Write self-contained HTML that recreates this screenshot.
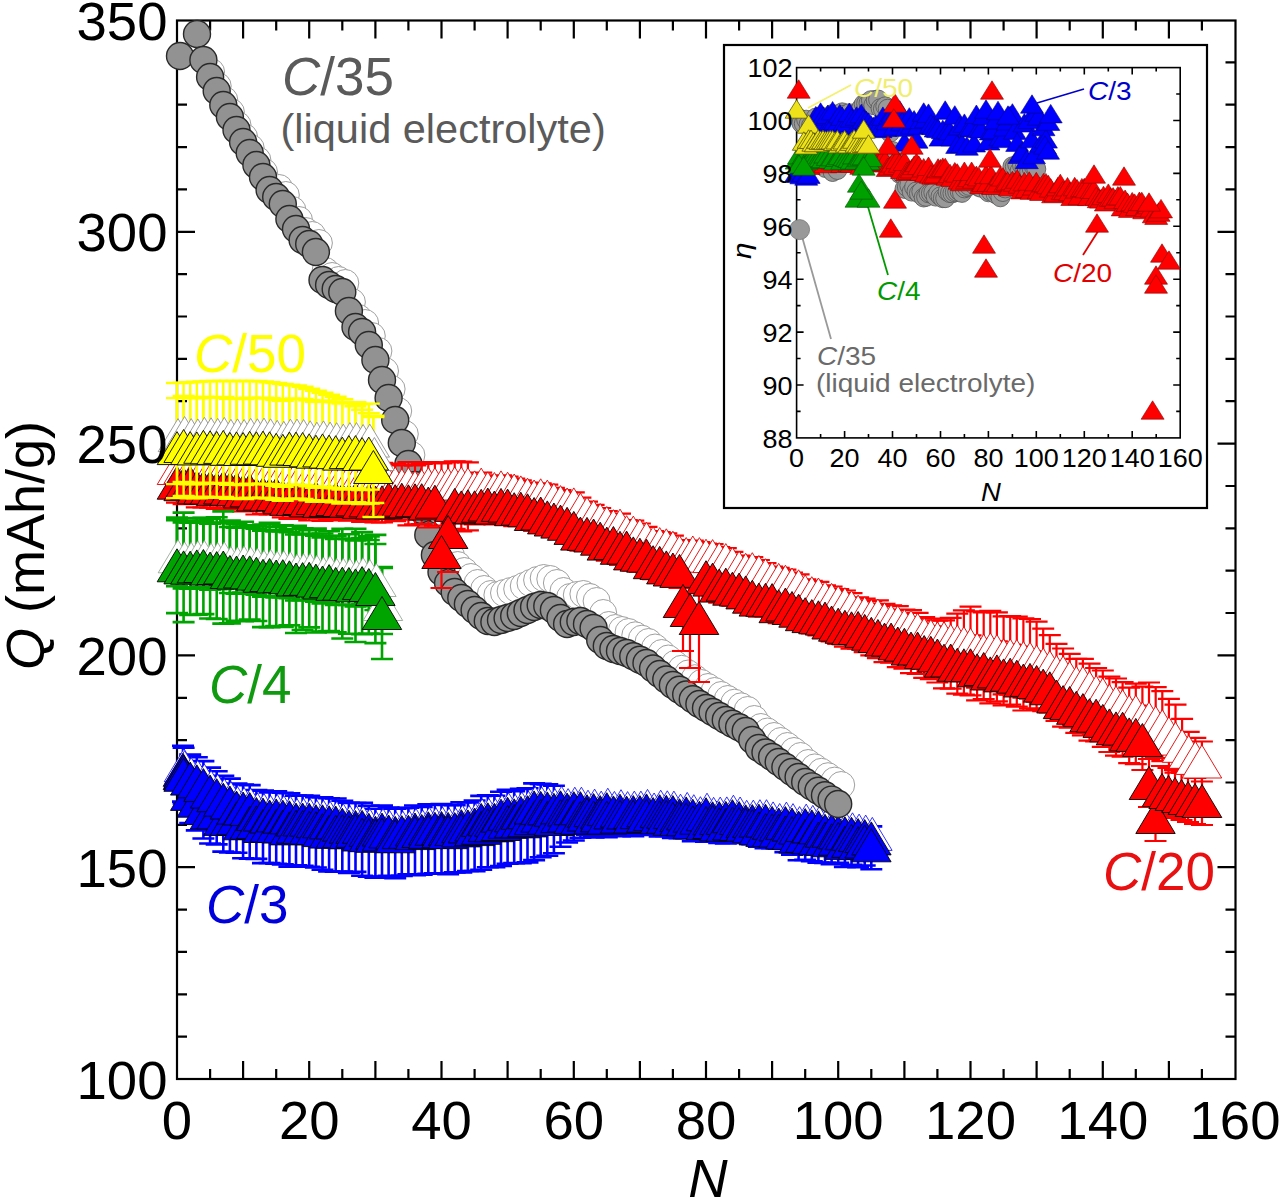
<!DOCTYPE html>
<html><head><meta charset="utf-8"><style>
html,body{margin:0;padding:0;background:#fff;}
svg{display:block;font-family:"Liberation Sans",sans-serif;}
</style></head><body>
<svg width="1280" height="1203" viewBox="0 0 1280 1203">
<rect x="0" y="0" width="1280" height="1203" fill="#fff"/>
<rect x="177" y="20.5" width="1058.5" height="1058.5" fill="none" stroke="#000" stroke-width="2.2"/>
<path d="M210.1 1079v-10M210.1 20.5v10M243.1 1079v-18M243.1 20.5v18M276.2 1079v-10M276.2 20.5v10M309.2 1079v-18M309.2 20.5v18M342.3 1079v-10M342.3 20.5v10M375.4 1079v-18M375.4 20.5v18M408.4 1079v-10M408.4 20.5v10M441.5 1079v-18M441.5 20.5v18M474.6 1079v-10M474.6 20.5v10M507.6 1079v-18M507.6 20.5v18M540.7 1079v-10M540.7 20.5v10M573.8 1079v-18M573.8 20.5v18M606.8 1079v-10M606.8 20.5v10M639.9 1079v-18M639.9 20.5v18M672.9 1079v-10M672.9 20.5v10M706.0 1079v-18M706.0 20.5v18M739.1 1079v-10M739.1 20.5v10M772.1 1079v-18M772.1 20.5v18M805.2 1079v-10M805.2 20.5v10M838.2 1079v-18M838.2 20.5v18M871.3 1079v-10M871.3 20.5v10M904.4 1079v-18M904.4 20.5v18M937.4 1079v-10M937.4 20.5v10M970.5 1079v-18M970.5 20.5v18M1003.6 1079v-10M1003.6 20.5v10M1036.6 1079v-18M1036.6 20.5v18M1069.7 1079v-10M1069.7 20.5v10M1102.8 1079v-18M1102.8 20.5v18M1135.8 1079v-10M1135.8 20.5v10M1168.9 1079v-18M1168.9 20.5v18M1201.9 1079v-10M1201.9 20.5v10M177 1036.6h10M1235.5 1036.6h-10M177 994.3h10M1235.5 994.3h-10M177 951.9h10M1235.5 951.9h-10M177 909.6h10M1235.5 909.6h-10M177 867.2h18M1235.5 867.2h-18M177 824.8h10M1235.5 824.8h-10M177 782.5h10M1235.5 782.5h-10M177 740.1h10M1235.5 740.1h-10M177 697.8h10M1235.5 697.8h-10M177 655.4h18M1235.5 655.4h-18M177 613.0h10M1235.5 613.0h-10M177 570.7h10M1235.5 570.7h-10M177 528.3h10M1235.5 528.3h-10M177 486.0h10M1235.5 486.0h-10M177 443.6h18M1235.5 443.6h-18M177 401.2h10M1235.5 401.2h-10M177 358.9h10M1235.5 358.9h-10M177 316.5h10M1235.5 316.5h-10M177 274.2h10M1235.5 274.2h-10M177 231.8h18M1235.5 231.8h-18M177 189.4h10M1235.5 189.4h-10M177 147.1h10M1235.5 147.1h-10M177 104.7h10M1235.5 104.7h-10M177 62.4h10M1235.5 62.4h-10" stroke="#000" stroke-width="2.2" fill="none"/>
<path d="M183.0 745.8V769.8M172.0 745.8h22M172.0 769.8h22" stroke="#0000ff" stroke-width="2.6" fill="none"/>
<path d="M183.0 773.1V801.6M172.0 773.1h22M172.0 801.6h22" stroke="#0000ff" stroke-width="2.6" fill="none"/>
<path d="M183.6 747.7V771.7M172.6 747.7h22M172.6 771.7h22" stroke="#0000ff" stroke-width="2.6" fill="none"/>
<path d="M183.6 774.8V803.4M172.6 774.8h22M172.6 803.4h22" stroke="#0000ff" stroke-width="2.6" fill="none"/>
<path d="M190.2 754.6V778.6M179.2 754.6h22M179.2 778.6h22" stroke="#0000ff" stroke-width="2.6" fill="none"/>
<path d="M190.2 793.9V823.1M179.2 793.9h22M179.2 823.1h22" stroke="#0000ff" stroke-width="2.6" fill="none"/>
<path d="M196.8 757.3V781.3M185.8 757.3h22M185.8 781.3h22" stroke="#0000ff" stroke-width="2.6" fill="none"/>
<path d="M196.8 800.7V830.4M185.8 800.7h22M185.8 830.4h22" stroke="#0000ff" stroke-width="2.6" fill="none"/>
<path d="M203.4 761.1V785.1M192.4 761.1h22M192.4 785.1h22" stroke="#0000ff" stroke-width="2.6" fill="none"/>
<path d="M203.4 808.1V838.5M192.4 808.1h22M192.4 838.5h22" stroke="#0000ff" stroke-width="2.6" fill="none"/>
<path d="M210.1 767.6V791.6M199.1 767.6h22M199.1 791.6h22" stroke="#0000ff" stroke-width="2.6" fill="none"/>
<path d="M210.1 812.4V843.5M199.1 812.4h22M199.1 843.5h22" stroke="#0000ff" stroke-width="2.6" fill="none"/>
<path d="M216.7 771.2V795.2M205.7 771.2h22M205.7 795.2h22" stroke="#0000ff" stroke-width="2.6" fill="none"/>
<path d="M216.7 812.5V844.4M205.7 812.5h22M205.7 844.4h22" stroke="#0000ff" stroke-width="2.6" fill="none"/>
<path d="M223.3 775.7V799.7M212.3 775.7h22M212.3 799.7h22" stroke="#0000ff" stroke-width="2.6" fill="none"/>
<path d="M223.3 818.9V851.6M212.3 818.9h22M212.3 851.6h22" stroke="#0000ff" stroke-width="2.6" fill="none"/>
<path d="M229.9 778.6V802.6M218.9 778.6h22M218.9 802.6h22" stroke="#0000ff" stroke-width="2.6" fill="none"/>
<path d="M229.9 819.0V852.5M218.9 819.0h22M218.9 852.5h22" stroke="#0000ff" stroke-width="2.6" fill="none"/>
<path d="M236.5 783.6V807.6M225.5 783.6h22M225.5 807.6h22" stroke="#0000ff" stroke-width="2.6" fill="none"/>
<path d="M236.5 818.4V852.7M225.5 818.4h22M225.5 852.7h22" stroke="#0000ff" stroke-width="2.6" fill="none"/>
<path d="M243.1 784.5V808.5M232.1 784.5h22M232.1 808.5h22" stroke="#0000ff" stroke-width="2.6" fill="none"/>
<path d="M243.1 823.3V858.3M232.1 823.3h22M232.1 858.3h22" stroke="#0000ff" stroke-width="2.6" fill="none"/>
<path d="M249.7 785.1V809.1M238.7 785.1h22M238.7 809.1h22" stroke="#0000ff" stroke-width="2.6" fill="none"/>
<path d="M249.7 822.8V858.7M238.7 822.8h22M238.7 858.7h22" stroke="#0000ff" stroke-width="2.6" fill="none"/>
<path d="M256.4 790.0V814.0M245.4 790.0h22M245.4 814.0h22" stroke="#0000ff" stroke-width="2.6" fill="none"/>
<path d="M256.4 822.3V858.9M245.4 822.3h22M245.4 858.9h22" stroke="#0000ff" stroke-width="2.6" fill="none"/>
<path d="M263.0 790.6V814.6M252.0 790.6h22M252.0 814.6h22" stroke="#0000ff" stroke-width="2.6" fill="none"/>
<path d="M263.0 826.0V863.1M252.0 826.0h22M252.0 863.1h22" stroke="#0000ff" stroke-width="2.6" fill="none"/>
<path d="M269.6 792.5V816.5M258.6 792.5h22M258.6 816.5h22" stroke="#0000ff" stroke-width="2.6" fill="none"/>
<path d="M269.6 825.6V863.0M258.6 825.6h22M258.6 863.0h22" stroke="#0000ff" stroke-width="2.6" fill="none"/>
<path d="M276.2 791.4V815.4M265.2 791.4h22M265.2 815.4h22" stroke="#0000ff" stroke-width="2.6" fill="none"/>
<path d="M276.2 826.1V863.8M265.2 826.1h22M265.2 863.8h22" stroke="#0000ff" stroke-width="2.6" fill="none"/>
<path d="M282.8 792.7V816.7M271.8 792.7h22M271.8 816.7h22" stroke="#0000ff" stroke-width="2.6" fill="none"/>
<path d="M282.8 826.5V864.4M271.8 826.5h22M271.8 864.4h22" stroke="#0000ff" stroke-width="2.6" fill="none"/>
<path d="M289.4 793.3V817.3M278.4 793.3h22M278.4 817.3h22" stroke="#0000ff" stroke-width="2.6" fill="none"/>
<path d="M289.4 828.4V866.6M278.4 828.4h22M278.4 866.6h22" stroke="#0000ff" stroke-width="2.6" fill="none"/>
<path d="M296.0 795.6V819.6M285.0 795.6h22M285.0 819.6h22" stroke="#0000ff" stroke-width="2.6" fill="none"/>
<path d="M296.0 826.7V865.2M285.0 826.7h22M285.0 865.2h22" stroke="#0000ff" stroke-width="2.6" fill="none"/>
<path d="M302.6 795.5V819.5M291.6 795.5h22M291.6 819.5h22" stroke="#0000ff" stroke-width="2.6" fill="none"/>
<path d="M302.6 827.0V865.8M291.6 827.0h22M291.6 865.8h22" stroke="#0000ff" stroke-width="2.6" fill="none"/>
<path d="M309.2 795.7V819.7M298.2 795.7h22M298.2 819.7h22" stroke="#0000ff" stroke-width="2.6" fill="none"/>
<path d="M309.2 827.7V866.8M298.2 827.7h22M298.2 866.8h22" stroke="#0000ff" stroke-width="2.6" fill="none"/>
<path d="M315.9 797.2V821.2M304.9 797.2h22M304.9 821.2h22" stroke="#0000ff" stroke-width="2.6" fill="none"/>
<path d="M315.9 828.2V867.5M304.9 828.2h22M304.9 867.5h22" stroke="#0000ff" stroke-width="2.6" fill="none"/>
<path d="M322.5 797.3V821.3M311.5 797.3h22M311.5 821.3h22" stroke="#0000ff" stroke-width="2.6" fill="none"/>
<path d="M322.5 830.1V869.8M311.5 830.1h22M311.5 869.8h22" stroke="#0000ff" stroke-width="2.6" fill="none"/>
<path d="M329.1 798.3V822.3M318.1 798.3h22M318.1 822.3h22" stroke="#0000ff" stroke-width="2.6" fill="none"/>
<path d="M329.1 831.6V871.5M318.1 831.6h22M318.1 871.5h22" stroke="#0000ff" stroke-width="2.6" fill="none"/>
<path d="M335.7 798.5V822.5M324.7 798.5h22M324.7 822.5h22" stroke="#0000ff" stroke-width="2.6" fill="none"/>
<path d="M335.7 831.7V871.8M324.7 831.7h22M324.7 871.8h22" stroke="#0000ff" stroke-width="2.6" fill="none"/>
<path d="M342.3 800.7V824.7M331.3 800.7h22M331.3 824.7h22" stroke="#0000ff" stroke-width="2.6" fill="none"/>
<path d="M342.3 831.2V871.6M331.3 831.2h22M331.3 871.6h22" stroke="#0000ff" stroke-width="2.6" fill="none"/>
<path d="M348.9 802.7V826.7M337.9 802.7h22M337.9 826.7h22" stroke="#0000ff" stroke-width="2.6" fill="none"/>
<path d="M348.9 832.3V873.0M337.9 832.3h22M337.9 873.0h22" stroke="#0000ff" stroke-width="2.6" fill="none"/>
<path d="M355.5 803.0V827.0M344.5 803.0h22M344.5 827.0h22" stroke="#0000ff" stroke-width="2.6" fill="none"/>
<path d="M355.5 830.9V871.9M344.5 830.9h22M344.5 871.9h22" stroke="#0000ff" stroke-width="2.6" fill="none"/>
<path d="M362.1 802.9V826.9M351.1 802.9h22M351.1 826.9h22" stroke="#0000ff" stroke-width="2.6" fill="none"/>
<path d="M362.1 834.5V875.7M351.1 834.5h22M351.1 875.7h22" stroke="#0000ff" stroke-width="2.6" fill="none"/>
<path d="M368.8 805.8V829.8M357.8 805.8h22M357.8 829.8h22" stroke="#0000ff" stroke-width="2.6" fill="none"/>
<path d="M368.8 835.2V876.7M357.8 835.2h22M357.8 876.7h22" stroke="#0000ff" stroke-width="2.6" fill="none"/>
<path d="M375.4 808.7V832.7M364.4 808.7h22M364.4 832.7h22" stroke="#0000ff" stroke-width="2.6" fill="none"/>
<path d="M375.4 835.8V877.6M364.4 835.8h22M364.4 877.6h22" stroke="#0000ff" stroke-width="2.6" fill="none"/>
<path d="M382.0 805.6V829.6M371.0 805.6h22M371.0 829.6h22" stroke="#0000ff" stroke-width="2.6" fill="none"/>
<path d="M382.0 834.5V876.5M371.0 834.5h22M371.0 876.5h22" stroke="#0000ff" stroke-width="2.6" fill="none"/>
<path d="M388.6 807.5V831.5M377.6 807.5h22M377.6 831.5h22" stroke="#0000ff" stroke-width="2.6" fill="none"/>
<path d="M388.6 833.8V875.8M377.6 833.8h22M377.6 875.8h22" stroke="#0000ff" stroke-width="2.6" fill="none"/>
<path d="M395.2 808.8V832.8M384.2 808.8h22M384.2 832.8h22" stroke="#0000ff" stroke-width="2.6" fill="none"/>
<path d="M395.2 836.3V878.3M384.2 836.3h22M384.2 878.3h22" stroke="#0000ff" stroke-width="2.6" fill="none"/>
<path d="M401.8 808.1V832.1M390.8 808.1h22M390.8 832.1h22" stroke="#0000ff" stroke-width="2.6" fill="none"/>
<path d="M401.8 833.9V875.9M390.8 833.9h22M390.8 875.9h22" stroke="#0000ff" stroke-width="2.6" fill="none"/>
<path d="M408.4 807.8V831.8M397.4 807.8h22M397.4 831.8h22" stroke="#0000ff" stroke-width="2.6" fill="none"/>
<path d="M408.4 832.2V874.2M397.4 832.2h22M397.4 874.2h22" stroke="#0000ff" stroke-width="2.6" fill="none"/>
<path d="M415.0 805.5V829.5M404.0 805.5h22M404.0 829.5h22" stroke="#0000ff" stroke-width="2.6" fill="none"/>
<path d="M415.0 833.1V875.1M404.0 833.1h22M404.0 875.1h22" stroke="#0000ff" stroke-width="2.6" fill="none"/>
<path d="M421.7 807.0V831.0M410.7 807.0h22M410.7 831.0h22" stroke="#0000ff" stroke-width="2.6" fill="none"/>
<path d="M421.7 832.7V874.7M410.7 832.7h22M410.7 874.7h22" stroke="#0000ff" stroke-width="2.6" fill="none"/>
<path d="M428.3 804.3V828.3M417.3 804.3h22M417.3 828.3h22" stroke="#0000ff" stroke-width="2.6" fill="none"/>
<path d="M428.3 831.8V873.8M417.3 831.8h22M417.3 873.8h22" stroke="#0000ff" stroke-width="2.6" fill="none"/>
<path d="M434.9 804.8V828.8M423.9 804.8h22M423.9 828.8h22" stroke="#0000ff" stroke-width="2.6" fill="none"/>
<path d="M434.9 831.2V873.2M423.9 831.2h22M423.9 873.2h22" stroke="#0000ff" stroke-width="2.6" fill="none"/>
<path d="M441.5 804.0V828.0M430.5 804.0h22M430.5 828.0h22" stroke="#0000ff" stroke-width="2.6" fill="none"/>
<path d="M441.5 831.2V873.2M430.5 831.2h22M430.5 873.2h22" stroke="#0000ff" stroke-width="2.6" fill="none"/>
<path d="M448.1 804.9V828.9M437.1 804.9h22M437.1 828.9h22" stroke="#0000ff" stroke-width="2.6" fill="none"/>
<path d="M448.1 832.2V874.2M437.1 832.2h22M437.1 874.2h22" stroke="#0000ff" stroke-width="2.6" fill="none"/>
<path d="M454.7 805.1V829.1M443.7 805.1h22M443.7 829.1h22" stroke="#0000ff" stroke-width="2.6" fill="none"/>
<path d="M454.7 830.4V872.4M443.7 830.4h22M443.7 872.4h22" stroke="#0000ff" stroke-width="2.6" fill="none"/>
<path d="M461.3 802.2V826.2M450.3 802.2h22M450.3 826.2h22" stroke="#0000ff" stroke-width="2.6" fill="none"/>
<path d="M461.3 830.4V872.4M450.3 830.4h22M450.3 872.4h22" stroke="#0000ff" stroke-width="2.6" fill="none"/>
<path d="M467.9 802.4V826.4M456.9 802.4h22M456.9 826.4h22" stroke="#0000ff" stroke-width="2.6" fill="none"/>
<path d="M467.9 829.0V871.0M456.9 829.0h22M456.9 871.0h22" stroke="#0000ff" stroke-width="2.6" fill="none"/>
<path d="M474.6 800.5V824.5M463.6 800.5h22M463.6 824.5h22" stroke="#0000ff" stroke-width="2.6" fill="none"/>
<path d="M474.6 829.1V871.1M463.6 829.1h22M463.6 871.1h22" stroke="#0000ff" stroke-width="2.6" fill="none"/>
<path d="M481.2 795.9V819.9M470.2 795.9h22M470.2 819.9h22" stroke="#0000ff" stroke-width="2.6" fill="none"/>
<path d="M481.2 827.8V869.8M470.2 827.8h22M470.2 869.8h22" stroke="#0000ff" stroke-width="2.6" fill="none"/>
<path d="M487.8 795.3V819.3M476.8 795.3h22M476.8 819.3h22" stroke="#0000ff" stroke-width="2.6" fill="none"/>
<path d="M487.8 825.2V867.2M476.8 825.2h22M476.8 867.2h22" stroke="#0000ff" stroke-width="2.6" fill="none"/>
<path d="M494.4 795.8V819.8M483.4 795.8h22M483.4 819.8h22" stroke="#0000ff" stroke-width="2.6" fill="none"/>
<path d="M494.4 825.2V867.2M483.4 825.2h22M483.4 867.2h22" stroke="#0000ff" stroke-width="2.6" fill="none"/>
<path d="M501.0 791.7V815.7M490.0 791.7h22M490.0 815.7h22" stroke="#0000ff" stroke-width="2.6" fill="none"/>
<path d="M501.0 824.0V866.0M490.0 824.0h22M490.0 866.0h22" stroke="#0000ff" stroke-width="2.6" fill="none"/>
<path d="M507.6 789.8V813.8M496.6 789.8h22M496.6 813.8h22" stroke="#0000ff" stroke-width="2.6" fill="none"/>
<path d="M507.6 821.8V863.8M496.6 821.8h22M496.6 863.8h22" stroke="#0000ff" stroke-width="2.6" fill="none"/>
<path d="M514.2 791.3V815.3M503.2 791.3h22M503.2 815.3h22" stroke="#0000ff" stroke-width="2.6" fill="none"/>
<path d="M514.2 821.1V863.1M503.2 821.1h22M503.2 863.1h22" stroke="#0000ff" stroke-width="2.6" fill="none"/>
<path d="M520.8 788.9V812.9M509.8 788.9h22M509.8 812.9h22" stroke="#0000ff" stroke-width="2.6" fill="none"/>
<path d="M520.8 821.3V863.3M509.8 821.3h22M509.8 863.3h22" stroke="#0000ff" stroke-width="2.6" fill="none"/>
<path d="M527.5 788.2V812.2M516.5 788.2h22M516.5 812.2h22" stroke="#0000ff" stroke-width="2.6" fill="none"/>
<path d="M527.5 820.4V862.4M516.5 820.4h22M516.5 862.4h22" stroke="#0000ff" stroke-width="2.6" fill="none"/>
<path d="M534.1 783.4V807.4M523.1 783.4h22M523.1 807.4h22" stroke="#0000ff" stroke-width="2.6" fill="none"/>
<path d="M534.1 818.1V860.1M523.1 818.1h22M523.1 860.1h22" stroke="#0000ff" stroke-width="2.6" fill="none"/>
<path d="M540.7 783.9V807.9M529.7 783.9h22M529.7 807.9h22" stroke="#0000ff" stroke-width="2.6" fill="none"/>
<path d="M540.7 815.7V857.3M529.7 815.7h22M529.7 857.3h22" stroke="#0000ff" stroke-width="2.6" fill="none"/>
<path d="M547.3 784.4V808.4M536.3 784.4h22M536.3 808.4h22" stroke="#0000ff" stroke-width="2.6" fill="none"/>
<path d="M547.3 817.8V855.8M536.3 817.8h22M536.3 855.8h22" stroke="#0000ff" stroke-width="2.6" fill="none"/>
<path d="M553.9 785.8V809.8M542.9 785.8h22M542.9 809.8h22" stroke="#0000ff" stroke-width="2.6" fill="none"/>
<path d="M553.9 819.0V853.3M542.9 819.0h22M542.9 853.3h22" stroke="#0000ff" stroke-width="2.6" fill="none"/>
<path d="M560.5 795.3V807.3M549.5 795.3h22M549.5 807.3h22" stroke="#0000ff" stroke-width="2.6" fill="none"/>
<path d="M560.5 816.0V846.7M549.5 816.0h22M549.5 846.7h22" stroke="#0000ff" stroke-width="2.6" fill="none"/>
<path d="M567.1 797.6V809.6M556.1 797.6h22M556.1 809.6h22" stroke="#0000ff" stroke-width="2.6" fill="none"/>
<path d="M567.1 815.5V842.5M556.1 815.5h22M556.1 842.5h22" stroke="#0000ff" stroke-width="2.6" fill="none"/>
<path d="M573.8 796.2V808.2M562.8 796.2h22M562.8 808.2h22" stroke="#0000ff" stroke-width="2.6" fill="none"/>
<path d="M573.8 817.1V840.5M562.8 817.1h22M562.8 840.5h22" stroke="#0000ff" stroke-width="2.6" fill="none"/>
<path d="M580.4 796.2V808.2M569.4 796.2h22M569.4 808.2h22" stroke="#0000ff" stroke-width="2.6" fill="none"/>
<path d="M580.4 817.8V837.8M569.4 817.8h22M569.4 837.8h22" stroke="#0000ff" stroke-width="2.6" fill="none"/>
<path d="M587.0 799.2V811.2M576.0 799.2h22M576.0 811.2h22" stroke="#0000ff" stroke-width="2.6" fill="none"/>
<path d="M587.0 814.6V834.6M576.0 814.6h22M576.0 834.6h22" stroke="#0000ff" stroke-width="2.6" fill="none"/>
<path d="M593.6 798.1V810.1M582.6 798.1h22M582.6 810.1h22" stroke="#0000ff" stroke-width="2.6" fill="none"/>
<path d="M593.6 817.5V837.4M582.6 817.5h22M582.6 837.4h22" stroke="#0000ff" stroke-width="2.6" fill="none"/>
<path d="M600.2 800.1V812.1M589.2 800.1h22M589.2 812.1h22" stroke="#0000ff" stroke-width="2.6" fill="none"/>
<path d="M600.2 815.3V835.1M589.2 815.3h22M589.2 835.1h22" stroke="#0000ff" stroke-width="2.6" fill="none"/>
<path d="M606.8 797.2V809.2M595.8 797.2h22M595.8 809.2h22" stroke="#0000ff" stroke-width="2.6" fill="none"/>
<path d="M606.8 817.6V837.3M595.8 817.6h22M595.8 837.3h22" stroke="#0000ff" stroke-width="2.6" fill="none"/>
<path d="M613.4 800.4V812.4M602.4 800.4h22M602.4 812.4h22" stroke="#0000ff" stroke-width="2.6" fill="none"/>
<path d="M613.4 814.7V834.4M602.4 814.7h22M602.4 834.4h22" stroke="#0000ff" stroke-width="2.6" fill="none"/>
<path d="M620.0 798.7V810.7M609.0 798.7h22M609.0 810.7h22" stroke="#0000ff" stroke-width="2.6" fill="none"/>
<path d="M620.0 816.7V836.3M609.0 816.7h22M609.0 836.3h22" stroke="#0000ff" stroke-width="2.6" fill="none"/>
<path d="M626.6 800.6V812.6M615.6 800.6h22M615.6 812.6h22" stroke="#0000ff" stroke-width="2.6" fill="none"/>
<path d="M626.6 814.3V833.9M615.6 814.3h22M615.6 833.9h22" stroke="#0000ff" stroke-width="2.6" fill="none"/>
<path d="M633.3 800.1V812.1M622.3 800.1h22M622.3 812.1h22" stroke="#0000ff" stroke-width="2.6" fill="none"/>
<path d="M633.3 816.7V836.2M622.3 816.7h22M622.3 836.2h22" stroke="#0000ff" stroke-width="2.6" fill="none"/>
<path d="M639.9 800.1V812.1M628.9 800.1h22M628.9 812.1h22" stroke="#0000ff" stroke-width="2.6" fill="none"/>
<path d="M639.9 814.7V834.1M628.9 814.7h22M628.9 834.1h22" stroke="#0000ff" stroke-width="2.6" fill="none"/>
<path d="M646.5 798.4V810.4M635.5 798.4h22M635.5 810.4h22" stroke="#0000ff" stroke-width="2.6" fill="none"/>
<path d="M646.5 815.7V835.0M635.5 815.7h22M635.5 835.0h22" stroke="#0000ff" stroke-width="2.6" fill="none"/>
<path d="M653.1 802.0V814.0M642.1 802.0h22M642.1 814.0h22" stroke="#0000ff" stroke-width="2.6" fill="none"/>
<path d="M653.1 815.3V834.6M642.1 815.3h22M642.1 834.6h22" stroke="#0000ff" stroke-width="2.6" fill="none"/>
<path d="M659.7 799.2V811.2M648.7 799.2h22M648.7 811.2h22" stroke="#0000ff" stroke-width="2.6" fill="none"/>
<path d="M659.7 817.2V836.4M648.7 817.2h22M648.7 836.4h22" stroke="#0000ff" stroke-width="2.6" fill="none"/>
<path d="M666.3 799.8V811.8M655.3 799.8h22M655.3 811.8h22" stroke="#0000ff" stroke-width="2.6" fill="none"/>
<path d="M666.3 816.9V836.0M655.3 816.9h22M655.3 836.0h22" stroke="#0000ff" stroke-width="2.6" fill="none"/>
<path d="M672.9 800.1V812.1M661.9 800.1h22M661.9 812.1h22" stroke="#0000ff" stroke-width="2.6" fill="none"/>
<path d="M672.9 818.9V838.0M661.9 818.9h22M661.9 838.0h22" stroke="#0000ff" stroke-width="2.6" fill="none"/>
<path d="M679.5 803.2V815.2M668.5 803.2h22M668.5 815.2h22" stroke="#0000ff" stroke-width="2.6" fill="none"/>
<path d="M679.5 819.1V838.1M668.5 819.1h22M668.5 838.1h22" stroke="#0000ff" stroke-width="2.6" fill="none"/>
<path d="M686.2 801.4V813.4M675.2 801.4h22M675.2 813.4h22" stroke="#0000ff" stroke-width="2.6" fill="none"/>
<path d="M686.2 819.3V838.3M675.2 819.3h22M675.2 838.3h22" stroke="#0000ff" stroke-width="2.6" fill="none"/>
<path d="M692.8 803.7V815.7M681.8 803.7h22M681.8 815.7h22" stroke="#0000ff" stroke-width="2.6" fill="none"/>
<path d="M692.8 822.3V841.2M681.8 822.3h22M681.8 841.2h22" stroke="#0000ff" stroke-width="2.6" fill="none"/>
<path d="M699.4 805.7V817.7M688.4 805.7h22M688.4 817.7h22" stroke="#0000ff" stroke-width="2.6" fill="none"/>
<path d="M699.4 820.1V838.9M688.4 820.1h22M688.4 838.9h22" stroke="#0000ff" stroke-width="2.6" fill="none"/>
<path d="M706.0 802.2V814.2M695.0 802.2h22M695.0 814.2h22" stroke="#0000ff" stroke-width="2.6" fill="none"/>
<path d="M706.0 823.0V841.8M695.0 823.0h22M695.0 841.8h22" stroke="#0000ff" stroke-width="2.6" fill="none"/>
<path d="M712.6 806.3V818.3M701.6 806.3h22M701.6 818.3h22" stroke="#0000ff" stroke-width="2.6" fill="none"/>
<path d="M712.6 822.1V840.8M701.6 822.1h22M701.6 840.8h22" stroke="#0000ff" stroke-width="2.6" fill="none"/>
<path d="M719.2 806.1V818.1M708.2 806.1h22M708.2 818.1h22" stroke="#0000ff" stroke-width="2.6" fill="none"/>
<path d="M719.2 824.3V842.9M708.2 824.3h22M708.2 842.9h22" stroke="#0000ff" stroke-width="2.6" fill="none"/>
<path d="M725.8 805.9V817.9M714.8 805.9h22M714.8 817.9h22" stroke="#0000ff" stroke-width="2.6" fill="none"/>
<path d="M725.8 824.9V843.4M714.8 824.9h22M714.8 843.4h22" stroke="#0000ff" stroke-width="2.6" fill="none"/>
<path d="M732.4 804.2V816.2M721.4 804.2h22M721.4 816.2h22" stroke="#0000ff" stroke-width="2.6" fill="none"/>
<path d="M732.4 823.5V842.0M721.4 823.5h22M721.4 842.0h22" stroke="#0000ff" stroke-width="2.6" fill="none"/>
<path d="M739.1 806.0V818.0M728.1 806.0h22M728.1 818.0h22" stroke="#0000ff" stroke-width="2.6" fill="none"/>
<path d="M739.1 824.0V842.4M728.1 824.0h22M728.1 842.4h22" stroke="#0000ff" stroke-width="2.6" fill="none"/>
<path d="M745.7 809.3V821.3M734.7 809.3h22M734.7 821.3h22" stroke="#0000ff" stroke-width="2.6" fill="none"/>
<path d="M745.7 824.7V843.0M734.7 824.7h22M734.7 843.0h22" stroke="#0000ff" stroke-width="2.6" fill="none"/>
<path d="M752.3 809.1V821.1M741.3 809.1h22M741.3 821.1h22" stroke="#0000ff" stroke-width="2.6" fill="none"/>
<path d="M752.3 826.0V844.2M741.3 826.0h22M741.3 844.2h22" stroke="#0000ff" stroke-width="2.6" fill="none"/>
<path d="M758.9 808.7V820.7M747.9 808.7h22M747.9 820.7h22" stroke="#0000ff" stroke-width="2.6" fill="none"/>
<path d="M758.9 828.4V846.6M747.9 828.4h22M747.9 846.6h22" stroke="#0000ff" stroke-width="2.6" fill="none"/>
<path d="M765.5 808.7V820.7M754.5 808.7h22M754.5 820.7h22" stroke="#0000ff" stroke-width="2.6" fill="none"/>
<path d="M765.5 829.9V848.1M754.5 829.9h22M754.5 848.1h22" stroke="#0000ff" stroke-width="2.6" fill="none"/>
<path d="M772.1 810.9V822.9M761.1 810.9h22M761.1 822.9h22" stroke="#0000ff" stroke-width="2.6" fill="none"/>
<path d="M772.1 830.2V848.3M761.1 830.2h22M761.1 848.3h22" stroke="#0000ff" stroke-width="2.6" fill="none"/>
<path d="M778.7 812.5V824.5M767.7 812.5h22M767.7 824.5h22" stroke="#0000ff" stroke-width="2.6" fill="none"/>
<path d="M778.7 830.7V848.7M767.7 830.7h22M767.7 848.7h22" stroke="#0000ff" stroke-width="2.6" fill="none"/>
<path d="M785.4 811.1V823.1M774.4 811.1h22M774.4 823.1h22" stroke="#0000ff" stroke-width="2.6" fill="none"/>
<path d="M785.4 832.5V852.1M774.4 832.5h22M774.4 852.1h22" stroke="#0000ff" stroke-width="2.6" fill="none"/>
<path d="M792.0 812.6V824.6M781.0 812.6h22M781.0 824.6h22" stroke="#0000ff" stroke-width="2.6" fill="none"/>
<path d="M792.0 833.0V854.6M781.0 833.0h22M781.0 854.6h22" stroke="#0000ff" stroke-width="2.6" fill="none"/>
<path d="M798.6 815.6V827.6M787.6 815.6h22M787.6 827.6h22" stroke="#0000ff" stroke-width="2.6" fill="none"/>
<path d="M798.6 836.6V860.2M787.6 836.6h22M787.6 860.2h22" stroke="#0000ff" stroke-width="2.6" fill="none"/>
<path d="M805.2 813.1V825.1M794.2 813.1h22M794.2 825.1h22" stroke="#0000ff" stroke-width="2.6" fill="none"/>
<path d="M805.2 835.9V859.9M794.2 835.9h22M794.2 859.9h22" stroke="#0000ff" stroke-width="2.6" fill="none"/>
<path d="M811.8 814.4V826.4M800.8 814.4h22M800.8 826.4h22" stroke="#0000ff" stroke-width="2.6" fill="none"/>
<path d="M811.8 837.3V861.3M800.8 837.3h22M800.8 861.3h22" stroke="#0000ff" stroke-width="2.6" fill="none"/>
<path d="M818.4 815.3V827.3M807.4 815.3h22M807.4 827.3h22" stroke="#0000ff" stroke-width="2.6" fill="none"/>
<path d="M818.4 838.6V862.6M807.4 838.6h22M807.4 862.6h22" stroke="#0000ff" stroke-width="2.6" fill="none"/>
<path d="M825.0 818.8V830.8M814.0 818.8h22M814.0 830.8h22" stroke="#0000ff" stroke-width="2.6" fill="none"/>
<path d="M825.0 838.9V862.9M814.0 838.9h22M814.0 862.9h22" stroke="#0000ff" stroke-width="2.6" fill="none"/>
<path d="M831.6 818.8V830.8M820.6 818.8h22M820.6 830.8h22" stroke="#0000ff" stroke-width="2.6" fill="none"/>
<path d="M831.6 840.3V864.3M820.6 840.3h22M820.6 864.3h22" stroke="#0000ff" stroke-width="2.6" fill="none"/>
<path d="M838.2 820.3V832.3M827.2 820.3h22M827.2 832.3h22" stroke="#0000ff" stroke-width="2.6" fill="none"/>
<path d="M838.2 838.8V862.8M827.2 838.8h22M827.2 862.8h22" stroke="#0000ff" stroke-width="2.6" fill="none"/>
<path d="M844.9 821.3V833.3M833.9 821.3h22M833.9 833.3h22" stroke="#0000ff" stroke-width="2.6" fill="none"/>
<path d="M844.9 842.9V866.9M833.9 842.9h22M833.9 866.9h22" stroke="#0000ff" stroke-width="2.6" fill="none"/>
<path d="M851.5 821.8V833.8M840.5 821.8h22M840.5 833.8h22" stroke="#0000ff" stroke-width="2.6" fill="none"/>
<path d="M851.5 840.9V864.9M840.5 840.9h22M840.5 864.9h22" stroke="#0000ff" stroke-width="2.6" fill="none"/>
<path d="M858.1 823.1V835.1M847.1 823.1h22M847.1 835.1h22" stroke="#0000ff" stroke-width="2.6" fill="none"/>
<path d="M858.1 843.2V867.2M847.1 843.2h22M847.1 867.2h22" stroke="#0000ff" stroke-width="2.6" fill="none"/>
<path d="M864.7 824.1V836.1M853.7 824.1h22M853.7 836.1h22" stroke="#0000ff" stroke-width="2.6" fill="none"/>
<path d="M864.7 841.5V865.5M853.7 841.5h22M853.7 865.5h22" stroke="#0000ff" stroke-width="2.6" fill="none"/>
<path d="M871.3 826.4V838.4M860.3 826.4h22M860.3 838.4h22" stroke="#0000ff" stroke-width="2.6" fill="none"/>
<path d="M871.3 845.3V869.3M860.3 845.3h22M860.3 869.3h22" stroke="#0000ff" stroke-width="2.6" fill="none"/>
<path d="M184.0 748.8L203.8 781.8L164.2 781.8Z" fill="#fff" stroke="#0000ff" stroke-width="0.8"/>
<path d="M184.6 750.7L204.4 783.7L164.9 783.7Z" fill="#fff" stroke="#0000ff" stroke-width="0.8"/>
<path d="M191.2 757.6L211.0 790.6L171.5 790.6Z" fill="#fff" stroke="#0000ff" stroke-width="0.8"/>
<path d="M197.8 760.3L217.6 793.3L178.1 793.3Z" fill="#fff" stroke="#0000ff" stroke-width="0.8"/>
<path d="M204.4 764.1L224.2 797.1L184.7 797.1Z" fill="#fff" stroke="#0000ff" stroke-width="0.8"/>
<path d="M211.1 770.6L230.8 803.6L191.3 803.6Z" fill="#fff" stroke="#0000ff" stroke-width="0.8"/>
<path d="M217.7 774.2L237.4 807.2L197.9 807.2Z" fill="#fff" stroke="#0000ff" stroke-width="0.8"/>
<path d="M224.3 778.7L244.0 811.7L204.5 811.7Z" fill="#fff" stroke="#0000ff" stroke-width="0.8"/>
<path d="M230.9 781.6L250.7 814.6L211.2 814.6Z" fill="#fff" stroke="#0000ff" stroke-width="0.8"/>
<path d="M237.5 786.6L257.3 819.6L217.8 819.6Z" fill="#fff" stroke="#0000ff" stroke-width="0.8"/>
<path d="M244.1 787.5L263.9 820.5L224.4 820.5Z" fill="#fff" stroke="#0000ff" stroke-width="0.8"/>
<path d="M250.7 788.1L270.5 821.1L231.0 821.1Z" fill="#fff" stroke="#0000ff" stroke-width="0.8"/>
<path d="M257.4 793.0L277.1 826.0L237.6 826.0Z" fill="#fff" stroke="#0000ff" stroke-width="0.8"/>
<path d="M264.0 793.6L283.7 826.6L244.2 826.6Z" fill="#fff" stroke="#0000ff" stroke-width="0.8"/>
<path d="M270.6 795.5L290.3 828.5L250.8 828.5Z" fill="#fff" stroke="#0000ff" stroke-width="0.8"/>
<path d="M277.2 794.4L296.9 827.4L257.4 827.4Z" fill="#fff" stroke="#0000ff" stroke-width="0.8"/>
<path d="M283.8 795.7L303.6 828.7L264.1 828.7Z" fill="#fff" stroke="#0000ff" stroke-width="0.8"/>
<path d="M290.4 796.3L310.2 829.3L270.7 829.3Z" fill="#fff" stroke="#0000ff" stroke-width="0.8"/>
<path d="M297.0 798.6L316.8 831.6L277.3 831.6Z" fill="#fff" stroke="#0000ff" stroke-width="0.8"/>
<path d="M303.6 798.5L323.4 831.5L283.9 831.5Z" fill="#fff" stroke="#0000ff" stroke-width="0.8"/>
<path d="M310.2 798.7L330.0 831.7L290.5 831.7Z" fill="#fff" stroke="#0000ff" stroke-width="0.8"/>
<path d="M316.9 800.2L336.6 833.2L297.1 833.2Z" fill="#fff" stroke="#0000ff" stroke-width="0.8"/>
<path d="M323.5 800.3L343.2 833.3L303.7 833.3Z" fill="#fff" stroke="#0000ff" stroke-width="0.8"/>
<path d="M330.1 801.3L349.8 834.3L310.3 834.3Z" fill="#fff" stroke="#0000ff" stroke-width="0.8"/>
<path d="M336.7 801.5L356.4 834.5L316.9 834.5Z" fill="#fff" stroke="#0000ff" stroke-width="0.8"/>
<path d="M343.3 803.7L363.1 836.7L323.6 836.7Z" fill="#fff" stroke="#0000ff" stroke-width="0.8"/>
<path d="M349.9 805.7L369.7 838.7L330.2 838.7Z" fill="#fff" stroke="#0000ff" stroke-width="0.8"/>
<path d="M356.5 806.0L376.3 839.0L336.8 839.0Z" fill="#fff" stroke="#0000ff" stroke-width="0.8"/>
<path d="M363.1 805.9L382.9 838.9L343.4 838.9Z" fill="#fff" stroke="#0000ff" stroke-width="0.8"/>
<path d="M369.8 808.8L389.5 841.8L350.0 841.8Z" fill="#fff" stroke="#0000ff" stroke-width="0.8"/>
<path d="M376.4 811.7L396.1 844.7L356.6 844.7Z" fill="#fff" stroke="#0000ff" stroke-width="0.8"/>
<path d="M383.0 808.6L402.7 841.6L363.2 841.6Z" fill="#fff" stroke="#0000ff" stroke-width="0.8"/>
<path d="M389.6 810.5L409.4 843.5L369.9 843.5Z" fill="#fff" stroke="#0000ff" stroke-width="0.8"/>
<path d="M396.2 811.8L416.0 844.8L376.5 844.8Z" fill="#fff" stroke="#0000ff" stroke-width="0.8"/>
<path d="M402.8 811.1L422.6 844.1L383.1 844.1Z" fill="#fff" stroke="#0000ff" stroke-width="0.8"/>
<path d="M409.4 810.8L429.2 843.8L389.7 843.8Z" fill="#fff" stroke="#0000ff" stroke-width="0.8"/>
<path d="M416.0 808.5L435.8 841.5L396.3 841.5Z" fill="#fff" stroke="#0000ff" stroke-width="0.8"/>
<path d="M422.7 810.0L442.4 843.0L402.9 843.0Z" fill="#fff" stroke="#0000ff" stroke-width="0.8"/>
<path d="M429.3 807.3L449.0 840.3L409.5 840.3Z" fill="#fff" stroke="#0000ff" stroke-width="0.8"/>
<path d="M435.9 807.8L455.6 840.8L416.1 840.8Z" fill="#fff" stroke="#0000ff" stroke-width="0.8"/>
<path d="M442.5 807.0L462.2 840.0L422.8 840.0Z" fill="#fff" stroke="#0000ff" stroke-width="0.8"/>
<path d="M449.1 807.9L468.9 840.9L429.4 840.9Z" fill="#fff" stroke="#0000ff" stroke-width="0.8"/>
<path d="M455.7 808.1L475.5 841.1L436.0 841.1Z" fill="#fff" stroke="#0000ff" stroke-width="0.8"/>
<path d="M462.3 805.2L482.1 838.2L442.6 838.2Z" fill="#fff" stroke="#0000ff" stroke-width="0.8"/>
<path d="M468.9 805.4L488.7 838.4L449.2 838.4Z" fill="#fff" stroke="#0000ff" stroke-width="0.8"/>
<path d="M475.6 803.5L495.3 836.5L455.8 836.5Z" fill="#fff" stroke="#0000ff" stroke-width="0.8"/>
<path d="M482.2 798.9L501.9 831.9L462.4 831.9Z" fill="#fff" stroke="#0000ff" stroke-width="0.8"/>
<path d="M488.8 798.3L508.5 831.3L469.0 831.3Z" fill="#fff" stroke="#0000ff" stroke-width="0.8"/>
<path d="M495.4 798.8L515.1 831.8L475.6 831.8Z" fill="#fff" stroke="#0000ff" stroke-width="0.8"/>
<path d="M502.0 794.7L521.8 827.7L482.3 827.7Z" fill="#fff" stroke="#0000ff" stroke-width="0.8"/>
<path d="M508.6 792.8L528.4 825.8L488.9 825.8Z" fill="#fff" stroke="#0000ff" stroke-width="0.8"/>
<path d="M515.2 794.3L535.0 827.3L495.5 827.3Z" fill="#fff" stroke="#0000ff" stroke-width="0.8"/>
<path d="M521.8 791.9L541.6 824.9L502.1 824.9Z" fill="#fff" stroke="#0000ff" stroke-width="0.8"/>
<path d="M528.5 791.2L548.2 824.2L508.7 824.2Z" fill="#fff" stroke="#0000ff" stroke-width="0.8"/>
<path d="M535.1 786.4L554.8 819.4L515.3 819.4Z" fill="#fff" stroke="#0000ff" stroke-width="0.8"/>
<path d="M541.7 786.9L561.4 819.9L521.9 819.9Z" fill="#fff" stroke="#0000ff" stroke-width="0.8"/>
<path d="M548.3 787.4L568.0 820.4L528.5 820.4Z" fill="#fff" stroke="#0000ff" stroke-width="0.8"/>
<path d="M554.9 788.8L574.7 821.8L535.2 821.8Z" fill="#fff" stroke="#0000ff" stroke-width="0.8"/>
<path d="M561.5 786.3L581.3 819.3L541.8 819.3Z" fill="#fff" stroke="#0000ff" stroke-width="0.8"/>
<path d="M568.1 788.6L587.9 821.6L548.4 821.6Z" fill="#fff" stroke="#0000ff" stroke-width="0.8"/>
<path d="M574.8 787.2L594.5 820.2L555.0 820.2Z" fill="#fff" stroke="#0000ff" stroke-width="0.8"/>
<path d="M581.4 787.2L601.1 820.2L561.6 820.2Z" fill="#fff" stroke="#0000ff" stroke-width="0.8"/>
<path d="M588.0 790.2L607.7 823.2L568.2 823.2Z" fill="#fff" stroke="#0000ff" stroke-width="0.8"/>
<path d="M594.6 789.1L614.3 822.1L574.8 822.1Z" fill="#fff" stroke="#0000ff" stroke-width="0.8"/>
<path d="M601.2 791.1L621.0 824.1L581.5 824.1Z" fill="#fff" stroke="#0000ff" stroke-width="0.8"/>
<path d="M607.8 788.2L627.6 821.2L588.1 821.2Z" fill="#fff" stroke="#0000ff" stroke-width="0.8"/>
<path d="M614.4 791.4L634.2 824.4L594.7 824.4Z" fill="#fff" stroke="#0000ff" stroke-width="0.8"/>
<path d="M621.0 789.7L640.8 822.7L601.3 822.7Z" fill="#fff" stroke="#0000ff" stroke-width="0.8"/>
<path d="M627.6 791.6L647.4 824.6L607.9 824.6Z" fill="#fff" stroke="#0000ff" stroke-width="0.8"/>
<path d="M634.3 791.1L654.0 824.1L614.5 824.1Z" fill="#fff" stroke="#0000ff" stroke-width="0.8"/>
<path d="M640.9 791.1L660.6 824.1L621.1 824.1Z" fill="#fff" stroke="#0000ff" stroke-width="0.8"/>
<path d="M647.5 789.4L667.2 822.4L627.7 822.4Z" fill="#fff" stroke="#0000ff" stroke-width="0.8"/>
<path d="M654.1 793.0L673.8 826.0L634.3 826.0Z" fill="#fff" stroke="#0000ff" stroke-width="0.8"/>
<path d="M660.7 790.2L680.5 823.2L641.0 823.2Z" fill="#fff" stroke="#0000ff" stroke-width="0.8"/>
<path d="M667.3 790.8L687.1 823.8L647.6 823.8Z" fill="#fff" stroke="#0000ff" stroke-width="0.8"/>
<path d="M673.9 791.1L693.7 824.1L654.2 824.1Z" fill="#fff" stroke="#0000ff" stroke-width="0.8"/>
<path d="M680.5 794.2L700.3 827.2L660.8 827.2Z" fill="#fff" stroke="#0000ff" stroke-width="0.8"/>
<path d="M687.2 792.4L706.9 825.4L667.4 825.4Z" fill="#fff" stroke="#0000ff" stroke-width="0.8"/>
<path d="M693.8 794.7L713.5 827.7L674.0 827.7Z" fill="#fff" stroke="#0000ff" stroke-width="0.8"/>
<path d="M700.4 796.7L720.1 829.7L680.6 829.7Z" fill="#fff" stroke="#0000ff" stroke-width="0.8"/>
<path d="M707.0 793.2L726.8 826.2L687.2 826.2Z" fill="#fff" stroke="#0000ff" stroke-width="0.8"/>
<path d="M713.6 797.3L733.4 830.3L693.9 830.3Z" fill="#fff" stroke="#0000ff" stroke-width="0.8"/>
<path d="M720.2 797.1L740.0 830.1L700.5 830.1Z" fill="#fff" stroke="#0000ff" stroke-width="0.8"/>
<path d="M726.8 796.9L746.6 829.9L707.1 829.9Z" fill="#fff" stroke="#0000ff" stroke-width="0.8"/>
<path d="M733.4 795.2L753.2 828.2L713.7 828.2Z" fill="#fff" stroke="#0000ff" stroke-width="0.8"/>
<path d="M740.1 797.0L759.8 830.0L720.3 830.0Z" fill="#fff" stroke="#0000ff" stroke-width="0.8"/>
<path d="M746.7 800.3L766.4 833.3L726.9 833.3Z" fill="#fff" stroke="#0000ff" stroke-width="0.8"/>
<path d="M753.3 800.1L773.0 833.1L733.5 833.1Z" fill="#fff" stroke="#0000ff" stroke-width="0.8"/>
<path d="M759.9 799.7L779.6 832.7L740.1 832.7Z" fill="#fff" stroke="#0000ff" stroke-width="0.8"/>
<path d="M766.5 799.7L786.3 832.7L746.8 832.7Z" fill="#fff" stroke="#0000ff" stroke-width="0.8"/>
<path d="M773.1 801.9L792.9 834.9L753.4 834.9Z" fill="#fff" stroke="#0000ff" stroke-width="0.8"/>
<path d="M779.7 803.5L799.5 836.5L760.0 836.5Z" fill="#fff" stroke="#0000ff" stroke-width="0.8"/>
<path d="M786.4 802.1L806.1 835.1L766.6 835.1Z" fill="#fff" stroke="#0000ff" stroke-width="0.8"/>
<path d="M793.0 803.6L812.7 836.6L773.2 836.6Z" fill="#fff" stroke="#0000ff" stroke-width="0.8"/>
<path d="M799.6 806.6L819.3 839.6L779.8 839.6Z" fill="#fff" stroke="#0000ff" stroke-width="0.8"/>
<path d="M806.2 804.1L825.9 837.1L786.4 837.1Z" fill="#fff" stroke="#0000ff" stroke-width="0.8"/>
<path d="M812.8 805.4L832.5 838.4L793.0 838.4Z" fill="#fff" stroke="#0000ff" stroke-width="0.8"/>
<path d="M819.4 806.3L839.2 839.3L799.7 839.3Z" fill="#fff" stroke="#0000ff" stroke-width="0.8"/>
<path d="M826.0 809.8L845.8 842.8L806.3 842.8Z" fill="#fff" stroke="#0000ff" stroke-width="0.8"/>
<path d="M832.6 809.8L852.4 842.8L812.9 842.8Z" fill="#fff" stroke="#0000ff" stroke-width="0.8"/>
<path d="M839.2 811.3L859.0 844.3L819.5 844.3Z" fill="#fff" stroke="#0000ff" stroke-width="0.8"/>
<path d="M845.9 812.3L865.6 845.3L826.1 845.3Z" fill="#fff" stroke="#0000ff" stroke-width="0.8"/>
<path d="M852.5 812.8L872.2 845.8L832.7 845.8Z" fill="#fff" stroke="#0000ff" stroke-width="0.8"/>
<path d="M859.1 814.1L878.8 847.1L839.3 847.1Z" fill="#fff" stroke="#0000ff" stroke-width="0.8"/>
<path d="M865.7 815.1L885.4 848.1L845.9 848.1Z" fill="#fff" stroke="#0000ff" stroke-width="0.8"/>
<path d="M872.3 817.4L892.1 850.4L852.6 850.4Z" fill="#fff" stroke="#0000ff" stroke-width="0.8"/>
<path d="M183.0 753.3L202.8 786.3L163.2 786.3Z" fill="#0000ff" stroke="#000" stroke-width="0.9"/>
<path d="M183.0 756.6L202.8 789.6L163.2 789.6Z" fill="#0000ff" stroke="#000" stroke-width="0.9"/>
<path d="M183.6 755.2L203.4 788.2L163.9 788.2Z" fill="#0000ff" stroke="#000" stroke-width="0.9"/>
<path d="M183.6 758.3L203.4 791.3L163.9 791.3Z" fill="#0000ff" stroke="#000" stroke-width="0.9"/>
<path d="M190.2 762.1L210.0 795.1L170.5 795.1Z" fill="#0000ff" stroke="#000" stroke-width="0.9"/>
<path d="M190.2 777.4L210.0 810.4L170.5 810.4Z" fill="#0000ff" stroke="#000" stroke-width="0.9"/>
<path d="M196.8 764.8L216.6 797.8L177.1 797.8Z" fill="#0000ff" stroke="#000" stroke-width="0.9"/>
<path d="M196.8 784.2L216.6 817.2L177.1 817.2Z" fill="#0000ff" stroke="#000" stroke-width="0.9"/>
<path d="M203.4 768.6L223.2 801.6L183.7 801.6Z" fill="#0000ff" stroke="#000" stroke-width="0.9"/>
<path d="M203.4 791.6L223.2 824.6L183.7 824.6Z" fill="#0000ff" stroke="#000" stroke-width="0.9"/>
<path d="M210.1 775.1L229.8 808.1L190.3 808.1Z" fill="#0000ff" stroke="#000" stroke-width="0.9"/>
<path d="M210.1 795.9L229.8 828.9L190.3 828.9Z" fill="#0000ff" stroke="#000" stroke-width="0.9"/>
<path d="M216.7 778.7L236.4 811.7L196.9 811.7Z" fill="#0000ff" stroke="#000" stroke-width="0.9"/>
<path d="M216.7 796.0L236.4 829.0L196.9 829.0Z" fill="#0000ff" stroke="#000" stroke-width="0.9"/>
<path d="M223.3 783.2L243.0 816.2L203.5 816.2Z" fill="#0000ff" stroke="#000" stroke-width="0.9"/>
<path d="M223.3 802.4L243.0 835.4L203.5 835.4Z" fill="#0000ff" stroke="#000" stroke-width="0.9"/>
<path d="M229.9 786.1L249.7 819.1L210.2 819.1Z" fill="#0000ff" stroke="#000" stroke-width="0.9"/>
<path d="M229.9 802.5L249.7 835.5L210.2 835.5Z" fill="#0000ff" stroke="#000" stroke-width="0.9"/>
<path d="M236.5 791.1L256.3 824.1L216.8 824.1Z" fill="#0000ff" stroke="#000" stroke-width="0.9"/>
<path d="M236.5 801.9L256.3 834.9L216.8 834.9Z" fill="#0000ff" stroke="#000" stroke-width="0.9"/>
<path d="M243.1 792.0L262.9 825.0L223.4 825.0Z" fill="#0000ff" stroke="#000" stroke-width="0.9"/>
<path d="M243.1 806.8L262.9 839.8L223.4 839.8Z" fill="#0000ff" stroke="#000" stroke-width="0.9"/>
<path d="M249.7 792.6L269.5 825.6L230.0 825.6Z" fill="#0000ff" stroke="#000" stroke-width="0.9"/>
<path d="M249.7 806.3L269.5 839.3L230.0 839.3Z" fill="#0000ff" stroke="#000" stroke-width="0.9"/>
<path d="M256.4 797.5L276.1 830.5L236.6 830.5Z" fill="#0000ff" stroke="#000" stroke-width="0.9"/>
<path d="M256.4 805.8L276.1 838.8L236.6 838.8Z" fill="#0000ff" stroke="#000" stroke-width="0.9"/>
<path d="M263.0 798.1L282.7 831.1L243.2 831.1Z" fill="#0000ff" stroke="#000" stroke-width="0.9"/>
<path d="M263.0 809.5L282.7 842.5L243.2 842.5Z" fill="#0000ff" stroke="#000" stroke-width="0.9"/>
<path d="M269.6 800.0L289.3 833.0L249.8 833.0Z" fill="#0000ff" stroke="#000" stroke-width="0.9"/>
<path d="M269.6 809.1L289.3 842.1L249.8 842.1Z" fill="#0000ff" stroke="#000" stroke-width="0.9"/>
<path d="M276.2 798.9L295.9 831.9L256.4 831.9Z" fill="#0000ff" stroke="#000" stroke-width="0.9"/>
<path d="M276.2 809.6L295.9 842.6L256.4 842.6Z" fill="#0000ff" stroke="#000" stroke-width="0.9"/>
<path d="M282.8 800.2L302.6 833.2L263.1 833.2Z" fill="#0000ff" stroke="#000" stroke-width="0.9"/>
<path d="M282.8 810.0L302.6 843.0L263.1 843.0Z" fill="#0000ff" stroke="#000" stroke-width="0.9"/>
<path d="M289.4 800.8L309.2 833.8L269.7 833.8Z" fill="#0000ff" stroke="#000" stroke-width="0.9"/>
<path d="M289.4 811.9L309.2 844.9L269.7 844.9Z" fill="#0000ff" stroke="#000" stroke-width="0.9"/>
<path d="M296.0 803.1L315.8 836.1L276.3 836.1Z" fill="#0000ff" stroke="#000" stroke-width="0.9"/>
<path d="M296.0 810.2L315.8 843.2L276.3 843.2Z" fill="#0000ff" stroke="#000" stroke-width="0.9"/>
<path d="M302.6 803.0L322.4 836.0L282.9 836.0Z" fill="#0000ff" stroke="#000" stroke-width="0.9"/>
<path d="M302.6 810.5L322.4 843.5L282.9 843.5Z" fill="#0000ff" stroke="#000" stroke-width="0.9"/>
<path d="M309.2 803.2L329.0 836.2L289.5 836.2Z" fill="#0000ff" stroke="#000" stroke-width="0.9"/>
<path d="M309.2 811.2L329.0 844.2L289.5 844.2Z" fill="#0000ff" stroke="#000" stroke-width="0.9"/>
<path d="M315.9 804.7L335.6 837.7L296.1 837.7Z" fill="#0000ff" stroke="#000" stroke-width="0.9"/>
<path d="M315.9 811.7L335.6 844.7L296.1 844.7Z" fill="#0000ff" stroke="#000" stroke-width="0.9"/>
<path d="M322.5 804.8L342.2 837.8L302.7 837.8Z" fill="#0000ff" stroke="#000" stroke-width="0.9"/>
<path d="M322.5 813.6L342.2 846.6L302.7 846.6Z" fill="#0000ff" stroke="#000" stroke-width="0.9"/>
<path d="M329.1 805.8L348.8 838.8L309.3 838.8Z" fill="#0000ff" stroke="#000" stroke-width="0.9"/>
<path d="M329.1 815.1L348.8 848.1L309.3 848.1Z" fill="#0000ff" stroke="#000" stroke-width="0.9"/>
<path d="M335.7 806.0L355.4 839.0L315.9 839.0Z" fill="#0000ff" stroke="#000" stroke-width="0.9"/>
<path d="M335.7 815.2L355.4 848.2L315.9 848.2Z" fill="#0000ff" stroke="#000" stroke-width="0.9"/>
<path d="M342.3 808.2L362.1 841.2L322.6 841.2Z" fill="#0000ff" stroke="#000" stroke-width="0.9"/>
<path d="M342.3 814.7L362.1 847.7L322.6 847.7Z" fill="#0000ff" stroke="#000" stroke-width="0.9"/>
<path d="M348.9 810.2L368.7 843.2L329.2 843.2Z" fill="#0000ff" stroke="#000" stroke-width="0.9"/>
<path d="M348.9 815.8L368.7 848.8L329.2 848.8Z" fill="#0000ff" stroke="#000" stroke-width="0.9"/>
<path d="M355.5 810.5L375.3 843.5L335.8 843.5Z" fill="#0000ff" stroke="#000" stroke-width="0.9"/>
<path d="M355.5 814.4L375.3 847.4L335.8 847.4Z" fill="#0000ff" stroke="#000" stroke-width="0.9"/>
<path d="M362.1 810.4L381.9 843.4L342.4 843.4Z" fill="#0000ff" stroke="#000" stroke-width="0.9"/>
<path d="M362.1 818.0L381.9 851.0L342.4 851.0Z" fill="#0000ff" stroke="#000" stroke-width="0.9"/>
<path d="M368.8 813.3L388.5 846.3L349.0 846.3Z" fill="#0000ff" stroke="#000" stroke-width="0.9"/>
<path d="M368.8 818.7L388.5 851.7L349.0 851.7Z" fill="#0000ff" stroke="#000" stroke-width="0.9"/>
<path d="M375.4 816.2L395.1 849.2L355.6 849.2Z" fill="#0000ff" stroke="#000" stroke-width="0.9"/>
<path d="M375.4 819.3L395.1 852.3L355.6 852.3Z" fill="#0000ff" stroke="#000" stroke-width="0.9"/>
<path d="M382.0 813.1L401.7 846.1L362.2 846.1Z" fill="#0000ff" stroke="#000" stroke-width="0.9"/>
<path d="M382.0 818.0L401.7 851.0L362.2 851.0Z" fill="#0000ff" stroke="#000" stroke-width="0.9"/>
<path d="M388.6 815.0L408.4 848.0L368.9 848.0Z" fill="#0000ff" stroke="#000" stroke-width="0.9"/>
<path d="M395.2 816.3L415.0 849.3L375.5 849.3Z" fill="#0000ff" stroke="#000" stroke-width="0.9"/>
<path d="M395.2 819.8L415.0 852.8L375.5 852.8Z" fill="#0000ff" stroke="#000" stroke-width="0.9"/>
<path d="M401.8 815.6L421.6 848.6L382.1 848.6Z" fill="#0000ff" stroke="#000" stroke-width="0.9"/>
<path d="M408.4 815.3L428.2 848.3L388.7 848.3Z" fill="#0000ff" stroke="#000" stroke-width="0.9"/>
<path d="M415.0 813.0L434.8 846.0L395.3 846.0Z" fill="#0000ff" stroke="#000" stroke-width="0.9"/>
<path d="M415.0 816.6L434.8 849.6L395.3 849.6Z" fill="#0000ff" stroke="#000" stroke-width="0.9"/>
<path d="M421.7 814.5L441.4 847.5L401.9 847.5Z" fill="#0000ff" stroke="#000" stroke-width="0.9"/>
<path d="M428.3 811.8L448.0 844.8L408.5 844.8Z" fill="#0000ff" stroke="#000" stroke-width="0.9"/>
<path d="M428.3 815.3L448.0 848.3L408.5 848.3Z" fill="#0000ff" stroke="#000" stroke-width="0.9"/>
<path d="M434.9 812.3L454.6 845.3L415.1 845.3Z" fill="#0000ff" stroke="#000" stroke-width="0.9"/>
<path d="M441.5 811.5L461.2 844.5L421.8 844.5Z" fill="#0000ff" stroke="#000" stroke-width="0.9"/>
<path d="M441.5 814.7L461.2 847.7L421.8 847.7Z" fill="#0000ff" stroke="#000" stroke-width="0.9"/>
<path d="M448.1 812.4L467.9 845.4L428.4 845.4Z" fill="#0000ff" stroke="#000" stroke-width="0.9"/>
<path d="M448.1 815.7L467.9 848.7L428.4 848.7Z" fill="#0000ff" stroke="#000" stroke-width="0.9"/>
<path d="M454.7 812.6L474.5 845.6L435.0 845.6Z" fill="#0000ff" stroke="#000" stroke-width="0.9"/>
<path d="M461.3 809.7L481.1 842.7L441.6 842.7Z" fill="#0000ff" stroke="#000" stroke-width="0.9"/>
<path d="M461.3 813.9L481.1 846.9L441.6 846.9Z" fill="#0000ff" stroke="#000" stroke-width="0.9"/>
<path d="M467.9 809.9L487.7 842.9L448.2 842.9Z" fill="#0000ff" stroke="#000" stroke-width="0.9"/>
<path d="M474.6 808.0L494.3 841.0L454.8 841.0Z" fill="#0000ff" stroke="#000" stroke-width="0.9"/>
<path d="M474.6 812.6L494.3 845.6L454.8 845.6Z" fill="#0000ff" stroke="#000" stroke-width="0.9"/>
<path d="M481.2 803.4L500.9 836.4L461.4 836.4Z" fill="#0000ff" stroke="#000" stroke-width="0.9"/>
<path d="M481.2 811.3L500.9 844.3L461.4 844.3Z" fill="#0000ff" stroke="#000" stroke-width="0.9"/>
<path d="M487.8 802.8L507.5 835.8L468.0 835.8Z" fill="#0000ff" stroke="#000" stroke-width="0.9"/>
<path d="M487.8 808.7L507.5 841.7L468.0 841.7Z" fill="#0000ff" stroke="#000" stroke-width="0.9"/>
<path d="M494.4 803.3L514.1 836.3L474.6 836.3Z" fill="#0000ff" stroke="#000" stroke-width="0.9"/>
<path d="M494.4 808.7L514.1 841.7L474.6 841.7Z" fill="#0000ff" stroke="#000" stroke-width="0.9"/>
<path d="M501.0 799.2L520.8 832.2L481.3 832.2Z" fill="#0000ff" stroke="#000" stroke-width="0.9"/>
<path d="M501.0 807.5L520.8 840.5L481.3 840.5Z" fill="#0000ff" stroke="#000" stroke-width="0.9"/>
<path d="M507.6 797.3L527.4 830.3L487.9 830.3Z" fill="#0000ff" stroke="#000" stroke-width="0.9"/>
<path d="M507.6 805.3L527.4 838.3L487.9 838.3Z" fill="#0000ff" stroke="#000" stroke-width="0.9"/>
<path d="M514.2 798.8L534.0 831.8L494.5 831.8Z" fill="#0000ff" stroke="#000" stroke-width="0.9"/>
<path d="M514.2 804.6L534.0 837.6L494.5 837.6Z" fill="#0000ff" stroke="#000" stroke-width="0.9"/>
<path d="M520.8 796.4L540.6 829.4L501.1 829.4Z" fill="#0000ff" stroke="#000" stroke-width="0.9"/>
<path d="M520.8 804.8L540.6 837.8L501.1 837.8Z" fill="#0000ff" stroke="#000" stroke-width="0.9"/>
<path d="M527.5 795.7L547.2 828.7L507.7 828.7Z" fill="#0000ff" stroke="#000" stroke-width="0.9"/>
<path d="M527.5 803.9L547.2 836.9L507.7 836.9Z" fill="#0000ff" stroke="#000" stroke-width="0.9"/>
<path d="M534.1 790.9L553.8 823.9L514.3 823.9Z" fill="#0000ff" stroke="#000" stroke-width="0.9"/>
<path d="M534.1 801.6L553.8 834.6L514.3 834.6Z" fill="#0000ff" stroke="#000" stroke-width="0.9"/>
<path d="M540.7 791.4L560.4 824.4L520.9 824.4Z" fill="#0000ff" stroke="#000" stroke-width="0.9"/>
<path d="M540.7 799.2L560.4 832.2L520.9 832.2Z" fill="#0000ff" stroke="#000" stroke-width="0.9"/>
<path d="M547.3 791.9L567.0 824.9L527.5 824.9Z" fill="#0000ff" stroke="#000" stroke-width="0.9"/>
<path d="M547.3 801.3L567.0 834.3L527.5 834.3Z" fill="#0000ff" stroke="#000" stroke-width="0.9"/>
<path d="M553.9 793.3L573.7 826.3L534.2 826.3Z" fill="#0000ff" stroke="#000" stroke-width="0.9"/>
<path d="M553.9 802.5L573.7 835.5L534.2 835.5Z" fill="#0000ff" stroke="#000" stroke-width="0.9"/>
<path d="M560.5 790.8L580.3 823.8L540.8 823.8Z" fill="#0000ff" stroke="#000" stroke-width="0.9"/>
<path d="M560.5 799.5L580.3 832.5L540.8 832.5Z" fill="#0000ff" stroke="#000" stroke-width="0.9"/>
<path d="M567.1 793.1L586.9 826.1L547.4 826.1Z" fill="#0000ff" stroke="#000" stroke-width="0.9"/>
<path d="M567.1 799.0L586.9 832.0L547.4 832.0Z" fill="#0000ff" stroke="#000" stroke-width="0.9"/>
<path d="M573.8 791.7L593.5 824.7L554.0 824.7Z" fill="#0000ff" stroke="#000" stroke-width="0.9"/>
<path d="M573.8 800.6L593.5 833.6L554.0 833.6Z" fill="#0000ff" stroke="#000" stroke-width="0.9"/>
<path d="M580.4 791.7L600.1 824.7L560.6 824.7Z" fill="#0000ff" stroke="#000" stroke-width="0.9"/>
<path d="M580.4 801.3L600.1 834.3L560.6 834.3Z" fill="#0000ff" stroke="#000" stroke-width="0.9"/>
<path d="M587.0 794.7L606.7 827.7L567.2 827.7Z" fill="#0000ff" stroke="#000" stroke-width="0.9"/>
<path d="M587.0 798.1L606.7 831.1L567.2 831.1Z" fill="#0000ff" stroke="#000" stroke-width="0.9"/>
<path d="M593.6 793.6L613.3 826.6L573.8 826.6Z" fill="#0000ff" stroke="#000" stroke-width="0.9"/>
<path d="M593.6 801.0L613.3 834.0L573.8 834.0Z" fill="#0000ff" stroke="#000" stroke-width="0.9"/>
<path d="M600.2 795.6L620.0 828.6L580.5 828.6Z" fill="#0000ff" stroke="#000" stroke-width="0.9"/>
<path d="M600.2 798.8L620.0 831.8L580.5 831.8Z" fill="#0000ff" stroke="#000" stroke-width="0.9"/>
<path d="M606.8 792.7L626.6 825.7L587.1 825.7Z" fill="#0000ff" stroke="#000" stroke-width="0.9"/>
<path d="M606.8 801.1L626.6 834.1L587.1 834.1Z" fill="#0000ff" stroke="#000" stroke-width="0.9"/>
<path d="M613.4 795.9L633.2 828.9L593.7 828.9Z" fill="#0000ff" stroke="#000" stroke-width="0.9"/>
<path d="M620.0 794.2L639.8 827.2L600.3 827.2Z" fill="#0000ff" stroke="#000" stroke-width="0.9"/>
<path d="M620.0 800.2L639.8 833.2L600.3 833.2Z" fill="#0000ff" stroke="#000" stroke-width="0.9"/>
<path d="M626.6 796.1L646.4 829.1L606.9 829.1Z" fill="#0000ff" stroke="#000" stroke-width="0.9"/>
<path d="M633.3 795.6L653.0 828.6L613.5 828.6Z" fill="#0000ff" stroke="#000" stroke-width="0.9"/>
<path d="M633.3 800.2L653.0 833.2L613.5 833.2Z" fill="#0000ff" stroke="#000" stroke-width="0.9"/>
<path d="M639.9 795.6L659.6 828.6L620.1 828.6Z" fill="#0000ff" stroke="#000" stroke-width="0.9"/>
<path d="M646.5 793.9L666.2 826.9L626.7 826.9Z" fill="#0000ff" stroke="#000" stroke-width="0.9"/>
<path d="M646.5 799.2L666.2 832.2L626.7 832.2Z" fill="#0000ff" stroke="#000" stroke-width="0.9"/>
<path d="M653.1 797.5L672.8 830.5L633.3 830.5Z" fill="#0000ff" stroke="#000" stroke-width="0.9"/>
<path d="M659.7 794.7L679.5 827.7L640.0 827.7Z" fill="#0000ff" stroke="#000" stroke-width="0.9"/>
<path d="M659.7 800.7L679.5 833.7L640.0 833.7Z" fill="#0000ff" stroke="#000" stroke-width="0.9"/>
<path d="M666.3 795.3L686.1 828.3L646.6 828.3Z" fill="#0000ff" stroke="#000" stroke-width="0.9"/>
<path d="M666.3 800.4L686.1 833.4L646.6 833.4Z" fill="#0000ff" stroke="#000" stroke-width="0.9"/>
<path d="M672.9 795.6L692.7 828.6L653.2 828.6Z" fill="#0000ff" stroke="#000" stroke-width="0.9"/>
<path d="M672.9 802.4L692.7 835.4L653.2 835.4Z" fill="#0000ff" stroke="#000" stroke-width="0.9"/>
<path d="M679.5 798.7L699.3 831.7L659.8 831.7Z" fill="#0000ff" stroke="#000" stroke-width="0.9"/>
<path d="M679.5 802.6L699.3 835.6L659.8 835.6Z" fill="#0000ff" stroke="#000" stroke-width="0.9"/>
<path d="M686.2 796.9L705.9 829.9L666.4 829.9Z" fill="#0000ff" stroke="#000" stroke-width="0.9"/>
<path d="M686.2 802.8L705.9 835.8L666.4 835.8Z" fill="#0000ff" stroke="#000" stroke-width="0.9"/>
<path d="M692.8 799.2L712.5 832.2L673.0 832.2Z" fill="#0000ff" stroke="#000" stroke-width="0.9"/>
<path d="M692.8 805.8L712.5 838.8L673.0 838.8Z" fill="#0000ff" stroke="#000" stroke-width="0.9"/>
<path d="M699.4 801.2L719.1 834.2L679.6 834.2Z" fill="#0000ff" stroke="#000" stroke-width="0.9"/>
<path d="M706.0 797.7L725.8 830.7L686.2 830.7Z" fill="#0000ff" stroke="#000" stroke-width="0.9"/>
<path d="M706.0 806.5L725.8 839.5L686.2 839.5Z" fill="#0000ff" stroke="#000" stroke-width="0.9"/>
<path d="M712.6 801.8L732.4 834.8L692.9 834.8Z" fill="#0000ff" stroke="#000" stroke-width="0.9"/>
<path d="M712.6 805.6L732.4 838.6L692.9 838.6Z" fill="#0000ff" stroke="#000" stroke-width="0.9"/>
<path d="M719.2 801.6L739.0 834.6L699.5 834.6Z" fill="#0000ff" stroke="#000" stroke-width="0.9"/>
<path d="M719.2 807.8L739.0 840.8L699.5 840.8Z" fill="#0000ff" stroke="#000" stroke-width="0.9"/>
<path d="M725.8 801.4L745.6 834.4L706.1 834.4Z" fill="#0000ff" stroke="#000" stroke-width="0.9"/>
<path d="M725.8 808.4L745.6 841.4L706.1 841.4Z" fill="#0000ff" stroke="#000" stroke-width="0.9"/>
<path d="M732.4 799.7L752.2 832.7L712.7 832.7Z" fill="#0000ff" stroke="#000" stroke-width="0.9"/>
<path d="M732.4 807.0L752.2 840.0L712.7 840.0Z" fill="#0000ff" stroke="#000" stroke-width="0.9"/>
<path d="M739.1 801.5L758.8 834.5L719.3 834.5Z" fill="#0000ff" stroke="#000" stroke-width="0.9"/>
<path d="M739.1 807.5L758.8 840.5L719.3 840.5Z" fill="#0000ff" stroke="#000" stroke-width="0.9"/>
<path d="M745.7 804.8L765.4 837.8L725.9 837.8Z" fill="#0000ff" stroke="#000" stroke-width="0.9"/>
<path d="M745.7 808.2L765.4 841.2L725.9 841.2Z" fill="#0000ff" stroke="#000" stroke-width="0.9"/>
<path d="M752.3 804.6L772.0 837.6L732.5 837.6Z" fill="#0000ff" stroke="#000" stroke-width="0.9"/>
<path d="M752.3 809.5L772.0 842.5L732.5 842.5Z" fill="#0000ff" stroke="#000" stroke-width="0.9"/>
<path d="M758.9 804.2L778.6 837.2L739.1 837.2Z" fill="#0000ff" stroke="#000" stroke-width="0.9"/>
<path d="M758.9 811.9L778.6 844.9L739.1 844.9Z" fill="#0000ff" stroke="#000" stroke-width="0.9"/>
<path d="M765.5 804.2L785.3 837.2L745.8 837.2Z" fill="#0000ff" stroke="#000" stroke-width="0.9"/>
<path d="M765.5 813.4L785.3 846.4L745.8 846.4Z" fill="#0000ff" stroke="#000" stroke-width="0.9"/>
<path d="M772.1 806.4L791.9 839.4L752.4 839.4Z" fill="#0000ff" stroke="#000" stroke-width="0.9"/>
<path d="M772.1 813.7L791.9 846.7L752.4 846.7Z" fill="#0000ff" stroke="#000" stroke-width="0.9"/>
<path d="M778.7 808.0L798.5 841.0L759.0 841.0Z" fill="#0000ff" stroke="#000" stroke-width="0.9"/>
<path d="M778.7 814.2L798.5 847.2L759.0 847.2Z" fill="#0000ff" stroke="#000" stroke-width="0.9"/>
<path d="M785.4 806.6L805.1 839.6L765.6 839.6Z" fill="#0000ff" stroke="#000" stroke-width="0.9"/>
<path d="M785.4 816.0L805.1 849.0L765.6 849.0Z" fill="#0000ff" stroke="#000" stroke-width="0.9"/>
<path d="M792.0 808.1L811.7 841.1L772.2 841.1Z" fill="#0000ff" stroke="#000" stroke-width="0.9"/>
<path d="M792.0 816.5L811.7 849.5L772.2 849.5Z" fill="#0000ff" stroke="#000" stroke-width="0.9"/>
<path d="M798.6 811.1L818.3 844.1L778.8 844.1Z" fill="#0000ff" stroke="#000" stroke-width="0.9"/>
<path d="M798.6 820.1L818.3 853.1L778.8 853.1Z" fill="#0000ff" stroke="#000" stroke-width="0.9"/>
<path d="M805.2 808.6L824.9 841.6L785.4 841.6Z" fill="#0000ff" stroke="#000" stroke-width="0.9"/>
<path d="M805.2 819.4L824.9 852.4L785.4 852.4Z" fill="#0000ff" stroke="#000" stroke-width="0.9"/>
<path d="M811.8 809.9L831.5 842.9L792.0 842.9Z" fill="#0000ff" stroke="#000" stroke-width="0.9"/>
<path d="M811.8 820.8L831.5 853.8L792.0 853.8Z" fill="#0000ff" stroke="#000" stroke-width="0.9"/>
<path d="M818.4 810.8L838.2 843.8L798.7 843.8Z" fill="#0000ff" stroke="#000" stroke-width="0.9"/>
<path d="M818.4 822.1L838.2 855.1L798.7 855.1Z" fill="#0000ff" stroke="#000" stroke-width="0.9"/>
<path d="M825.0 814.3L844.8 847.3L805.3 847.3Z" fill="#0000ff" stroke="#000" stroke-width="0.9"/>
<path d="M825.0 822.4L844.8 855.4L805.3 855.4Z" fill="#0000ff" stroke="#000" stroke-width="0.9"/>
<path d="M831.6 814.3L851.4 847.3L811.9 847.3Z" fill="#0000ff" stroke="#000" stroke-width="0.9"/>
<path d="M831.6 823.8L851.4 856.8L811.9 856.8Z" fill="#0000ff" stroke="#000" stroke-width="0.9"/>
<path d="M838.2 815.8L858.0 848.8L818.5 848.8Z" fill="#0000ff" stroke="#000" stroke-width="0.9"/>
<path d="M838.2 822.3L858.0 855.3L818.5 855.3Z" fill="#0000ff" stroke="#000" stroke-width="0.9"/>
<path d="M844.9 816.8L864.6 849.8L825.1 849.8Z" fill="#0000ff" stroke="#000" stroke-width="0.9"/>
<path d="M844.9 826.4L864.6 859.4L825.1 859.4Z" fill="#0000ff" stroke="#000" stroke-width="0.9"/>
<path d="M851.5 817.3L871.2 850.3L831.7 850.3Z" fill="#0000ff" stroke="#000" stroke-width="0.9"/>
<path d="M851.5 824.4L871.2 857.4L831.7 857.4Z" fill="#0000ff" stroke="#000" stroke-width="0.9"/>
<path d="M858.1 818.6L877.8 851.6L838.3 851.6Z" fill="#0000ff" stroke="#000" stroke-width="0.9"/>
<path d="M858.1 826.7L877.8 859.7L838.3 859.7Z" fill="#0000ff" stroke="#000" stroke-width="0.9"/>
<path d="M864.7 819.6L884.4 852.6L844.9 852.6Z" fill="#0000ff" stroke="#000" stroke-width="0.9"/>
<path d="M864.7 825.0L884.4 858.0L844.9 858.0Z" fill="#0000ff" stroke="#000" stroke-width="0.9"/>
<path d="M871.3 821.9L891.1 854.9L851.6 854.9Z" fill="#0000ff" stroke="#000" stroke-width="0.9"/>
<path d="M871.3 828.8L891.1 861.8L851.6 861.8Z" fill="#0000ff" stroke="#000" stroke-width="0.9"/>
<circle cx="211.1" cy="72.0" r="13.5" fill="#fff" stroke="#a0a0a0" stroke-width="1.0"/>
<circle cx="217.7" cy="86.0" r="13.5" fill="#fff" stroke="#a0a0a0" stroke-width="1.0"/>
<circle cx="224.3" cy="100.0" r="13.5" fill="#fff" stroke="#a0a0a0" stroke-width="1.0"/>
<circle cx="230.9" cy="112.0" r="13.5" fill="#fff" stroke="#a0a0a0" stroke-width="1.0"/>
<circle cx="237.5" cy="125.0" r="13.5" fill="#fff" stroke="#a0a0a0" stroke-width="1.0"/>
<circle cx="244.1" cy="137.0" r="13.5" fill="#fff" stroke="#a0a0a0" stroke-width="1.0"/>
<circle cx="250.7" cy="148.0" r="13.5" fill="#fff" stroke="#a0a0a0" stroke-width="1.0"/>
<circle cx="257.4" cy="160.0" r="13.5" fill="#fff" stroke="#a0a0a0" stroke-width="1.0"/>
<circle cx="264.0" cy="172.0" r="13.5" fill="#fff" stroke="#a0a0a0" stroke-width="1.0"/>
<circle cx="270.6" cy="185.0" r="13.5" fill="#fff" stroke="#a0a0a0" stroke-width="1.0"/>
<circle cx="279.2" cy="188.0" r="13.5" fill="#fff" stroke="#a0a0a0" stroke-width="1.0"/>
<circle cx="285.8" cy="195.0" r="13.5" fill="#fff" stroke="#a0a0a0" stroke-width="1.0"/>
<circle cx="292.4" cy="210.0" r="13.5" fill="#fff" stroke="#a0a0a0" stroke-width="1.0"/>
<circle cx="299.0" cy="220.0" r="13.5" fill="#fff" stroke="#a0a0a0" stroke-width="1.0"/>
<circle cx="305.6" cy="231.0" r="13.5" fill="#fff" stroke="#a0a0a0" stroke-width="1.0"/>
<circle cx="312.2" cy="235.0" r="13.5" fill="#fff" stroke="#a0a0a0" stroke-width="1.0"/>
<circle cx="318.9" cy="243.0" r="13.5" fill="#fff" stroke="#a0a0a0" stroke-width="1.0"/>
<circle cx="325.5" cy="271.0" r="13.5" fill="#fff" stroke="#a0a0a0" stroke-width="1.0"/>
<circle cx="332.1" cy="276.0" r="13.5" fill="#fff" stroke="#a0a0a0" stroke-width="1.0"/>
<circle cx="338.7" cy="280.0" r="13.5" fill="#fff" stroke="#a0a0a0" stroke-width="1.0"/>
<circle cx="345.3" cy="283.0" r="13.5" fill="#fff" stroke="#a0a0a0" stroke-width="1.0"/>
<circle cx="351.9" cy="302.0" r="13.5" fill="#fff" stroke="#a0a0a0" stroke-width="1.0"/>
<circle cx="358.5" cy="318.0" r="13.5" fill="#fff" stroke="#a0a0a0" stroke-width="1.0"/>
<circle cx="365.1" cy="323.0" r="13.5" fill="#fff" stroke="#a0a0a0" stroke-width="1.0"/>
<circle cx="371.8" cy="336.0" r="13.5" fill="#fff" stroke="#a0a0a0" stroke-width="1.0"/>
<circle cx="378.4" cy="351.0" r="13.5" fill="#fff" stroke="#a0a0a0" stroke-width="1.0"/>
<circle cx="385.0" cy="371.0" r="13.5" fill="#fff" stroke="#a0a0a0" stroke-width="1.0"/>
<circle cx="391.6" cy="389.0" r="13.5" fill="#fff" stroke="#a0a0a0" stroke-width="1.0"/>
<circle cx="398.2" cy="411.0" r="13.5" fill="#fff" stroke="#a0a0a0" stroke-width="1.0"/>
<circle cx="404.8" cy="434.0" r="13.5" fill="#fff" stroke="#a0a0a0" stroke-width="1.0"/>
<circle cx="411.4" cy="455.0" r="13.5" fill="#fff" stroke="#a0a0a0" stroke-width="1.0"/>
<circle cx="418.0" cy="476.0" r="13.5" fill="#fff" stroke="#a0a0a0" stroke-width="1.0"/>
<circle cx="424.7" cy="501.0" r="13.5" fill="#fff" stroke="#a0a0a0" stroke-width="1.0"/>
<circle cx="431.3" cy="508.0" r="13.5" fill="#fff" stroke="#a0a0a0" stroke-width="1.0"/>
<circle cx="437.9" cy="528.0" r="13.5" fill="#fff" stroke="#a0a0a0" stroke-width="1.0"/>
<circle cx="444.5" cy="545.0" r="13.5" fill="#fff" stroke="#a0a0a0" stroke-width="1.0"/>
<circle cx="451.1" cy="556.0" r="13.5" fill="#fff" stroke="#a0a0a0" stroke-width="1.0"/>
<circle cx="457.7" cy="565.0" r="13.5" fill="#fff" stroke="#a0a0a0" stroke-width="1.0"/>
<circle cx="464.3" cy="571.0" r="13.5" fill="#fff" stroke="#a0a0a0" stroke-width="1.0"/>
<circle cx="470.9" cy="577.0" r="13.5" fill="#fff" stroke="#a0a0a0" stroke-width="1.0"/>
<circle cx="477.6" cy="583.0" r="13.5" fill="#fff" stroke="#a0a0a0" stroke-width="1.0"/>
<circle cx="484.2" cy="589.0" r="13.5" fill="#fff" stroke="#a0a0a0" stroke-width="1.0"/>
<circle cx="490.8" cy="594.0" r="13.5" fill="#fff" stroke="#a0a0a0" stroke-width="1.0"/>
<circle cx="497.4" cy="595.0" r="13.5" fill="#fff" stroke="#a0a0a0" stroke-width="1.0"/>
<circle cx="504.0" cy="593.0" r="13.5" fill="#fff" stroke="#a0a0a0" stroke-width="1.0"/>
<circle cx="510.6" cy="591.0" r="13.5" fill="#fff" stroke="#a0a0a0" stroke-width="1.0"/>
<circle cx="517.2" cy="589.0" r="13.5" fill="#fff" stroke="#a0a0a0" stroke-width="1.0"/>
<circle cx="523.8" cy="586.0" r="13.5" fill="#fff" stroke="#a0a0a0" stroke-width="1.0"/>
<circle cx="530.5" cy="583.0" r="13.5" fill="#fff" stroke="#a0a0a0" stroke-width="1.0"/>
<circle cx="537.1" cy="580.0" r="13.5" fill="#fff" stroke="#a0a0a0" stroke-width="1.0"/>
<circle cx="543.7" cy="578.0" r="13.5" fill="#fff" stroke="#a0a0a0" stroke-width="1.0"/>
<circle cx="550.3" cy="579.0" r="13.5" fill="#fff" stroke="#a0a0a0" stroke-width="1.0"/>
<circle cx="556.9" cy="583.0" r="13.5" fill="#fff" stroke="#a0a0a0" stroke-width="1.0"/>
<circle cx="563.5" cy="591.0" r="13.5" fill="#fff" stroke="#a0a0a0" stroke-width="1.0"/>
<circle cx="570.1" cy="597.0" r="13.5" fill="#fff" stroke="#a0a0a0" stroke-width="1.0"/>
<circle cx="576.8" cy="595.0" r="13.5" fill="#fff" stroke="#a0a0a0" stroke-width="1.0"/>
<circle cx="583.4" cy="594.0" r="13.5" fill="#fff" stroke="#a0a0a0" stroke-width="1.0"/>
<circle cx="590.0" cy="597.0" r="13.5" fill="#fff" stroke="#a0a0a0" stroke-width="1.0"/>
<circle cx="596.6" cy="601.0" r="13.5" fill="#fff" stroke="#a0a0a0" stroke-width="1.0"/>
<circle cx="603.2" cy="613.0" r="13.5" fill="#fff" stroke="#a0a0a0" stroke-width="1.0"/>
<circle cx="608.8" cy="625.0" r="13.5" fill="#fff" stroke="#a0a0a0" stroke-width="1.0"/>
<circle cx="615.4" cy="628.0" r="13.5" fill="#fff" stroke="#a0a0a0" stroke-width="1.0"/>
<circle cx="622.0" cy="630.0" r="13.5" fill="#fff" stroke="#a0a0a0" stroke-width="1.0"/>
<circle cx="628.6" cy="632.0" r="13.5" fill="#fff" stroke="#a0a0a0" stroke-width="1.0"/>
<circle cx="635.3" cy="635.3" r="13.5" fill="#fff" stroke="#a0a0a0" stroke-width="1.0"/>
<circle cx="641.9" cy="638.7" r="13.5" fill="#fff" stroke="#a0a0a0" stroke-width="1.0"/>
<circle cx="648.5" cy="642.0" r="13.5" fill="#fff" stroke="#a0a0a0" stroke-width="1.0"/>
<circle cx="655.1" cy="647.5" r="13.5" fill="#fff" stroke="#a0a0a0" stroke-width="1.0"/>
<circle cx="661.7" cy="653.0" r="13.5" fill="#fff" stroke="#a0a0a0" stroke-width="1.0"/>
<circle cx="668.3" cy="658.5" r="13.5" fill="#fff" stroke="#a0a0a0" stroke-width="1.0"/>
<circle cx="674.9" cy="664.0" r="13.5" fill="#fff" stroke="#a0a0a0" stroke-width="1.0"/>
<circle cx="681.5" cy="668.8" r="13.5" fill="#fff" stroke="#a0a0a0" stroke-width="1.0"/>
<circle cx="688.2" cy="673.5" r="13.5" fill="#fff" stroke="#a0a0a0" stroke-width="1.0"/>
<circle cx="694.8" cy="678.2" r="13.5" fill="#fff" stroke="#a0a0a0" stroke-width="1.0"/>
<circle cx="701.4" cy="683.0" r="13.5" fill="#fff" stroke="#a0a0a0" stroke-width="1.0"/>
<circle cx="708.0" cy="687.0" r="13.5" fill="#fff" stroke="#a0a0a0" stroke-width="1.0"/>
<circle cx="714.6" cy="691.0" r="13.5" fill="#fff" stroke="#a0a0a0" stroke-width="1.0"/>
<circle cx="721.2" cy="695.0" r="13.5" fill="#fff" stroke="#a0a0a0" stroke-width="1.0"/>
<circle cx="727.8" cy="699.0" r="13.5" fill="#fff" stroke="#a0a0a0" stroke-width="1.0"/>
<circle cx="734.4" cy="702.7" r="13.5" fill="#fff" stroke="#a0a0a0" stroke-width="1.0"/>
<circle cx="741.1" cy="706.3" r="13.5" fill="#fff" stroke="#a0a0a0" stroke-width="1.0"/>
<circle cx="747.7" cy="710.0" r="13.5" fill="#fff" stroke="#a0a0a0" stroke-width="1.0"/>
<circle cx="754.3" cy="719.0" r="13.5" fill="#fff" stroke="#a0a0a0" stroke-width="1.0"/>
<circle cx="760.9" cy="727.0" r="13.5" fill="#fff" stroke="#a0a0a0" stroke-width="1.0"/>
<circle cx="767.5" cy="731.5" r="13.5" fill="#fff" stroke="#a0a0a0" stroke-width="1.0"/>
<circle cx="774.1" cy="736.0" r="13.5" fill="#fff" stroke="#a0a0a0" stroke-width="1.0"/>
<circle cx="780.7" cy="741.0" r="13.5" fill="#fff" stroke="#a0a0a0" stroke-width="1.0"/>
<circle cx="787.4" cy="746.0" r="13.5" fill="#fff" stroke="#a0a0a0" stroke-width="1.0"/>
<circle cx="794.0" cy="751.0" r="13.5" fill="#fff" stroke="#a0a0a0" stroke-width="1.0"/>
<circle cx="800.6" cy="756.0" r="13.5" fill="#fff" stroke="#a0a0a0" stroke-width="1.0"/>
<circle cx="808.2" cy="763.0" r="13.5" fill="#fff" stroke="#a0a0a0" stroke-width="1.0"/>
<circle cx="814.8" cy="767.4" r="13.5" fill="#fff" stroke="#a0a0a0" stroke-width="1.0"/>
<circle cx="821.4" cy="771.8" r="13.5" fill="#fff" stroke="#a0a0a0" stroke-width="1.0"/>
<circle cx="828.0" cy="776.2" r="13.5" fill="#fff" stroke="#a0a0a0" stroke-width="1.0"/>
<circle cx="834.6" cy="780.6" r="13.5" fill="#fff" stroke="#a0a0a0" stroke-width="1.0"/>
<circle cx="841.2" cy="785.0" r="13.5" fill="#fff" stroke="#a0a0a0" stroke-width="1.0"/>
<circle cx="180.0" cy="56.0" r="13.5" fill="#929292" stroke="#2a2a2a" stroke-width="1.4"/>
<circle cx="197.0" cy="34.0" r="13.5" fill="#929292" stroke="#2a2a2a" stroke-width="1.4"/>
<circle cx="203.4" cy="60.0" r="13.5" fill="#929292" stroke="#2a2a2a" stroke-width="1.4"/>
<circle cx="210.1" cy="77.0" r="13.5" fill="#929292" stroke="#2a2a2a" stroke-width="1.4"/>
<circle cx="216.7" cy="91.0" r="13.5" fill="#929292" stroke="#2a2a2a" stroke-width="1.4"/>
<circle cx="223.3" cy="105.0" r="13.5" fill="#929292" stroke="#2a2a2a" stroke-width="1.4"/>
<circle cx="229.9" cy="117.0" r="13.5" fill="#929292" stroke="#2a2a2a" stroke-width="1.4"/>
<circle cx="236.5" cy="130.0" r="13.5" fill="#929292" stroke="#2a2a2a" stroke-width="1.4"/>
<circle cx="243.1" cy="142.0" r="13.5" fill="#929292" stroke="#2a2a2a" stroke-width="1.4"/>
<circle cx="249.7" cy="153.0" r="13.5" fill="#929292" stroke="#2a2a2a" stroke-width="1.4"/>
<circle cx="256.4" cy="165.0" r="13.5" fill="#929292" stroke="#2a2a2a" stroke-width="1.4"/>
<circle cx="263.0" cy="177.0" r="13.5" fill="#929292" stroke="#2a2a2a" stroke-width="1.4"/>
<circle cx="269.6" cy="190.0" r="13.5" fill="#929292" stroke="#2a2a2a" stroke-width="1.4"/>
<circle cx="276.2" cy="197.0" r="13.5" fill="#929292" stroke="#2a2a2a" stroke-width="1.4"/>
<circle cx="282.8" cy="204.0" r="13.5" fill="#929292" stroke="#2a2a2a" stroke-width="1.4"/>
<circle cx="289.4" cy="219.0" r="13.5" fill="#929292" stroke="#2a2a2a" stroke-width="1.4"/>
<circle cx="296.0" cy="229.0" r="13.5" fill="#929292" stroke="#2a2a2a" stroke-width="1.4"/>
<circle cx="302.6" cy="240.0" r="13.5" fill="#929292" stroke="#2a2a2a" stroke-width="1.4"/>
<circle cx="309.2" cy="244.0" r="13.5" fill="#929292" stroke="#2a2a2a" stroke-width="1.4"/>
<circle cx="315.9" cy="252.0" r="13.5" fill="#929292" stroke="#2a2a2a" stroke-width="1.4"/>
<circle cx="322.5" cy="280.0" r="13.5" fill="#929292" stroke="#2a2a2a" stroke-width="1.4"/>
<circle cx="329.1" cy="285.0" r="13.5" fill="#929292" stroke="#2a2a2a" stroke-width="1.4"/>
<circle cx="335.7" cy="289.0" r="13.5" fill="#929292" stroke="#2a2a2a" stroke-width="1.4"/>
<circle cx="342.3" cy="292.0" r="13.5" fill="#929292" stroke="#2a2a2a" stroke-width="1.4"/>
<circle cx="348.9" cy="311.0" r="13.5" fill="#929292" stroke="#2a2a2a" stroke-width="1.4"/>
<circle cx="355.5" cy="327.0" r="13.5" fill="#929292" stroke="#2a2a2a" stroke-width="1.4"/>
<circle cx="362.1" cy="332.0" r="13.5" fill="#929292" stroke="#2a2a2a" stroke-width="1.4"/>
<circle cx="368.8" cy="345.0" r="13.5" fill="#929292" stroke="#2a2a2a" stroke-width="1.4"/>
<circle cx="375.4" cy="360.0" r="13.5" fill="#929292" stroke="#2a2a2a" stroke-width="1.4"/>
<circle cx="382.0" cy="380.0" r="13.5" fill="#929292" stroke="#2a2a2a" stroke-width="1.4"/>
<circle cx="388.6" cy="398.0" r="13.5" fill="#929292" stroke="#2a2a2a" stroke-width="1.4"/>
<circle cx="395.2" cy="420.0" r="13.5" fill="#929292" stroke="#2a2a2a" stroke-width="1.4"/>
<circle cx="401.8" cy="443.0" r="13.5" fill="#929292" stroke="#2a2a2a" stroke-width="1.4"/>
<circle cx="408.4" cy="464.0" r="13.5" fill="#929292" stroke="#2a2a2a" stroke-width="1.4"/>
<circle cx="415.0" cy="485.0" r="13.5" fill="#929292" stroke="#2a2a2a" stroke-width="1.4"/>
<circle cx="421.7" cy="510.0" r="13.5" fill="#929292" stroke="#2a2a2a" stroke-width="1.4"/>
<circle cx="428.3" cy="535.0" r="13.5" fill="#929292" stroke="#2a2a2a" stroke-width="1.4"/>
<circle cx="434.9" cy="555.0" r="13.5" fill="#929292" stroke="#2a2a2a" stroke-width="1.4"/>
<circle cx="441.5" cy="572.0" r="13.5" fill="#929292" stroke="#2a2a2a" stroke-width="1.4"/>
<circle cx="448.1" cy="583.0" r="13.5" fill="#929292" stroke="#2a2a2a" stroke-width="1.4"/>
<circle cx="454.7" cy="592.0" r="13.5" fill="#929292" stroke="#2a2a2a" stroke-width="1.4"/>
<circle cx="461.3" cy="598.0" r="13.5" fill="#929292" stroke="#2a2a2a" stroke-width="1.4"/>
<circle cx="467.9" cy="604.0" r="13.5" fill="#929292" stroke="#2a2a2a" stroke-width="1.4"/>
<circle cx="474.6" cy="610.0" r="13.5" fill="#929292" stroke="#2a2a2a" stroke-width="1.4"/>
<circle cx="481.2" cy="616.0" r="13.5" fill="#929292" stroke="#2a2a2a" stroke-width="1.4"/>
<circle cx="487.8" cy="621.0" r="13.5" fill="#929292" stroke="#2a2a2a" stroke-width="1.4"/>
<circle cx="494.4" cy="622.0" r="13.5" fill="#929292" stroke="#2a2a2a" stroke-width="1.4"/>
<circle cx="501.0" cy="620.0" r="13.5" fill="#929292" stroke="#2a2a2a" stroke-width="1.4"/>
<circle cx="507.6" cy="618.0" r="13.5" fill="#929292" stroke="#2a2a2a" stroke-width="1.4"/>
<circle cx="514.2" cy="616.0" r="13.5" fill="#929292" stroke="#2a2a2a" stroke-width="1.4"/>
<circle cx="520.8" cy="613.0" r="13.5" fill="#929292" stroke="#2a2a2a" stroke-width="1.4"/>
<circle cx="527.5" cy="610.0" r="13.5" fill="#929292" stroke="#2a2a2a" stroke-width="1.4"/>
<circle cx="534.1" cy="607.0" r="13.5" fill="#929292" stroke="#2a2a2a" stroke-width="1.4"/>
<circle cx="540.7" cy="605.0" r="13.5" fill="#929292" stroke="#2a2a2a" stroke-width="1.4"/>
<circle cx="547.3" cy="606.0" r="13.5" fill="#929292" stroke="#2a2a2a" stroke-width="1.4"/>
<circle cx="553.9" cy="610.0" r="13.5" fill="#929292" stroke="#2a2a2a" stroke-width="1.4"/>
<circle cx="560.5" cy="618.0" r="13.5" fill="#929292" stroke="#2a2a2a" stroke-width="1.4"/>
<circle cx="567.1" cy="624.0" r="13.5" fill="#929292" stroke="#2a2a2a" stroke-width="1.4"/>
<circle cx="573.8" cy="622.0" r="13.5" fill="#929292" stroke="#2a2a2a" stroke-width="1.4"/>
<circle cx="580.4" cy="621.0" r="13.5" fill="#929292" stroke="#2a2a2a" stroke-width="1.4"/>
<circle cx="587.0" cy="624.0" r="13.5" fill="#929292" stroke="#2a2a2a" stroke-width="1.4"/>
<circle cx="593.6" cy="628.0" r="13.5" fill="#929292" stroke="#2a2a2a" stroke-width="1.4"/>
<circle cx="600.2" cy="640.0" r="13.5" fill="#929292" stroke="#2a2a2a" stroke-width="1.4"/>
<circle cx="606.8" cy="646.0" r="13.5" fill="#929292" stroke="#2a2a2a" stroke-width="1.4"/>
<circle cx="613.4" cy="649.0" r="13.5" fill="#929292" stroke="#2a2a2a" stroke-width="1.4"/>
<circle cx="620.0" cy="651.0" r="13.5" fill="#929292" stroke="#2a2a2a" stroke-width="1.4"/>
<circle cx="626.6" cy="653.0" r="13.5" fill="#929292" stroke="#2a2a2a" stroke-width="1.4"/>
<circle cx="633.3" cy="656.3" r="13.5" fill="#929292" stroke="#2a2a2a" stroke-width="1.4"/>
<circle cx="639.9" cy="659.7" r="13.5" fill="#929292" stroke="#2a2a2a" stroke-width="1.4"/>
<circle cx="646.5" cy="663.0" r="13.5" fill="#929292" stroke="#2a2a2a" stroke-width="1.4"/>
<circle cx="653.1" cy="668.5" r="13.5" fill="#929292" stroke="#2a2a2a" stroke-width="1.4"/>
<circle cx="659.7" cy="674.0" r="13.5" fill="#929292" stroke="#2a2a2a" stroke-width="1.4"/>
<circle cx="666.3" cy="679.5" r="13.5" fill="#929292" stroke="#2a2a2a" stroke-width="1.4"/>
<circle cx="672.9" cy="685.0" r="13.5" fill="#929292" stroke="#2a2a2a" stroke-width="1.4"/>
<circle cx="679.5" cy="689.8" r="13.5" fill="#929292" stroke="#2a2a2a" stroke-width="1.4"/>
<circle cx="686.2" cy="694.5" r="13.5" fill="#929292" stroke="#2a2a2a" stroke-width="1.4"/>
<circle cx="692.8" cy="699.2" r="13.5" fill="#929292" stroke="#2a2a2a" stroke-width="1.4"/>
<circle cx="699.4" cy="704.0" r="13.5" fill="#929292" stroke="#2a2a2a" stroke-width="1.4"/>
<circle cx="706.0" cy="708.0" r="13.5" fill="#929292" stroke="#2a2a2a" stroke-width="1.4"/>
<circle cx="712.6" cy="712.0" r="13.5" fill="#929292" stroke="#2a2a2a" stroke-width="1.4"/>
<circle cx="719.2" cy="716.0" r="13.5" fill="#929292" stroke="#2a2a2a" stroke-width="1.4"/>
<circle cx="725.8" cy="720.0" r="13.5" fill="#929292" stroke="#2a2a2a" stroke-width="1.4"/>
<circle cx="732.4" cy="723.7" r="13.5" fill="#929292" stroke="#2a2a2a" stroke-width="1.4"/>
<circle cx="739.1" cy="727.3" r="13.5" fill="#929292" stroke="#2a2a2a" stroke-width="1.4"/>
<circle cx="745.7" cy="731.0" r="13.5" fill="#929292" stroke="#2a2a2a" stroke-width="1.4"/>
<circle cx="752.3" cy="740.0" r="13.5" fill="#929292" stroke="#2a2a2a" stroke-width="1.4"/>
<circle cx="758.9" cy="748.0" r="13.5" fill="#929292" stroke="#2a2a2a" stroke-width="1.4"/>
<circle cx="765.5" cy="752.5" r="13.5" fill="#929292" stroke="#2a2a2a" stroke-width="1.4"/>
<circle cx="772.1" cy="757.0" r="13.5" fill="#929292" stroke="#2a2a2a" stroke-width="1.4"/>
<circle cx="778.7" cy="762.0" r="13.5" fill="#929292" stroke="#2a2a2a" stroke-width="1.4"/>
<circle cx="785.4" cy="767.0" r="13.5" fill="#929292" stroke="#2a2a2a" stroke-width="1.4"/>
<circle cx="792.0" cy="772.0" r="13.5" fill="#929292" stroke="#2a2a2a" stroke-width="1.4"/>
<circle cx="798.6" cy="777.0" r="13.5" fill="#929292" stroke="#2a2a2a" stroke-width="1.4"/>
<circle cx="805.2" cy="782.0" r="13.5" fill="#929292" stroke="#2a2a2a" stroke-width="1.4"/>
<circle cx="811.8" cy="786.4" r="13.5" fill="#929292" stroke="#2a2a2a" stroke-width="1.4"/>
<circle cx="818.4" cy="790.8" r="13.5" fill="#929292" stroke="#2a2a2a" stroke-width="1.4"/>
<circle cx="825.0" cy="795.2" r="13.5" fill="#929292" stroke="#2a2a2a" stroke-width="1.4"/>
<circle cx="831.6" cy="799.6" r="13.5" fill="#929292" stroke="#2a2a2a" stroke-width="1.4"/>
<circle cx="838.2" cy="804.0" r="13.5" fill="#929292" stroke="#2a2a2a" stroke-width="1.4"/>
<path d="M177.0 448.0V488.0M166.0 448.0h22M166.0 488.0h22" stroke="#ff0000" stroke-width="2.2" fill="none"/>
<path d="M183.6 447.1V487.1M172.6 447.1h22M172.6 487.1h22" stroke="#ff0000" stroke-width="2.2" fill="none"/>
<path d="M190.2 449.8V489.8M179.2 449.8h22M179.2 489.8h22" stroke="#ff0000" stroke-width="2.2" fill="none"/>
<path d="M196.8 450.5V490.5M185.8 450.5h22M185.8 490.5h22" stroke="#ff0000" stroke-width="2.2" fill="none"/>
<path d="M203.4 450.5V490.5M192.4 450.5h22M192.4 490.5h22" stroke="#ff0000" stroke-width="2.2" fill="none"/>
<path d="M210.1 452.0V492.0M199.1 452.0h22M199.1 492.0h22" stroke="#ff0000" stroke-width="2.2" fill="none"/>
<path d="M216.7 449.6V489.6M205.7 449.6h22M205.7 489.6h22" stroke="#ff0000" stroke-width="2.2" fill="none"/>
<path d="M223.3 450.0V490.0M212.3 450.0h22M212.3 490.0h22" stroke="#ff0000" stroke-width="2.2" fill="none"/>
<path d="M229.9 450.0V490.0M218.9 450.0h22M218.9 490.0h22" stroke="#ff0000" stroke-width="2.2" fill="none"/>
<path d="M236.5 452.0V492.0M225.5 452.0h22M225.5 492.0h22" stroke="#ff0000" stroke-width="2.2" fill="none"/>
<path d="M243.1 451.9V491.9M232.1 451.9h22M232.1 491.9h22" stroke="#ff0000" stroke-width="2.2" fill="none"/>
<path d="M249.7 452.2V492.2M238.7 452.2h22M238.7 492.2h22" stroke="#ff0000" stroke-width="2.2" fill="none"/>
<path d="M256.4 453.0V493.0M245.4 453.0h22M245.4 493.0h22" stroke="#ff0000" stroke-width="2.2" fill="none"/>
<path d="M263.0 452.7V492.7M252.0 452.7h22M252.0 492.7h22" stroke="#ff0000" stroke-width="2.2" fill="none"/>
<path d="M269.6 452.0V492.0M258.6 452.0h22M258.6 492.0h22" stroke="#ff0000" stroke-width="2.2" fill="none"/>
<path d="M276.2 454.3V494.3M265.2 454.3h22M265.2 494.3h22" stroke="#ff0000" stroke-width="2.2" fill="none"/>
<path d="M282.8 454.0V494.0M271.8 454.0h22M271.8 494.0h22" stroke="#ff0000" stroke-width="2.2" fill="none"/>
<path d="M289.4 455.1V495.1M278.4 455.1h22M278.4 495.1h22" stroke="#ff0000" stroke-width="2.2" fill="none"/>
<path d="M296.0 457.5V497.5M285.0 457.5h22M285.0 497.5h22" stroke="#ff0000" stroke-width="2.2" fill="none"/>
<path d="M302.6 454.9V494.9M291.6 454.9h22M291.6 494.9h22" stroke="#ff0000" stroke-width="2.2" fill="none"/>
<path d="M309.2 457.3V497.3M298.2 457.3h22M298.2 497.3h22" stroke="#ff0000" stroke-width="2.2" fill="none"/>
<path d="M315.9 457.9V497.9M304.9 457.9h22M304.9 497.9h22" stroke="#ff0000" stroke-width="2.2" fill="none"/>
<path d="M322.5 457.0V497.0M311.5 457.0h22M311.5 497.0h22" stroke="#ff0000" stroke-width="2.2" fill="none"/>
<path d="M329.1 458.3V498.3M318.1 458.3h22M318.1 498.3h22" stroke="#ff0000" stroke-width="2.2" fill="none"/>
<path d="M335.7 460.9V500.9M324.7 460.9h22M324.7 500.9h22" stroke="#ff0000" stroke-width="2.2" fill="none"/>
<path d="M342.3 458.9V498.9M331.3 458.9h22M331.3 498.9h22" stroke="#ff0000" stroke-width="2.2" fill="none"/>
<path d="M348.9 460.9V500.9M337.9 460.9h22M337.9 500.9h22" stroke="#ff0000" stroke-width="2.2" fill="none"/>
<path d="M355.5 462.0V502.0M344.5 462.0h22M344.5 502.0h22" stroke="#ff0000" stroke-width="2.2" fill="none"/>
<path d="M362.1 460.6V500.6M351.1 460.6h22M351.1 500.6h22" stroke="#ff0000" stroke-width="2.2" fill="none"/>
<path d="M368.8 463.7V503.7M357.8 463.7h22M357.8 503.7h22" stroke="#ff0000" stroke-width="2.2" fill="none"/>
<path d="M375.4 462.8V502.8M364.4 462.8h22M364.4 502.8h22" stroke="#ff0000" stroke-width="2.2" fill="none"/>
<path d="M382.0 462.8V502.8M371.0 462.8h22M371.0 502.8h22" stroke="#ff0000" stroke-width="2.2" fill="none"/>
<path d="M388.6 464.2V504.2M377.6 464.2h22M377.6 504.2h22" stroke="#ff0000" stroke-width="2.2" fill="none"/>
<path d="M395.2 463.6V503.6M384.2 463.6h22M384.2 503.6h22" stroke="#ff0000" stroke-width="2.2" fill="none"/>
<path d="M401.8 465.3V505.3M390.8 465.3h22M390.8 505.3h22" stroke="#ff0000" stroke-width="2.2" fill="none"/>
<path d="M408.4 462.1V506.1M397.4 462.1h22M397.4 506.1h22" stroke="#ff0000" stroke-width="2.2" fill="none"/>
<path d="M415.0 465.3V509.3M404.0 465.3h22M404.0 509.3h22" stroke="#ff0000" stroke-width="2.2" fill="none"/>
<path d="M421.7 464.0V508.0M410.7 464.0h22M410.7 508.0h22" stroke="#ff0000" stroke-width="2.2" fill="none"/>
<path d="M428.3 462.1V506.1M417.3 462.1h22M417.3 506.1h22" stroke="#ff0000" stroke-width="2.2" fill="none"/>
<path d="M434.9 462.3V506.3M423.9 462.3h22M423.9 506.3h22" stroke="#ff0000" stroke-width="2.2" fill="none"/>
<path d="M441.5 463.4V507.4M430.5 463.4h22M430.5 507.4h22" stroke="#ff0000" stroke-width="2.2" fill="none"/>
<path d="M448.1 462.4V506.4M437.1 462.4h22M437.1 506.4h22" stroke="#ff0000" stroke-width="2.2" fill="none"/>
<path d="M454.7 461.4V505.4M443.7 461.4h22M443.7 505.4h22" stroke="#ff0000" stroke-width="2.2" fill="none"/>
<path d="M461.3 461.5V505.5M450.3 461.5h22M450.3 505.5h22" stroke="#ff0000" stroke-width="2.2" fill="none"/>
<path d="M467.9 462.3V506.3M456.9 462.3h22M456.9 506.3h22" stroke="#ff0000" stroke-width="2.2" fill="none"/>
<path d="M474.6 475.4V499.4M463.6 475.4h22M463.6 499.4h22" stroke="#ff0000" stroke-width="2.2" fill="none"/>
<path d="M481.2 472.6V496.6M470.2 472.6h22M470.2 496.6h22" stroke="#ff0000" stroke-width="2.2" fill="none"/>
<path d="M487.8 476.3V500.3M476.8 476.3h22M476.8 500.3h22" stroke="#ff0000" stroke-width="2.2" fill="none"/>
<path d="M494.4 477.0V501.0M483.4 477.0h22M483.4 501.0h22" stroke="#ff0000" stroke-width="2.2" fill="none"/>
<path d="M501.0 475.4V499.4M490.0 475.4h22M490.0 499.4h22" stroke="#ff0000" stroke-width="2.2" fill="none"/>
<path d="M507.6 476.7V500.7M496.6 476.7h22M496.6 500.7h22" stroke="#ff0000" stroke-width="2.2" fill="none"/>
<path d="M514.2 478.5V502.5M503.2 478.5h22M503.2 502.5h22" stroke="#ff0000" stroke-width="2.2" fill="none"/>
<path d="M520.8 480.4V504.4M509.8 480.4h22M509.8 504.4h22" stroke="#ff0000" stroke-width="2.2" fill="none"/>
<path d="M527.5 482.7V506.7M516.5 482.7h22M516.5 506.7h22" stroke="#ff0000" stroke-width="2.2" fill="none"/>
<path d="M534.1 484.5V508.5M523.1 484.5h22M523.1 508.5h22" stroke="#ff0000" stroke-width="2.2" fill="none"/>
<path d="M540.7 483.3V507.3M529.7 483.3h22M529.7 507.3h22" stroke="#ff0000" stroke-width="2.2" fill="none"/>
<path d="M547.3 484.6V508.6M536.3 484.6h22M536.3 508.6h22" stroke="#ff0000" stroke-width="2.2" fill="none"/>
<path d="M553.9 487.8V511.8M542.9 487.8h22M542.9 511.8h22" stroke="#ff0000" stroke-width="2.2" fill="none"/>
<path d="M560.5 490.1V514.1M549.5 490.1h22M549.5 514.1h22" stroke="#ff0000" stroke-width="2.2" fill="none"/>
<path d="M567.1 492.5V516.5M556.1 492.5h22M556.1 516.5h22" stroke="#ff0000" stroke-width="2.2" fill="none"/>
<path d="M573.8 492.4V516.4M562.8 492.4h22M562.8 516.4h22" stroke="#ff0000" stroke-width="2.2" fill="none"/>
<path d="M580.4 497.6V521.6M569.4 497.6h22M569.4 521.6h22" stroke="#ff0000" stroke-width="2.2" fill="none"/>
<path d="M587.0 501.7V525.7M576.0 501.7h22M576.0 525.7h22" stroke="#ff0000" stroke-width="2.2" fill="none"/>
<path d="M593.6 504.8V528.8M582.6 504.8h22M582.6 528.8h22" stroke="#ff0000" stroke-width="2.2" fill="none"/>
<path d="M600.2 508.0V532.0M589.2 508.0h22M589.2 532.0h22" stroke="#ff0000" stroke-width="2.2" fill="none"/>
<path d="M606.8 511.0V535.0M595.8 511.0h22M595.8 535.0h22" stroke="#ff0000" stroke-width="2.2" fill="none"/>
<path d="M613.4 514.2V538.2M602.4 514.2h22M602.4 538.2h22" stroke="#ff0000" stroke-width="2.2" fill="none"/>
<path d="M620.0 513.6V537.6M609.0 513.6h22M609.0 537.6h22" stroke="#ff0000" stroke-width="2.2" fill="none"/>
<path d="M626.6 520.2V544.2M615.6 520.2h22M615.6 544.2h22" stroke="#ff0000" stroke-width="2.2" fill="none"/>
<path d="M633.3 520.6V544.6M622.3 520.6h22M622.3 544.6h22" stroke="#ff0000" stroke-width="2.2" fill="none"/>
<path d="M639.9 523.5V547.5M628.9 523.5h22M628.9 547.5h22" stroke="#ff0000" stroke-width="2.2" fill="none"/>
<path d="M646.5 526.8V550.8M635.5 526.8h22M635.5 550.8h22" stroke="#ff0000" stroke-width="2.2" fill="none"/>
<path d="M653.1 531.2V555.2M642.1 531.2h22M642.1 555.2h22" stroke="#ff0000" stroke-width="2.2" fill="none"/>
<path d="M659.7 532.1V556.1M648.7 532.1h22M648.7 556.1h22" stroke="#ff0000" stroke-width="2.2" fill="none"/>
<path d="M666.3 533.3V557.3M655.3 533.3h22M655.3 557.3h22" stroke="#ff0000" stroke-width="2.2" fill="none"/>
<path d="M672.9 535.7V559.7M661.9 535.7h22M661.9 559.7h22" stroke="#ff0000" stroke-width="2.2" fill="none"/>
<path d="M679.5 540.1V564.1M668.5 540.1h22M668.5 564.1h22" stroke="#ff0000" stroke-width="2.2" fill="none"/>
<path d="M686.2 542.0V566.0M675.2 542.0h22M675.2 566.0h22" stroke="#ff0000" stroke-width="2.2" fill="none"/>
<path d="M692.8 540.5V564.5M681.8 540.5h22M681.8 564.5h22" stroke="#ff0000" stroke-width="2.2" fill="none"/>
<path d="M699.4 542.1V566.1M688.4 542.1h22M688.4 566.1h22" stroke="#ff0000" stroke-width="2.2" fill="none"/>
<path d="M706.0 543.7V567.7M695.0 543.7h22M695.0 567.7h22" stroke="#ff0000" stroke-width="2.2" fill="none"/>
<path d="M712.6 544.1V568.1M701.6 544.1h22M701.6 568.1h22" stroke="#ff0000" stroke-width="2.2" fill="none"/>
<path d="M719.2 547.1V571.1M708.2 547.1h22M708.2 571.1h22" stroke="#ff0000" stroke-width="2.2" fill="none"/>
<path d="M725.8 548.1V572.1M714.8 548.1h22M714.8 572.1h22" stroke="#ff0000" stroke-width="2.2" fill="none"/>
<path d="M732.4 551.9V575.9M721.4 551.9h22M721.4 575.9h22" stroke="#ff0000" stroke-width="2.2" fill="none"/>
<path d="M739.1 555.7V579.7M728.1 555.7h22M728.1 579.7h22" stroke="#ff0000" stroke-width="2.2" fill="none"/>
<path d="M745.7 557.8V581.8M734.7 557.8h22M734.7 581.8h22" stroke="#ff0000" stroke-width="2.2" fill="none"/>
<path d="M752.3 557.2V581.2M741.3 557.2h22M741.3 581.2h22" stroke="#ff0000" stroke-width="2.2" fill="none"/>
<path d="M758.9 560.0V584.0M747.9 560.0h22M747.9 584.0h22" stroke="#ff0000" stroke-width="2.2" fill="none"/>
<path d="M765.5 563.2V587.2M754.5 563.2h22M754.5 587.2h22" stroke="#ff0000" stroke-width="2.2" fill="none"/>
<path d="M772.1 566.5V590.5M761.1 566.5h22M761.1 590.5h22" stroke="#ff0000" stroke-width="2.2" fill="none"/>
<path d="M778.7 567.9V591.9M767.7 567.9h22M767.7 591.9h22" stroke="#ff0000" stroke-width="2.2" fill="none"/>
<path d="M785.4 569.7V593.7M774.4 569.7h22M774.4 593.7h22" stroke="#ff0000" stroke-width="2.2" fill="none"/>
<path d="M792.0 572.5V596.5M781.0 572.5h22M781.0 596.5h22" stroke="#ff0000" stroke-width="2.2" fill="none"/>
<path d="M798.6 574.3V598.3M787.6 574.3h22M787.6 598.3h22" stroke="#ff0000" stroke-width="2.2" fill="none"/>
<path d="M805.2 579.4V603.4M794.2 579.4h22M794.2 603.4h22" stroke="#ff0000" stroke-width="2.2" fill="none"/>
<path d="M811.8 580.9V605.5M800.8 580.9h22M800.8 605.5h22" stroke="#ff0000" stroke-width="2.2" fill="none"/>
<path d="M818.4 581.9V607.1M807.4 581.9h22M807.4 607.1h22" stroke="#ff0000" stroke-width="2.2" fill="none"/>
<path d="M825.0 585.3V611.0M814.0 585.3h22M814.0 611.0h22" stroke="#ff0000" stroke-width="2.2" fill="none"/>
<path d="M831.6 586.7V613.0M820.6 586.7h22M820.6 613.0h22" stroke="#ff0000" stroke-width="2.2" fill="none"/>
<path d="M838.2 589.0V615.8M827.2 589.0h22M827.2 615.8h22" stroke="#ff0000" stroke-width="2.2" fill="none"/>
<path d="M844.9 590.5V617.9M833.9 590.5h22M833.9 617.9h22" stroke="#ff0000" stroke-width="2.2" fill="none"/>
<path d="M851.5 593.2V621.2M840.5 593.2h22M840.5 621.2h22" stroke="#ff0000" stroke-width="2.2" fill="none"/>
<path d="M858.1 597.3V625.9M847.1 597.3h22M847.1 625.9h22" stroke="#ff0000" stroke-width="2.2" fill="none"/>
<path d="M864.7 598.7V627.9M853.7 598.7h22M853.7 627.9h22" stroke="#ff0000" stroke-width="2.2" fill="none"/>
<path d="M871.3 601.1V630.8M860.3 601.1h22M860.3 630.8h22" stroke="#ff0000" stroke-width="2.2" fill="none"/>
<path d="M877.9 600.4V630.7M866.9 600.4h22M866.9 630.7h22" stroke="#ff0000" stroke-width="2.2" fill="none"/>
<path d="M884.5 603.9V634.8M873.5 603.9h22M873.5 634.8h22" stroke="#ff0000" stroke-width="2.2" fill="none"/>
<path d="M891.1 605.4V636.8M880.1 605.4h22M880.1 636.8h22" stroke="#ff0000" stroke-width="2.2" fill="none"/>
<path d="M897.8 606.2V638.2M886.8 606.2h22M886.8 638.2h22" stroke="#ff0000" stroke-width="2.2" fill="none"/>
<path d="M904.4 609.5V642.1M893.4 609.5h22M893.4 642.1h22" stroke="#ff0000" stroke-width="2.2" fill="none"/>
<path d="M911.0 610.2V643.3M900.0 610.2h22M900.0 643.3h22" stroke="#ff0000" stroke-width="2.2" fill="none"/>
<path d="M917.6 612.8V646.6M906.6 612.8h22M906.6 646.6h22" stroke="#ff0000" stroke-width="2.2" fill="none"/>
<path d="M924.2 617.1V651.4M913.2 617.1h22M913.2 651.4h22" stroke="#ff0000" stroke-width="2.2" fill="none"/>
<path d="M930.8 618.7V653.5M919.8 618.7h22M919.8 653.5h22" stroke="#ff0000" stroke-width="2.2" fill="none"/>
<path d="M937.4 620.7V656.2M926.4 620.7h22M926.4 656.2h22" stroke="#ff0000" stroke-width="2.2" fill="none"/>
<path d="M944.0 620.3V656.3M933.0 620.3h22M933.0 656.3h22" stroke="#ff0000" stroke-width="2.2" fill="none"/>
<path d="M950.7 617.8V663.8M939.7 617.8h22M939.7 663.8h22" stroke="#ff0000" stroke-width="2.2" fill="none"/>
<path d="M957.3 613.6V669.6M946.3 613.6h22M946.3 669.6h22" stroke="#ff0000" stroke-width="2.2" fill="none"/>
<path d="M963.9 610.3V676.3M952.9 610.3h22M952.9 676.3h22" stroke="#ff0000" stroke-width="2.2" fill="none"/>
<path d="M970.5 606.7V682.7M959.5 606.7h22M959.5 682.7h22" stroke="#ff0000" stroke-width="2.2" fill="none"/>
<path d="M977.1 611.3V687.7M966.1 611.3h22M966.1 687.7h22" stroke="#ff0000" stroke-width="2.2" fill="none"/>
<path d="M983.7 612.3V689.1M972.7 612.3h22M972.7 689.1h22" stroke="#ff0000" stroke-width="2.2" fill="none"/>
<path d="M990.3 610.8V688.0M979.3 610.8h22M979.3 688.0h22" stroke="#ff0000" stroke-width="2.2" fill="none"/>
<path d="M996.9 612.3V689.9M985.9 612.3h22M985.9 689.9h22" stroke="#ff0000" stroke-width="2.2" fill="none"/>
<path d="M1003.6 616.4V694.4M992.6 616.4h22M992.6 694.4h22" stroke="#ff0000" stroke-width="2.2" fill="none"/>
<path d="M1010.2 616.2V694.6M999.2 616.2h22M999.2 694.6h22" stroke="#ff0000" stroke-width="2.2" fill="none"/>
<path d="M1016.8 616.7V695.5M1005.8 616.7h22M1005.8 695.5h22" stroke="#ff0000" stroke-width="2.2" fill="none"/>
<path d="M1023.4 618.4V697.6M1012.4 618.4h22M1012.4 697.6h22" stroke="#ff0000" stroke-width="2.2" fill="none"/>
<path d="M1030.0 619.0V698.6M1019.0 619.0h22M1019.0 698.6h22" stroke="#ff0000" stroke-width="2.2" fill="none"/>
<path d="M1036.6 621.6V701.6M1025.6 621.6h22M1025.6 701.6h22" stroke="#ff0000" stroke-width="2.2" fill="none"/>
<path d="M1043.2 628.6V700.6M1032.2 628.6h22M1032.2 700.6h22" stroke="#ff0000" stroke-width="2.2" fill="none"/>
<path d="M1049.8 635.2V699.2M1038.8 635.2h22M1038.8 699.2h22" stroke="#ff0000" stroke-width="2.2" fill="none"/>
<path d="M1056.5 643.8V699.8M1045.5 643.8h22M1045.5 699.8h22" stroke="#ff0000" stroke-width="2.2" fill="none"/>
<path d="M1063.1 648.5V696.5M1052.1 648.5h22M1052.1 696.5h22" stroke="#ff0000" stroke-width="2.2" fill="none"/>
<path d="M1069.7 653.9V701.9M1058.7 653.9h22M1058.7 701.9h22" stroke="#ff0000" stroke-width="2.2" fill="none"/>
<path d="M1076.3 658.8V706.8M1065.3 658.8h22M1065.3 706.8h22" stroke="#ff0000" stroke-width="2.2" fill="none"/>
<path d="M1082.9 658.9V706.9M1071.9 658.9h22M1071.9 706.9h22" stroke="#ff0000" stroke-width="2.2" fill="none"/>
<path d="M1089.5 663.7V711.7M1078.5 663.7h22M1078.5 711.7h22" stroke="#ff0000" stroke-width="2.2" fill="none"/>
<path d="M1096.1 668.0V716.0M1085.1 668.0h22M1085.1 716.0h22" stroke="#ff0000" stroke-width="2.2" fill="none"/>
<path d="M1102.8 670.5V718.5M1091.8 670.5h22M1091.8 718.5h22" stroke="#ff0000" stroke-width="2.2" fill="none"/>
<path d="M1109.4 676.7V724.7M1098.4 676.7h22M1098.4 724.7h22" stroke="#ff0000" stroke-width="2.2" fill="none"/>
<path d="M1116.0 678.5V726.5M1105.0 678.5h22M1105.0 726.5h22" stroke="#ff0000" stroke-width="2.2" fill="none"/>
<path d="M1122.6 682.2V730.2M1111.6 682.2h22M1111.6 730.2h22" stroke="#ff0000" stroke-width="2.2" fill="none"/>
<path d="M1129.2 687.6V735.6M1118.2 687.6h22M1118.2 735.6h22" stroke="#ff0000" stroke-width="2.2" fill="none"/>
<path d="M1135.8 683.7V739.7M1124.8 683.7h22M1124.8 739.7h22" stroke="#ff0000" stroke-width="2.2" fill="none"/>
<path d="M1142.4 686.6V750.6M1131.4 686.6h22M1131.4 750.6h22" stroke="#ff0000" stroke-width="2.2" fill="none"/>
<path d="M1149.0 682.5V754.5M1138.0 682.5h22M1138.0 754.5h22" stroke="#ff0000" stroke-width="2.2" fill="none"/>
<path d="M1155.7 687.1V758.1M1144.7 687.1h22M1144.7 758.1h22" stroke="#ff0000" stroke-width="2.2" fill="none"/>
<path d="M1162.3 691.2V761.2M1151.3 691.2h22M1151.3 761.2h22" stroke="#ff0000" stroke-width="2.2" fill="none"/>
<path d="M1168.9 698.8V767.8M1157.9 698.8h22M1157.9 767.8h22" stroke="#ff0000" stroke-width="2.2" fill="none"/>
<path d="M1175.5 704.6V772.6M1164.5 704.6h22M1164.5 772.6h22" stroke="#ff0000" stroke-width="2.2" fill="none"/>
<path d="M1182.1 718.8V772.8M1171.1 718.8h22M1171.1 772.8h22" stroke="#ff0000" stroke-width="2.2" fill="none"/>
<path d="M1188.7 731.8V771.8M1177.7 731.8h22M1177.7 771.8h22" stroke="#ff0000" stroke-width="2.2" fill="none"/>
<path d="M1195.3 737.9V777.9M1184.3 737.9h22M1184.3 777.9h22" stroke="#ff0000" stroke-width="2.2" fill="none"/>
<path d="M1201.9 741.5V781.5M1190.9 741.5h22M1190.9 781.5h22" stroke="#ff0000" stroke-width="2.2" fill="none"/>
<path d="M177.0 462.7V502.7M166.0 462.7h22M166.0 502.7h22" stroke="#ff0000" stroke-width="2.2" fill="none"/>
<path d="M183.6 464.2V504.2M172.6 464.2h22M172.6 504.2h22" stroke="#ff0000" stroke-width="2.2" fill="none"/>
<path d="M190.2 462.8V502.8M179.2 462.8h22M179.2 502.8h22" stroke="#ff0000" stroke-width="2.2" fill="none"/>
<path d="M196.8 467.4V507.4M185.8 467.4h22M185.8 507.4h22" stroke="#ff0000" stroke-width="2.2" fill="none"/>
<path d="M203.4 467.5V507.5M192.4 467.5h22M192.4 507.5h22" stroke="#ff0000" stroke-width="2.2" fill="none"/>
<path d="M210.1 467.6V507.6M199.1 467.6h22M199.1 507.6h22" stroke="#ff0000" stroke-width="2.2" fill="none"/>
<path d="M216.7 468.9V508.9M205.7 468.9h22M205.7 508.9h22" stroke="#ff0000" stroke-width="2.2" fill="none"/>
<path d="M223.3 467.5V507.5M212.3 467.5h22M212.3 507.5h22" stroke="#ff0000" stroke-width="2.2" fill="none"/>
<path d="M229.9 468.8V508.8M218.9 468.8h22M218.9 508.8h22" stroke="#ff0000" stroke-width="2.2" fill="none"/>
<path d="M236.5 469.3V509.3M225.5 469.3h22M225.5 509.3h22" stroke="#ff0000" stroke-width="2.2" fill="none"/>
<path d="M243.1 471.5V511.5M232.1 471.5h22M232.1 511.5h22" stroke="#ff0000" stroke-width="2.2" fill="none"/>
<path d="M249.7 470.3V510.3M238.7 470.3h22M238.7 510.3h22" stroke="#ff0000" stroke-width="2.2" fill="none"/>
<path d="M256.4 474.5V514.5M245.4 474.5h22M245.4 514.5h22" stroke="#ff0000" stroke-width="2.2" fill="none"/>
<path d="M263.0 473.7V513.7M252.0 473.7h22M252.0 513.7h22" stroke="#ff0000" stroke-width="2.2" fill="none"/>
<path d="M269.6 474.5V514.5M258.6 474.5h22M258.6 514.5h22" stroke="#ff0000" stroke-width="2.2" fill="none"/>
<path d="M276.2 474.1V514.1M265.2 474.1h22M265.2 514.1h22" stroke="#ff0000" stroke-width="2.2" fill="none"/>
<path d="M282.8 477.3V517.3M271.8 477.3h22M271.8 517.3h22" stroke="#ff0000" stroke-width="2.2" fill="none"/>
<path d="M289.4 478.8V518.8M278.4 478.8h22M278.4 518.8h22" stroke="#ff0000" stroke-width="2.2" fill="none"/>
<path d="M296.0 479.0V519.0M285.0 479.0h22M285.0 519.0h22" stroke="#ff0000" stroke-width="2.2" fill="none"/>
<path d="M302.6 478.0V518.0M291.6 478.0h22M291.6 518.0h22" stroke="#ff0000" stroke-width="2.2" fill="none"/>
<path d="M309.2 480.4V520.4M298.2 480.4h22M298.2 520.4h22" stroke="#ff0000" stroke-width="2.2" fill="none"/>
<path d="M315.9 478.0V518.0M304.9 478.0h22M304.9 518.0h22" stroke="#ff0000" stroke-width="2.2" fill="none"/>
<path d="M322.5 480.9V520.9M311.5 480.9h22M311.5 520.9h22" stroke="#ff0000" stroke-width="2.2" fill="none"/>
<path d="M329.1 480.1V520.1M318.1 480.1h22M318.1 520.1h22" stroke="#ff0000" stroke-width="2.2" fill="none"/>
<path d="M335.7 479.0V519.0M324.7 479.0h22M324.7 519.0h22" stroke="#ff0000" stroke-width="2.2" fill="none"/>
<path d="M342.3 480.1V520.1M331.3 480.1h22M331.3 520.1h22" stroke="#ff0000" stroke-width="2.2" fill="none"/>
<path d="M348.9 480.7V520.7M337.9 480.7h22M337.9 520.7h22" stroke="#ff0000" stroke-width="2.2" fill="none"/>
<path d="M355.5 479.4V519.4M344.5 479.4h22M344.5 519.4h22" stroke="#ff0000" stroke-width="2.2" fill="none"/>
<path d="M362.1 481.9V521.9M351.1 481.9h22M351.1 521.9h22" stroke="#ff0000" stroke-width="2.2" fill="none"/>
<path d="M368.8 480.4V520.4M357.8 480.4h22M357.8 520.4h22" stroke="#ff0000" stroke-width="2.2" fill="none"/>
<path d="M375.4 482.5V522.5M364.4 482.5h22M364.4 522.5h22" stroke="#ff0000" stroke-width="2.2" fill="none"/>
<path d="M382.0 482.3V522.3M371.0 482.3h22M371.0 522.3h22" stroke="#ff0000" stroke-width="2.2" fill="none"/>
<path d="M388.6 479.2V519.2M377.6 479.2h22M377.6 519.2h22" stroke="#ff0000" stroke-width="2.2" fill="none"/>
<path d="M395.2 481.2V521.2M384.2 481.2h22M384.2 521.2h22" stroke="#ff0000" stroke-width="2.2" fill="none"/>
<path d="M401.8 479.7V519.7M390.8 479.7h22M390.8 519.7h22" stroke="#ff0000" stroke-width="2.2" fill="none"/>
<path d="M408.4 477.3V525.3M397.4 477.3h22M397.4 525.3h22" stroke="#ff0000" stroke-width="2.2" fill="none"/>
<path d="M415.0 476.3V524.3M404.0 476.3h22M404.0 524.3h22" stroke="#ff0000" stroke-width="2.2" fill="none"/>
<path d="M421.7 476.2V524.2M410.7 476.2h22M410.7 524.2h22" stroke="#ff0000" stroke-width="2.2" fill="none"/>
<path d="M428.3 479.5V527.5M417.3 479.5h22M417.3 527.5h22" stroke="#ff0000" stroke-width="2.2" fill="none"/>
<path d="M434.9 477.7V525.7M423.9 477.7h22M423.9 525.7h22" stroke="#ff0000" stroke-width="2.2" fill="none"/>
<path d="M454.7 480.9V528.9M443.7 480.9h22M443.7 528.9h22" stroke="#ff0000" stroke-width="2.2" fill="none"/>
<path d="M461.3 483.4V531.4M450.3 483.4h22M450.3 531.4h22" stroke="#ff0000" stroke-width="2.2" fill="none"/>
<path d="M467.9 482.3V530.3M456.9 482.3h22M456.9 530.3h22" stroke="#ff0000" stroke-width="2.2" fill="none"/>
<path d="M474.6 490.3V524.3M463.6 490.3h22M463.6 524.3h22" stroke="#ff0000" stroke-width="2.2" fill="none"/>
<path d="M481.2 488.8V522.8M470.2 488.8h22M470.2 522.8h22" stroke="#ff0000" stroke-width="2.2" fill="none"/>
<path d="M487.8 487.5V521.5M476.8 487.5h22M476.8 521.5h22" stroke="#ff0000" stroke-width="2.2" fill="none"/>
<path d="M494.4 490.5V524.5M483.4 490.5h22M483.4 524.5h22" stroke="#ff0000" stroke-width="2.2" fill="none"/>
<path d="M501.0 487.9V521.9M490.0 487.9h22M490.0 521.9h22" stroke="#ff0000" stroke-width="2.2" fill="none"/>
<path d="M507.6 488.6V522.6M496.6 488.6h22M496.6 522.6h22" stroke="#ff0000" stroke-width="2.2" fill="none"/>
<path d="M514.2 492.2V526.2M503.2 492.2h22M503.2 526.2h22" stroke="#ff0000" stroke-width="2.2" fill="none"/>
<path d="M520.8 491.7V525.7M509.8 491.7h22M509.8 525.7h22" stroke="#ff0000" stroke-width="2.2" fill="none"/>
<path d="M527.5 493.3V527.3M516.5 493.3h22M516.5 527.3h22" stroke="#ff0000" stroke-width="2.2" fill="none"/>
<path d="M534.1 497.0V531.0M523.1 497.0h22M523.1 531.0h22" stroke="#ff0000" stroke-width="2.2" fill="none"/>
<path d="M540.7 496.5V530.5M529.7 496.5h22M529.7 530.5h22" stroke="#ff0000" stroke-width="2.2" fill="none"/>
<path d="M547.3 500.4V534.4M536.3 500.4h22M536.3 534.4h22" stroke="#ff0000" stroke-width="2.2" fill="none"/>
<path d="M553.9 502.5V536.5M542.9 502.5h22M542.9 536.5h22" stroke="#ff0000" stroke-width="2.2" fill="none"/>
<path d="M560.5 504.6V538.6M549.5 504.6h22M549.5 538.6h22" stroke="#ff0000" stroke-width="2.2" fill="none"/>
<path d="M567.1 506.8V540.8M556.1 506.8h22M556.1 540.8h22" stroke="#ff0000" stroke-width="2.2" fill="none"/>
<path d="M573.8 510.9V544.9M562.8 510.9h22M562.8 544.9h22" stroke="#ff0000" stroke-width="2.2" fill="none"/>
<path d="M580.4 516.6V550.6M569.4 516.6h22M569.4 550.6h22" stroke="#ff0000" stroke-width="2.2" fill="none"/>
<path d="M587.0 516.9V550.9M576.0 516.9h22M576.0 550.9h22" stroke="#ff0000" stroke-width="2.2" fill="none"/>
<path d="M593.6 518.5V552.5M582.6 518.5h22M582.6 552.5h22" stroke="#ff0000" stroke-width="2.2" fill="none"/>
<path d="M600.2 521.7V555.7M589.2 521.7h22M589.2 555.7h22" stroke="#ff0000" stroke-width="2.2" fill="none"/>
<path d="M606.8 526.6V560.6M595.8 526.6h22M595.8 560.6h22" stroke="#ff0000" stroke-width="2.2" fill="none"/>
<path d="M613.4 526.0V560.0M602.4 526.0h22M602.4 560.0h22" stroke="#ff0000" stroke-width="2.2" fill="none"/>
<path d="M620.0 530.8V564.8M609.0 530.8h22M609.0 564.8h22" stroke="#ff0000" stroke-width="2.2" fill="none"/>
<path d="M626.6 530.6V564.6M615.6 530.6h22M615.6 564.6h22" stroke="#ff0000" stroke-width="2.2" fill="none"/>
<path d="M633.3 536.4V570.4M622.3 536.4h22M622.3 570.4h22" stroke="#ff0000" stroke-width="2.2" fill="none"/>
<path d="M639.9 537.7V571.7M628.9 537.7h22M628.9 571.7h22" stroke="#ff0000" stroke-width="2.2" fill="none"/>
<path d="M646.5 538.7V572.7M635.5 538.7h22M635.5 572.7h22" stroke="#ff0000" stroke-width="2.2" fill="none"/>
<path d="M653.1 545.2V579.2M642.1 545.2h22M642.1 579.2h22" stroke="#ff0000" stroke-width="2.2" fill="none"/>
<path d="M659.7 545.9V579.9M648.7 545.9h22M648.7 579.9h22" stroke="#ff0000" stroke-width="2.2" fill="none"/>
<path d="M666.3 550.4V584.4M655.3 550.4h22M655.3 584.4h22" stroke="#ff0000" stroke-width="2.2" fill="none"/>
<path d="M672.9 552.5V586.5M661.9 552.5h22M661.9 586.5h22" stroke="#ff0000" stroke-width="2.2" fill="none"/>
<path d="M679.5 553.9V587.9M668.5 553.9h22M668.5 587.9h22" stroke="#ff0000" stroke-width="2.2" fill="none"/>
<path d="M706.0 560.2V594.2M695.0 560.2h22M695.0 594.2h22" stroke="#ff0000" stroke-width="2.2" fill="none"/>
<path d="M712.6 562.6V596.6M701.6 562.6h22M701.6 596.6h22" stroke="#ff0000" stroke-width="2.2" fill="none"/>
<path d="M719.2 568.6V602.6M708.2 568.6h22M708.2 602.6h22" stroke="#ff0000" stroke-width="2.2" fill="none"/>
<path d="M725.8 567.6V601.6M714.8 567.6h22M714.8 601.6h22" stroke="#ff0000" stroke-width="2.2" fill="none"/>
<path d="M732.4 571.7V605.7M721.4 571.7h22M721.4 605.7h22" stroke="#ff0000" stroke-width="2.2" fill="none"/>
<path d="M739.1 572.6V606.6M728.1 572.6h22M728.1 606.6h22" stroke="#ff0000" stroke-width="2.2" fill="none"/>
<path d="M745.7 575.4V609.4M734.7 575.4h22M734.7 609.4h22" stroke="#ff0000" stroke-width="2.2" fill="none"/>
<path d="M752.3 579.7V613.7M741.3 579.7h22M741.3 613.7h22" stroke="#ff0000" stroke-width="2.2" fill="none"/>
<path d="M758.9 582.6V616.6M747.9 582.6h22M747.9 616.6h22" stroke="#ff0000" stroke-width="2.2" fill="none"/>
<path d="M765.5 582.8V616.8M754.5 582.8h22M754.5 616.8h22" stroke="#ff0000" stroke-width="2.2" fill="none"/>
<path d="M772.1 583.1V617.1M761.1 583.1h22M761.1 617.1h22" stroke="#ff0000" stroke-width="2.2" fill="none"/>
<path d="M778.7 589.2V623.2M767.7 589.2h22M767.7 623.2h22" stroke="#ff0000" stroke-width="2.2" fill="none"/>
<path d="M785.4 587.5V621.5M774.4 587.5h22M774.4 621.5h22" stroke="#ff0000" stroke-width="2.2" fill="none"/>
<path d="M792.0 591.0V625.0M781.0 591.0h22M781.0 625.0h22" stroke="#ff0000" stroke-width="2.2" fill="none"/>
<path d="M798.6 593.7V627.7M787.6 593.7h22M787.6 627.7h22" stroke="#ff0000" stroke-width="2.2" fill="none"/>
<path d="M805.2 597.2V631.2M794.2 597.2h22M794.2 631.2h22" stroke="#ff0000" stroke-width="2.2" fill="none"/>
<path d="M811.8 598.6V633.5M800.8 598.6h22M800.8 633.5h22" stroke="#ff0000" stroke-width="2.2" fill="none"/>
<path d="M818.4 599.4V635.3M807.4 599.4h22M807.4 635.3h22" stroke="#ff0000" stroke-width="2.2" fill="none"/>
<path d="M825.0 600.2V637.0M814.0 600.2h22M814.0 637.0h22" stroke="#ff0000" stroke-width="2.2" fill="none"/>
<path d="M831.6 603.6V641.3M820.6 603.6h22M820.6 641.3h22" stroke="#ff0000" stroke-width="2.2" fill="none"/>
<path d="M838.2 605.4V644.0M827.2 605.4h22M827.2 644.0h22" stroke="#ff0000" stroke-width="2.2" fill="none"/>
<path d="M844.9 607.0V646.6M833.9 607.0h22M833.9 646.6h22" stroke="#ff0000" stroke-width="2.2" fill="none"/>
<path d="M851.5 608.1V648.6M840.5 608.1h22M840.5 648.6h22" stroke="#ff0000" stroke-width="2.2" fill="none"/>
<path d="M858.1 607.2V648.7M847.1 607.2h22M847.1 648.7h22" stroke="#ff0000" stroke-width="2.2" fill="none"/>
<path d="M864.7 609.7V652.1M853.7 609.7h22M853.7 652.1h22" stroke="#ff0000" stroke-width="2.2" fill="none"/>
<path d="M871.3 612.1V655.4M860.3 612.1h22M860.3 655.4h22" stroke="#ff0000" stroke-width="2.2" fill="none"/>
<path d="M877.9 613.9V658.2M866.9 613.9h22M866.9 658.2h22" stroke="#ff0000" stroke-width="2.2" fill="none"/>
<path d="M884.5 617.0V662.2M873.5 617.0h22M873.5 662.2h22" stroke="#ff0000" stroke-width="2.2" fill="none"/>
<path d="M891.1 616.5V662.6M880.1 616.5h22M880.1 662.6h22" stroke="#ff0000" stroke-width="2.2" fill="none"/>
<path d="M897.8 620.0V667.1M886.8 620.0h22M886.8 667.1h22" stroke="#ff0000" stroke-width="2.2" fill="none"/>
<path d="M904.4 620.7V668.7M893.4 620.7h22M893.4 668.7h22" stroke="#ff0000" stroke-width="2.2" fill="none"/>
<path d="M911.0 624.0V673.2M900.0 624.0h22M900.0 673.2h22" stroke="#ff0000" stroke-width="2.2" fill="none"/>
<path d="M917.6 623.4V673.8M906.6 623.4h22M906.6 673.8h22" stroke="#ff0000" stroke-width="2.2" fill="none"/>
<path d="M924.2 626.2V677.8M913.2 626.2h22M913.2 677.8h22" stroke="#ff0000" stroke-width="2.2" fill="none"/>
<path d="M930.8 626.4V679.2M919.8 626.4h22M919.8 679.2h22" stroke="#ff0000" stroke-width="2.2" fill="none"/>
<path d="M937.4 628.5V682.5M926.4 628.5h22M926.4 682.5h22" stroke="#ff0000" stroke-width="2.2" fill="none"/>
<path d="M944.0 633.1V688.3M933.0 633.1h22M933.0 688.3h22" stroke="#ff0000" stroke-width="2.2" fill="none"/>
<path d="M950.7 632.3V688.7M939.7 632.3h22M939.7 688.7h22" stroke="#ff0000" stroke-width="2.2" fill="none"/>
<path d="M957.3 636.0V693.6M946.3 636.0h22M946.3 693.6h22" stroke="#ff0000" stroke-width="2.2" fill="none"/>
<path d="M963.9 635.9V694.7M952.9 635.9h22M952.9 694.7h22" stroke="#ff0000" stroke-width="2.2" fill="none"/>
<path d="M970.5 635.3V695.3M959.5 635.3h22M959.5 695.3h22" stroke="#ff0000" stroke-width="2.2" fill="none"/>
<path d="M977.1 640.3V700.3M966.1 640.3h22M966.1 700.3h22" stroke="#ff0000" stroke-width="2.2" fill="none"/>
<path d="M983.7 639.0V699.0M972.7 639.0h22M972.7 699.0h22" stroke="#ff0000" stroke-width="2.2" fill="none"/>
<path d="M990.3 643.4V703.4M979.3 643.4h22M979.3 703.4h22" stroke="#ff0000" stroke-width="2.2" fill="none"/>
<path d="M996.9 641.4V701.4M985.9 641.4h22M985.9 701.4h22" stroke="#ff0000" stroke-width="2.2" fill="none"/>
<path d="M1003.6 645.4V705.4M992.6 645.4h22M992.6 705.4h22" stroke="#ff0000" stroke-width="2.2" fill="none"/>
<path d="M1010.2 644.7V704.7M999.2 644.7h22M999.2 704.7h22" stroke="#ff0000" stroke-width="2.2" fill="none"/>
<path d="M1016.8 646.7V706.7M1005.8 646.7h22M1005.8 706.7h22" stroke="#ff0000" stroke-width="2.2" fill="none"/>
<path d="M1023.4 650.5V710.5M1012.4 650.5h22M1012.4 710.5h22" stroke="#ff0000" stroke-width="2.2" fill="none"/>
<path d="M1030.0 651.4V708.4M1019.0 651.4h22M1019.0 708.4h22" stroke="#ff0000" stroke-width="2.2" fill="none"/>
<path d="M1036.6 655.0V709.0M1025.6 655.0h22M1025.6 709.0h22" stroke="#ff0000" stroke-width="2.2" fill="none"/>
<path d="M1043.2 660.1V711.1M1032.2 660.1h22M1032.2 711.1h22" stroke="#ff0000" stroke-width="2.2" fill="none"/>
<path d="M1049.8 664.3V712.3M1038.8 664.3h22M1038.8 712.3h22" stroke="#ff0000" stroke-width="2.2" fill="none"/>
<path d="M1056.5 672.3V720.8M1045.5 672.3h22M1045.5 720.8h22" stroke="#ff0000" stroke-width="2.2" fill="none"/>
<path d="M1063.1 677.6V726.6M1052.1 677.6h22M1052.1 726.6h22" stroke="#ff0000" stroke-width="2.2" fill="none"/>
<path d="M1069.7 678.2V727.7M1058.7 678.2h22M1058.7 727.7h22" stroke="#ff0000" stroke-width="2.2" fill="none"/>
<path d="M1076.3 682.8V732.8M1065.3 682.8h22M1065.3 732.8h22" stroke="#ff0000" stroke-width="2.2" fill="none"/>
<path d="M1082.9 684.8V735.3M1071.9 684.8h22M1071.9 735.3h22" stroke="#ff0000" stroke-width="2.2" fill="none"/>
<path d="M1089.5 689.7V740.7M1078.5 689.7h22M1078.5 740.7h22" stroke="#ff0000" stroke-width="2.2" fill="none"/>
<path d="M1096.1 689.9V741.4M1085.1 689.9h22M1085.1 741.4h22" stroke="#ff0000" stroke-width="2.2" fill="none"/>
<path d="M1102.8 694.9V746.9M1091.8 694.9h22M1091.8 746.9h22" stroke="#ff0000" stroke-width="2.2" fill="none"/>
<path d="M1109.4 698.7V752.0M1098.4 698.7h22M1098.4 752.0h22" stroke="#ff0000" stroke-width="2.2" fill="none"/>
<path d="M1116.0 701.0V755.7M1105.0 701.0h22M1105.0 755.7h22" stroke="#ff0000" stroke-width="2.2" fill="none"/>
<path d="M1122.6 700.7V756.7M1111.6 700.7h22M1111.6 756.7h22" stroke="#ff0000" stroke-width="2.2" fill="none"/>
<path d="M1129.2 705.8V763.1M1118.2 705.8h22M1118.2 763.1h22" stroke="#ff0000" stroke-width="2.2" fill="none"/>
<path d="M1135.8 705.5V764.2M1124.8 705.5h22M1124.8 764.2h22" stroke="#ff0000" stroke-width="2.2" fill="none"/>
<path d="M1142.4 710.0V770.0M1131.4 710.0h22M1131.4 770.0h22" stroke="#ff0000" stroke-width="2.2" fill="none"/>
<path d="M448.1 492.0V572.0M437.1 492.0h22M437.1 572.0h22" stroke="#ff0000" stroke-width="2.2" fill="none"/>
<path d="M441.5 516.0V588.0M430.5 516.0h22M430.5 588.0h22" stroke="#ff0000" stroke-width="2.2" fill="none"/>
<path d="M683.0 551.0V651.0M672.0 551.0h22M672.0 651.0h22" stroke="#ff0000" stroke-width="2.2" fill="none"/>
<path d="M690.0 552.0V668.0M679.0 552.0h22M679.0 668.0h22" stroke="#ff0000" stroke-width="2.2" fill="none"/>
<path d="M699.0 554.0V682.0M688.0 554.0h22M688.0 682.0h22" stroke="#ff0000" stroke-width="2.2" fill="none"/>
<path d="M1149.0 759.0V807.0M1138.0 759.0h22M1138.0 807.0h22" stroke="#ff0000" stroke-width="2.2" fill="none"/>
<path d="M1155.5 793.0V841.0M1144.5 793.0h22M1144.5 841.0h22" stroke="#ff0000" stroke-width="2.2" fill="none"/>
<path d="M1162.0 766.0V814.0M1151.0 766.0h22M1151.0 814.0h22" stroke="#ff0000" stroke-width="2.2" fill="none"/>
<path d="M1168.5 768.0V816.0M1157.5 768.0h22M1157.5 816.0h22" stroke="#ff0000" stroke-width="2.2" fill="none"/>
<path d="M1175.0 770.0V818.0M1164.0 770.0h22M1164.0 818.0h22" stroke="#ff0000" stroke-width="2.2" fill="none"/>
<path d="M1181.5 772.0V820.0M1170.5 772.0h22M1170.5 820.0h22" stroke="#ff0000" stroke-width="2.2" fill="none"/>
<path d="M1188.0 774.0V822.0M1177.0 774.0h22M1177.0 822.0h22" stroke="#ff0000" stroke-width="2.2" fill="none"/>
<path d="M1195.0 776.0V824.0M1184.0 776.0h22M1184.0 824.0h22" stroke="#ff0000" stroke-width="2.2" fill="none"/>
<path d="M1202.0 777.0V825.0M1191.0 777.0h22M1191.0 825.0h22" stroke="#ff0000" stroke-width="2.2" fill="none"/>
<path d="M177.0 451.5L196.8 484.5L157.2 484.5Z" fill="#fff" stroke="#e00000" stroke-width="0.9"/>
<path d="M183.6 450.6L203.4 483.6L163.9 483.6Z" fill="#fff" stroke="#e00000" stroke-width="0.9"/>
<path d="M190.2 453.3L210.0 486.3L170.5 486.3Z" fill="#fff" stroke="#e00000" stroke-width="0.9"/>
<path d="M196.8 454.0L216.6 487.0L177.1 487.0Z" fill="#fff" stroke="#e00000" stroke-width="0.9"/>
<path d="M203.4 454.0L223.2 487.0L183.7 487.0Z" fill="#fff" stroke="#e00000" stroke-width="0.9"/>
<path d="M210.1 455.5L229.8 488.5L190.3 488.5Z" fill="#fff" stroke="#e00000" stroke-width="0.9"/>
<path d="M216.7 453.1L236.4 486.1L196.9 486.1Z" fill="#fff" stroke="#e00000" stroke-width="0.9"/>
<path d="M223.3 453.5L243.0 486.5L203.5 486.5Z" fill="#fff" stroke="#e00000" stroke-width="0.9"/>
<path d="M229.9 453.5L249.7 486.5L210.2 486.5Z" fill="#fff" stroke="#e00000" stroke-width="0.9"/>
<path d="M236.5 455.5L256.3 488.5L216.8 488.5Z" fill="#fff" stroke="#e00000" stroke-width="0.9"/>
<path d="M243.1 455.4L262.9 488.4L223.4 488.4Z" fill="#fff" stroke="#e00000" stroke-width="0.9"/>
<path d="M249.7 455.7L269.5 488.7L230.0 488.7Z" fill="#fff" stroke="#e00000" stroke-width="0.9"/>
<path d="M256.4 456.5L276.1 489.5L236.6 489.5Z" fill="#fff" stroke="#e00000" stroke-width="0.9"/>
<path d="M263.0 456.2L282.7 489.2L243.2 489.2Z" fill="#fff" stroke="#e00000" stroke-width="0.9"/>
<path d="M269.6 455.5L289.3 488.5L249.8 488.5Z" fill="#fff" stroke="#e00000" stroke-width="0.9"/>
<path d="M276.2 457.8L295.9 490.8L256.4 490.8Z" fill="#fff" stroke="#e00000" stroke-width="0.9"/>
<path d="M282.8 457.5L302.6 490.5L263.1 490.5Z" fill="#fff" stroke="#e00000" stroke-width="0.9"/>
<path d="M289.4 458.6L309.2 491.6L269.7 491.6Z" fill="#fff" stroke="#e00000" stroke-width="0.9"/>
<path d="M296.0 461.0L315.8 494.0L276.3 494.0Z" fill="#fff" stroke="#e00000" stroke-width="0.9"/>
<path d="M302.6 458.4L322.4 491.4L282.9 491.4Z" fill="#fff" stroke="#e00000" stroke-width="0.9"/>
<path d="M309.2 460.8L329.0 493.8L289.5 493.8Z" fill="#fff" stroke="#e00000" stroke-width="0.9"/>
<path d="M315.9 461.4L335.6 494.4L296.1 494.4Z" fill="#fff" stroke="#e00000" stroke-width="0.9"/>
<path d="M322.5 460.5L342.2 493.5L302.7 493.5Z" fill="#fff" stroke="#e00000" stroke-width="0.9"/>
<path d="M329.1 461.8L348.8 494.8L309.3 494.8Z" fill="#fff" stroke="#e00000" stroke-width="0.9"/>
<path d="M335.7 464.4L355.4 497.4L315.9 497.4Z" fill="#fff" stroke="#e00000" stroke-width="0.9"/>
<path d="M342.3 462.4L362.1 495.4L322.6 495.4Z" fill="#fff" stroke="#e00000" stroke-width="0.9"/>
<path d="M348.9 464.4L368.7 497.4L329.2 497.4Z" fill="#fff" stroke="#e00000" stroke-width="0.9"/>
<path d="M355.5 465.5L375.3 498.5L335.8 498.5Z" fill="#fff" stroke="#e00000" stroke-width="0.9"/>
<path d="M362.1 464.1L381.9 497.1L342.4 497.1Z" fill="#fff" stroke="#e00000" stroke-width="0.9"/>
<path d="M368.8 467.2L388.5 500.2L349.0 500.2Z" fill="#fff" stroke="#e00000" stroke-width="0.9"/>
<path d="M375.4 466.3L395.1 499.3L355.6 499.3Z" fill="#fff" stroke="#e00000" stroke-width="0.9"/>
<path d="M382.0 466.3L401.7 499.3L362.2 499.3Z" fill="#fff" stroke="#e00000" stroke-width="0.9"/>
<path d="M388.6 467.7L408.4 500.7L368.9 500.7Z" fill="#fff" stroke="#e00000" stroke-width="0.9"/>
<path d="M395.2 467.1L415.0 500.1L375.5 500.1Z" fill="#fff" stroke="#e00000" stroke-width="0.9"/>
<path d="M401.8 468.8L421.6 501.8L382.1 501.8Z" fill="#fff" stroke="#e00000" stroke-width="0.9"/>
<path d="M408.4 467.6L428.2 500.6L388.7 500.6Z" fill="#fff" stroke="#e00000" stroke-width="0.9"/>
<path d="M415.0 470.8L434.8 503.8L395.3 503.8Z" fill="#fff" stroke="#e00000" stroke-width="0.9"/>
<path d="M421.7 469.5L441.4 502.5L401.9 502.5Z" fill="#fff" stroke="#e00000" stroke-width="0.9"/>
<path d="M428.3 467.6L448.0 500.6L408.5 500.6Z" fill="#fff" stroke="#e00000" stroke-width="0.9"/>
<path d="M434.9 467.8L454.6 500.8L415.1 500.8Z" fill="#fff" stroke="#e00000" stroke-width="0.9"/>
<path d="M441.5 468.9L461.2 501.9L421.8 501.9Z" fill="#fff" stroke="#e00000" stroke-width="0.9"/>
<path d="M448.1 467.9L467.9 500.9L428.4 500.9Z" fill="#fff" stroke="#e00000" stroke-width="0.9"/>
<path d="M454.7 466.9L474.5 499.9L435.0 499.9Z" fill="#fff" stroke="#e00000" stroke-width="0.9"/>
<path d="M461.3 467.0L481.1 500.0L441.6 500.0Z" fill="#fff" stroke="#e00000" stroke-width="0.9"/>
<path d="M467.9 467.8L487.7 500.8L448.2 500.8Z" fill="#fff" stroke="#e00000" stroke-width="0.9"/>
<path d="M474.6 470.9L494.3 503.9L454.8 503.9Z" fill="#fff" stroke="#e00000" stroke-width="0.9"/>
<path d="M481.2 468.1L500.9 501.1L461.4 501.1Z" fill="#fff" stroke="#e00000" stroke-width="0.9"/>
<path d="M487.8 471.8L507.5 504.8L468.0 504.8Z" fill="#fff" stroke="#e00000" stroke-width="0.9"/>
<path d="M494.4 472.5L514.1 505.5L474.6 505.5Z" fill="#fff" stroke="#e00000" stroke-width="0.9"/>
<path d="M501.0 470.9L520.8 503.9L481.3 503.9Z" fill="#fff" stroke="#e00000" stroke-width="0.9"/>
<path d="M507.6 472.2L527.4 505.2L487.9 505.2Z" fill="#fff" stroke="#e00000" stroke-width="0.9"/>
<path d="M514.2 474.0L534.0 507.0L494.5 507.0Z" fill="#fff" stroke="#e00000" stroke-width="0.9"/>
<path d="M520.8 475.9L540.6 508.9L501.1 508.9Z" fill="#fff" stroke="#e00000" stroke-width="0.9"/>
<path d="M527.5 478.2L547.2 511.2L507.7 511.2Z" fill="#fff" stroke="#e00000" stroke-width="0.9"/>
<path d="M534.1 480.0L553.8 513.0L514.3 513.0Z" fill="#fff" stroke="#e00000" stroke-width="0.9"/>
<path d="M540.7 478.8L560.4 511.8L520.9 511.8Z" fill="#fff" stroke="#e00000" stroke-width="0.9"/>
<path d="M547.3 480.1L567.0 513.1L527.5 513.1Z" fill="#fff" stroke="#e00000" stroke-width="0.9"/>
<path d="M553.9 483.3L573.7 516.3L534.2 516.3Z" fill="#fff" stroke="#e00000" stroke-width="0.9"/>
<path d="M560.5 485.6L580.3 518.6L540.8 518.6Z" fill="#fff" stroke="#e00000" stroke-width="0.9"/>
<path d="M567.1 488.0L586.9 521.0L547.4 521.0Z" fill="#fff" stroke="#e00000" stroke-width="0.9"/>
<path d="M573.8 487.9L593.5 520.9L554.0 520.9Z" fill="#fff" stroke="#e00000" stroke-width="0.9"/>
<path d="M580.4 493.1L600.1 526.1L560.6 526.1Z" fill="#fff" stroke="#e00000" stroke-width="0.9"/>
<path d="M587.0 497.2L606.7 530.2L567.2 530.2Z" fill="#fff" stroke="#e00000" stroke-width="0.9"/>
<path d="M593.6 500.3L613.3 533.3L573.8 533.3Z" fill="#fff" stroke="#e00000" stroke-width="0.9"/>
<path d="M600.2 503.5L620.0 536.5L580.5 536.5Z" fill="#fff" stroke="#e00000" stroke-width="0.9"/>
<path d="M606.8 506.5L626.6 539.5L587.1 539.5Z" fill="#fff" stroke="#e00000" stroke-width="0.9"/>
<path d="M613.4 509.7L633.2 542.7L593.7 542.7Z" fill="#fff" stroke="#e00000" stroke-width="0.9"/>
<path d="M620.0 509.1L639.8 542.1L600.3 542.1Z" fill="#fff" stroke="#e00000" stroke-width="0.9"/>
<path d="M626.6 515.7L646.4 548.7L606.9 548.7Z" fill="#fff" stroke="#e00000" stroke-width="0.9"/>
<path d="M633.3 516.1L653.0 549.1L613.5 549.1Z" fill="#fff" stroke="#e00000" stroke-width="0.9"/>
<path d="M639.9 519.0L659.6 552.0L620.1 552.0Z" fill="#fff" stroke="#e00000" stroke-width="0.9"/>
<path d="M646.5 522.3L666.2 555.3L626.7 555.3Z" fill="#fff" stroke="#e00000" stroke-width="0.9"/>
<path d="M653.1 526.7L672.8 559.7L633.3 559.7Z" fill="#fff" stroke="#e00000" stroke-width="0.9"/>
<path d="M659.7 527.6L679.5 560.6L640.0 560.6Z" fill="#fff" stroke="#e00000" stroke-width="0.9"/>
<path d="M666.3 528.8L686.1 561.8L646.6 561.8Z" fill="#fff" stroke="#e00000" stroke-width="0.9"/>
<path d="M672.9 531.2L692.7 564.2L653.2 564.2Z" fill="#fff" stroke="#e00000" stroke-width="0.9"/>
<path d="M679.5 535.6L699.3 568.6L659.8 568.6Z" fill="#fff" stroke="#e00000" stroke-width="0.9"/>
<path d="M686.2 537.5L705.9 570.5L666.4 570.5Z" fill="#fff" stroke="#e00000" stroke-width="0.9"/>
<path d="M692.8 536.0L712.5 569.0L673.0 569.0Z" fill="#fff" stroke="#e00000" stroke-width="0.9"/>
<path d="M699.4 537.6L719.1 570.6L679.6 570.6Z" fill="#fff" stroke="#e00000" stroke-width="0.9"/>
<path d="M706.0 539.2L725.8 572.2L686.2 572.2Z" fill="#fff" stroke="#e00000" stroke-width="0.9"/>
<path d="M712.6 539.6L732.4 572.6L692.9 572.6Z" fill="#fff" stroke="#e00000" stroke-width="0.9"/>
<path d="M719.2 542.6L739.0 575.6L699.5 575.6Z" fill="#fff" stroke="#e00000" stroke-width="0.9"/>
<path d="M725.8 543.6L745.6 576.6L706.1 576.6Z" fill="#fff" stroke="#e00000" stroke-width="0.9"/>
<path d="M732.4 547.4L752.2 580.4L712.7 580.4Z" fill="#fff" stroke="#e00000" stroke-width="0.9"/>
<path d="M739.1 551.2L758.8 584.2L719.3 584.2Z" fill="#fff" stroke="#e00000" stroke-width="0.9"/>
<path d="M745.7 553.3L765.4 586.3L725.9 586.3Z" fill="#fff" stroke="#e00000" stroke-width="0.9"/>
<path d="M752.3 552.7L772.0 585.7L732.5 585.7Z" fill="#fff" stroke="#e00000" stroke-width="0.9"/>
<path d="M758.9 555.5L778.6 588.5L739.1 588.5Z" fill="#fff" stroke="#e00000" stroke-width="0.9"/>
<path d="M765.5 558.7L785.3 591.7L745.8 591.7Z" fill="#fff" stroke="#e00000" stroke-width="0.9"/>
<path d="M772.1 562.0L791.9 595.0L752.4 595.0Z" fill="#fff" stroke="#e00000" stroke-width="0.9"/>
<path d="M778.7 563.4L798.5 596.4L759.0 596.4Z" fill="#fff" stroke="#e00000" stroke-width="0.9"/>
<path d="M785.4 565.2L805.1 598.2L765.6 598.2Z" fill="#fff" stroke="#e00000" stroke-width="0.9"/>
<path d="M792.0 568.0L811.7 601.0L772.2 601.0Z" fill="#fff" stroke="#e00000" stroke-width="0.9"/>
<path d="M798.6 569.8L818.3 602.8L778.8 602.8Z" fill="#fff" stroke="#e00000" stroke-width="0.9"/>
<path d="M805.2 574.9L824.9 607.9L785.4 607.9Z" fill="#fff" stroke="#e00000" stroke-width="0.9"/>
<path d="M811.8 576.7L831.5 609.7L792.0 609.7Z" fill="#fff" stroke="#e00000" stroke-width="0.9"/>
<path d="M818.4 578.0L838.2 611.0L798.7 611.0Z" fill="#fff" stroke="#e00000" stroke-width="0.9"/>
<path d="M825.0 581.6L844.8 614.6L805.3 614.6Z" fill="#fff" stroke="#e00000" stroke-width="0.9"/>
<path d="M831.6 583.4L851.4 616.4L811.9 616.4Z" fill="#fff" stroke="#e00000" stroke-width="0.9"/>
<path d="M838.2 585.9L858.0 618.9L818.5 618.9Z" fill="#fff" stroke="#e00000" stroke-width="0.9"/>
<path d="M844.9 587.7L864.6 620.7L825.1 620.7Z" fill="#fff" stroke="#e00000" stroke-width="0.9"/>
<path d="M851.5 590.7L871.2 623.7L831.7 623.7Z" fill="#fff" stroke="#e00000" stroke-width="0.9"/>
<path d="M858.1 595.1L877.8 628.1L838.3 628.1Z" fill="#fff" stroke="#e00000" stroke-width="0.9"/>
<path d="M864.7 596.8L884.4 629.8L844.9 629.8Z" fill="#fff" stroke="#e00000" stroke-width="0.9"/>
<path d="M871.3 599.4L891.1 632.4L851.6 632.4Z" fill="#fff" stroke="#e00000" stroke-width="0.9"/>
<path d="M877.9 599.0L897.7 632.0L858.2 632.0Z" fill="#fff" stroke="#e00000" stroke-width="0.9"/>
<path d="M884.5 602.8L904.3 635.8L864.8 635.8Z" fill="#fff" stroke="#e00000" stroke-width="0.9"/>
<path d="M891.1 604.6L910.9 637.6L871.4 637.6Z" fill="#fff" stroke="#e00000" stroke-width="0.9"/>
<path d="M897.8 605.7L917.5 638.7L878.0 638.7Z" fill="#fff" stroke="#e00000" stroke-width="0.9"/>
<path d="M904.4 609.3L924.1 642.3L884.6 642.3Z" fill="#fff" stroke="#e00000" stroke-width="0.9"/>
<path d="M911.0 610.3L930.7 643.3L891.2 643.3Z" fill="#fff" stroke="#e00000" stroke-width="0.9"/>
<path d="M917.6 613.2L937.4 646.2L897.9 646.2Z" fill="#fff" stroke="#e00000" stroke-width="0.9"/>
<path d="M924.2 617.8L944.0 650.8L904.5 650.8Z" fill="#fff" stroke="#e00000" stroke-width="0.9"/>
<path d="M930.8 619.6L950.6 652.6L911.1 652.6Z" fill="#fff" stroke="#e00000" stroke-width="0.9"/>
<path d="M937.4 621.9L957.2 654.9L917.7 654.9Z" fill="#fff" stroke="#e00000" stroke-width="0.9"/>
<path d="M944.0 621.8L963.8 654.8L924.3 654.8Z" fill="#fff" stroke="#e00000" stroke-width="0.9"/>
<path d="M950.7 624.3L970.4 657.3L930.9 657.3Z" fill="#fff" stroke="#e00000" stroke-width="0.9"/>
<path d="M957.3 625.1L977.0 658.1L937.5 658.1Z" fill="#fff" stroke="#e00000" stroke-width="0.9"/>
<path d="M963.9 626.8L983.6 659.8L944.1 659.8Z" fill="#fff" stroke="#e00000" stroke-width="0.9"/>
<path d="M970.5 628.2L990.2 661.2L950.8 661.2Z" fill="#fff" stroke="#e00000" stroke-width="0.9"/>
<path d="M977.1 633.0L996.9 666.0L957.4 666.0Z" fill="#fff" stroke="#e00000" stroke-width="0.9"/>
<path d="M983.7 634.2L1003.5 667.2L964.0 667.2Z" fill="#fff" stroke="#e00000" stroke-width="0.9"/>
<path d="M990.3 632.9L1010.1 665.9L970.6 665.9Z" fill="#fff" stroke="#e00000" stroke-width="0.9"/>
<path d="M996.9 634.6L1016.7 667.6L977.2 667.6Z" fill="#fff" stroke="#e00000" stroke-width="0.9"/>
<path d="M1003.6 638.9L1023.3 671.9L983.8 671.9Z" fill="#fff" stroke="#e00000" stroke-width="0.9"/>
<path d="M1010.2 638.9L1029.9 671.9L990.4 671.9Z" fill="#fff" stroke="#e00000" stroke-width="0.9"/>
<path d="M1016.8 639.6L1036.5 672.6L997.0 672.6Z" fill="#fff" stroke="#e00000" stroke-width="0.9"/>
<path d="M1023.4 641.5L1043.2 674.5L1003.6 674.5Z" fill="#fff" stroke="#e00000" stroke-width="0.9"/>
<path d="M1030.0 642.3L1049.8 675.3L1010.3 675.3Z" fill="#fff" stroke="#e00000" stroke-width="0.9"/>
<path d="M1036.6 645.1L1056.4 678.1L1016.9 678.1Z" fill="#fff" stroke="#e00000" stroke-width="0.9"/>
<path d="M1043.2 648.1L1063.0 681.1L1023.5 681.1Z" fill="#fff" stroke="#e00000" stroke-width="0.9"/>
<path d="M1049.8 650.7L1069.6 683.7L1030.1 683.7Z" fill="#fff" stroke="#e00000" stroke-width="0.9"/>
<path d="M1056.5 655.3L1076.2 688.3L1036.7 688.3Z" fill="#fff" stroke="#e00000" stroke-width="0.9"/>
<path d="M1063.1 656.0L1082.8 689.0L1043.3 689.0Z" fill="#fff" stroke="#e00000" stroke-width="0.9"/>
<path d="M1069.7 661.4L1089.4 694.4L1049.9 694.4Z" fill="#fff" stroke="#e00000" stroke-width="0.9"/>
<path d="M1076.3 666.3L1096.0 699.3L1056.5 699.3Z" fill="#fff" stroke="#e00000" stroke-width="0.9"/>
<path d="M1082.9 666.4L1102.7 699.4L1063.2 699.4Z" fill="#fff" stroke="#e00000" stroke-width="0.9"/>
<path d="M1089.5 671.2L1109.3 704.2L1069.8 704.2Z" fill="#fff" stroke="#e00000" stroke-width="0.9"/>
<path d="M1096.1 675.5L1115.9 708.5L1076.4 708.5Z" fill="#fff" stroke="#e00000" stroke-width="0.9"/>
<path d="M1102.8 678.0L1122.5 711.0L1083.0 711.0Z" fill="#fff" stroke="#e00000" stroke-width="0.9"/>
<path d="M1109.4 684.2L1129.1 717.2L1089.6 717.2Z" fill="#fff" stroke="#e00000" stroke-width="0.9"/>
<path d="M1116.0 686.0L1135.7 719.0L1096.2 719.0Z" fill="#fff" stroke="#e00000" stroke-width="0.9"/>
<path d="M1122.6 689.7L1142.3 722.7L1102.8 722.7Z" fill="#fff" stroke="#e00000" stroke-width="0.9"/>
<path d="M1129.2 695.1L1148.9 728.1L1109.4 728.1Z" fill="#fff" stroke="#e00000" stroke-width="0.9"/>
<path d="M1135.8 695.2L1155.6 728.2L1116.1 728.2Z" fill="#fff" stroke="#e00000" stroke-width="0.9"/>
<path d="M1142.4 702.1L1162.2 735.1L1122.7 735.1Z" fill="#fff" stroke="#e00000" stroke-width="0.9"/>
<path d="M1149.0 702.0L1168.8 735.0L1129.3 735.0Z" fill="#fff" stroke="#e00000" stroke-width="0.9"/>
<path d="M1155.7 706.1L1175.4 739.1L1135.9 739.1Z" fill="#fff" stroke="#e00000" stroke-width="0.9"/>
<path d="M1162.3 709.7L1182.0 742.7L1142.5 742.7Z" fill="#fff" stroke="#e00000" stroke-width="0.9"/>
<path d="M1168.9 716.8L1188.6 749.8L1149.1 749.8Z" fill="#fff" stroke="#e00000" stroke-width="0.9"/>
<path d="M1175.5 722.1L1195.2 755.1L1155.7 755.1Z" fill="#fff" stroke="#e00000" stroke-width="0.9"/>
<path d="M1182.1 729.3L1201.8 762.3L1162.3 762.3Z" fill="#fff" stroke="#e00000" stroke-width="0.9"/>
<path d="M1188.7 735.3L1208.5 768.3L1169.0 768.3Z" fill="#fff" stroke="#e00000" stroke-width="0.9"/>
<path d="M1195.3 741.4L1215.1 774.4L1175.6 774.4Z" fill="#fff" stroke="#e00000" stroke-width="0.9"/>
<path d="M1201.9 745.0L1221.7 778.0L1182.2 778.0Z" fill="#fff" stroke="#e00000" stroke-width="0.9"/>
<path d="M177.0 466.2L196.8 499.2L157.2 499.2Z" fill="#ff0000" stroke="#000" stroke-width="0.9"/>
<path d="M183.6 467.7L203.4 500.7L163.9 500.7Z" fill="#ff0000" stroke="#000" stroke-width="0.9"/>
<path d="M190.2 466.3L210.0 499.3L170.5 499.3Z" fill="#ff0000" stroke="#000" stroke-width="0.9"/>
<path d="M196.8 470.9L216.6 503.9L177.1 503.9Z" fill="#ff0000" stroke="#000" stroke-width="0.9"/>
<path d="M203.4 471.0L223.2 504.0L183.7 504.0Z" fill="#ff0000" stroke="#000" stroke-width="0.9"/>
<path d="M210.1 471.1L229.8 504.1L190.3 504.1Z" fill="#ff0000" stroke="#000" stroke-width="0.9"/>
<path d="M216.7 472.4L236.4 505.4L196.9 505.4Z" fill="#ff0000" stroke="#000" stroke-width="0.9"/>
<path d="M223.3 471.0L243.0 504.0L203.5 504.0Z" fill="#ff0000" stroke="#000" stroke-width="0.9"/>
<path d="M229.9 472.3L249.7 505.3L210.2 505.3Z" fill="#ff0000" stroke="#000" stroke-width="0.9"/>
<path d="M236.5 472.8L256.3 505.8L216.8 505.8Z" fill="#ff0000" stroke="#000" stroke-width="0.9"/>
<path d="M243.1 475.0L262.9 508.0L223.4 508.0Z" fill="#ff0000" stroke="#000" stroke-width="0.9"/>
<path d="M249.7 473.8L269.5 506.8L230.0 506.8Z" fill="#ff0000" stroke="#000" stroke-width="0.9"/>
<path d="M256.4 478.0L276.1 511.0L236.6 511.0Z" fill="#ff0000" stroke="#000" stroke-width="0.9"/>
<path d="M263.0 477.2L282.7 510.2L243.2 510.2Z" fill="#ff0000" stroke="#000" stroke-width="0.9"/>
<path d="M269.6 478.0L289.3 511.0L249.8 511.0Z" fill="#ff0000" stroke="#000" stroke-width="0.9"/>
<path d="M276.2 477.6L295.9 510.6L256.4 510.6Z" fill="#ff0000" stroke="#000" stroke-width="0.9"/>
<path d="M282.8 480.8L302.6 513.8L263.1 513.8Z" fill="#ff0000" stroke="#000" stroke-width="0.9"/>
<path d="M289.4 482.3L309.2 515.3L269.7 515.3Z" fill="#ff0000" stroke="#000" stroke-width="0.9"/>
<path d="M296.0 482.5L315.8 515.5L276.3 515.5Z" fill="#ff0000" stroke="#000" stroke-width="0.9"/>
<path d="M302.6 481.5L322.4 514.5L282.9 514.5Z" fill="#ff0000" stroke="#000" stroke-width="0.9"/>
<path d="M309.2 483.9L329.0 516.9L289.5 516.9Z" fill="#ff0000" stroke="#000" stroke-width="0.9"/>
<path d="M315.9 481.5L335.6 514.5L296.1 514.5Z" fill="#ff0000" stroke="#000" stroke-width="0.9"/>
<path d="M322.5 484.4L342.2 517.4L302.7 517.4Z" fill="#ff0000" stroke="#000" stroke-width="0.9"/>
<path d="M329.1 483.6L348.8 516.6L309.3 516.6Z" fill="#ff0000" stroke="#000" stroke-width="0.9"/>
<path d="M335.7 482.5L355.4 515.5L315.9 515.5Z" fill="#ff0000" stroke="#000" stroke-width="0.9"/>
<path d="M342.3 483.6L362.1 516.6L322.6 516.6Z" fill="#ff0000" stroke="#000" stroke-width="0.9"/>
<path d="M348.9 484.2L368.7 517.2L329.2 517.2Z" fill="#ff0000" stroke="#000" stroke-width="0.9"/>
<path d="M355.5 482.9L375.3 515.9L335.8 515.9Z" fill="#ff0000" stroke="#000" stroke-width="0.9"/>
<path d="M362.1 485.4L381.9 518.4L342.4 518.4Z" fill="#ff0000" stroke="#000" stroke-width="0.9"/>
<path d="M368.8 483.9L388.5 516.9L349.0 516.9Z" fill="#ff0000" stroke="#000" stroke-width="0.9"/>
<path d="M375.4 486.0L395.1 519.0L355.6 519.0Z" fill="#ff0000" stroke="#000" stroke-width="0.9"/>
<path d="M382.0 485.8L401.7 518.8L362.2 518.8Z" fill="#ff0000" stroke="#000" stroke-width="0.9"/>
<path d="M388.6 482.7L408.4 515.7L368.9 515.7Z" fill="#ff0000" stroke="#000" stroke-width="0.9"/>
<path d="M395.2 484.7L415.0 517.7L375.5 517.7Z" fill="#ff0000" stroke="#000" stroke-width="0.9"/>
<path d="M401.8 483.2L421.6 516.2L382.1 516.2Z" fill="#ff0000" stroke="#000" stroke-width="0.9"/>
<path d="M408.4 484.8L428.2 517.8L388.7 517.8Z" fill="#ff0000" stroke="#000" stroke-width="0.9"/>
<path d="M415.0 483.8L434.8 516.8L395.3 516.8Z" fill="#ff0000" stroke="#000" stroke-width="0.9"/>
<path d="M421.7 483.7L441.4 516.7L401.9 516.7Z" fill="#ff0000" stroke="#000" stroke-width="0.9"/>
<path d="M428.3 487.0L448.0 520.0L408.5 520.0Z" fill="#ff0000" stroke="#000" stroke-width="0.9"/>
<path d="M434.9 485.2L454.6 518.2L415.1 518.2Z" fill="#ff0000" stroke="#000" stroke-width="0.9"/>
<path d="M454.7 488.4L474.5 521.4L435.0 521.4Z" fill="#ff0000" stroke="#000" stroke-width="0.9"/>
<path d="M461.3 490.9L481.1 523.9L441.6 523.9Z" fill="#ff0000" stroke="#000" stroke-width="0.9"/>
<path d="M467.9 489.8L487.7 522.8L448.2 522.8Z" fill="#ff0000" stroke="#000" stroke-width="0.9"/>
<path d="M474.6 490.8L494.3 523.8L454.8 523.8Z" fill="#ff0000" stroke="#000" stroke-width="0.9"/>
<path d="M481.2 489.3L500.9 522.3L461.4 522.3Z" fill="#ff0000" stroke="#000" stroke-width="0.9"/>
<path d="M487.8 488.0L507.5 521.0L468.0 521.0Z" fill="#ff0000" stroke="#000" stroke-width="0.9"/>
<path d="M494.4 491.0L514.1 524.0L474.6 524.0Z" fill="#ff0000" stroke="#000" stroke-width="0.9"/>
<path d="M501.0 488.4L520.8 521.4L481.3 521.4Z" fill="#ff0000" stroke="#000" stroke-width="0.9"/>
<path d="M507.6 489.1L527.4 522.1L487.9 522.1Z" fill="#ff0000" stroke="#000" stroke-width="0.9"/>
<path d="M514.2 492.7L534.0 525.7L494.5 525.7Z" fill="#ff0000" stroke="#000" stroke-width="0.9"/>
<path d="M520.8 492.2L540.6 525.2L501.1 525.2Z" fill="#ff0000" stroke="#000" stroke-width="0.9"/>
<path d="M527.5 493.8L547.2 526.8L507.7 526.8Z" fill="#ff0000" stroke="#000" stroke-width="0.9"/>
<path d="M534.1 497.5L553.8 530.5L514.3 530.5Z" fill="#ff0000" stroke="#000" stroke-width="0.9"/>
<path d="M540.7 497.0L560.4 530.0L520.9 530.0Z" fill="#ff0000" stroke="#000" stroke-width="0.9"/>
<path d="M547.3 500.9L567.0 533.9L527.5 533.9Z" fill="#ff0000" stroke="#000" stroke-width="0.9"/>
<path d="M553.9 503.0L573.7 536.0L534.2 536.0Z" fill="#ff0000" stroke="#000" stroke-width="0.9"/>
<path d="M560.5 505.1L580.3 538.1L540.8 538.1Z" fill="#ff0000" stroke="#000" stroke-width="0.9"/>
<path d="M567.1 507.3L586.9 540.3L547.4 540.3Z" fill="#ff0000" stroke="#000" stroke-width="0.9"/>
<path d="M573.8 511.4L593.5 544.4L554.0 544.4Z" fill="#ff0000" stroke="#000" stroke-width="0.9"/>
<path d="M580.4 517.1L600.1 550.1L560.6 550.1Z" fill="#ff0000" stroke="#000" stroke-width="0.9"/>
<path d="M587.0 517.4L606.7 550.4L567.2 550.4Z" fill="#ff0000" stroke="#000" stroke-width="0.9"/>
<path d="M593.6 519.0L613.3 552.0L573.8 552.0Z" fill="#ff0000" stroke="#000" stroke-width="0.9"/>
<path d="M600.2 522.2L620.0 555.2L580.5 555.2Z" fill="#ff0000" stroke="#000" stroke-width="0.9"/>
<path d="M606.8 527.1L626.6 560.1L587.1 560.1Z" fill="#ff0000" stroke="#000" stroke-width="0.9"/>
<path d="M613.4 526.5L633.2 559.5L593.7 559.5Z" fill="#ff0000" stroke="#000" stroke-width="0.9"/>
<path d="M620.0 531.3L639.8 564.3L600.3 564.3Z" fill="#ff0000" stroke="#000" stroke-width="0.9"/>
<path d="M626.6 531.1L646.4 564.1L606.9 564.1Z" fill="#ff0000" stroke="#000" stroke-width="0.9"/>
<path d="M633.3 536.9L653.0 569.9L613.5 569.9Z" fill="#ff0000" stroke="#000" stroke-width="0.9"/>
<path d="M639.9 538.2L659.6 571.2L620.1 571.2Z" fill="#ff0000" stroke="#000" stroke-width="0.9"/>
<path d="M646.5 539.2L666.2 572.2L626.7 572.2Z" fill="#ff0000" stroke="#000" stroke-width="0.9"/>
<path d="M653.1 545.7L672.8 578.7L633.3 578.7Z" fill="#ff0000" stroke="#000" stroke-width="0.9"/>
<path d="M659.7 546.4L679.5 579.4L640.0 579.4Z" fill="#ff0000" stroke="#000" stroke-width="0.9"/>
<path d="M666.3 550.9L686.1 583.9L646.6 583.9Z" fill="#ff0000" stroke="#000" stroke-width="0.9"/>
<path d="M672.9 553.0L692.7 586.0L653.2 586.0Z" fill="#ff0000" stroke="#000" stroke-width="0.9"/>
<path d="M679.5 554.4L699.3 587.4L659.8 587.4Z" fill="#ff0000" stroke="#000" stroke-width="0.9"/>
<path d="M706.0 560.7L725.8 593.7L686.2 593.7Z" fill="#ff0000" stroke="#000" stroke-width="0.9"/>
<path d="M712.6 563.1L732.4 596.1L692.9 596.1Z" fill="#ff0000" stroke="#000" stroke-width="0.9"/>
<path d="M719.2 569.1L739.0 602.1L699.5 602.1Z" fill="#ff0000" stroke="#000" stroke-width="0.9"/>
<path d="M725.8 568.1L745.6 601.1L706.1 601.1Z" fill="#ff0000" stroke="#000" stroke-width="0.9"/>
<path d="M732.4 572.2L752.2 605.2L712.7 605.2Z" fill="#ff0000" stroke="#000" stroke-width="0.9"/>
<path d="M739.1 573.1L758.8 606.1L719.3 606.1Z" fill="#ff0000" stroke="#000" stroke-width="0.9"/>
<path d="M745.7 575.9L765.4 608.9L725.9 608.9Z" fill="#ff0000" stroke="#000" stroke-width="0.9"/>
<path d="M752.3 580.2L772.0 613.2L732.5 613.2Z" fill="#ff0000" stroke="#000" stroke-width="0.9"/>
<path d="M758.9 583.1L778.6 616.1L739.1 616.1Z" fill="#ff0000" stroke="#000" stroke-width="0.9"/>
<path d="M765.5 583.3L785.3 616.3L745.8 616.3Z" fill="#ff0000" stroke="#000" stroke-width="0.9"/>
<path d="M772.1 583.6L791.9 616.6L752.4 616.6Z" fill="#ff0000" stroke="#000" stroke-width="0.9"/>
<path d="M778.7 589.7L798.5 622.7L759.0 622.7Z" fill="#ff0000" stroke="#000" stroke-width="0.9"/>
<path d="M785.4 588.0L805.1 621.0L765.6 621.0Z" fill="#ff0000" stroke="#000" stroke-width="0.9"/>
<path d="M792.0 591.5L811.7 624.5L772.2 624.5Z" fill="#ff0000" stroke="#000" stroke-width="0.9"/>
<path d="M798.6 594.2L818.3 627.2L778.8 627.2Z" fill="#ff0000" stroke="#000" stroke-width="0.9"/>
<path d="M805.2 597.7L824.9 630.7L785.4 630.7Z" fill="#ff0000" stroke="#000" stroke-width="0.9"/>
<path d="M811.8 599.6L831.5 632.6L792.0 632.6Z" fill="#ff0000" stroke="#000" stroke-width="0.9"/>
<path d="M818.4 600.8L838.2 633.8L798.7 633.8Z" fill="#ff0000" stroke="#000" stroke-width="0.9"/>
<path d="M825.0 602.1L844.8 635.1L805.3 635.1Z" fill="#ff0000" stroke="#000" stroke-width="0.9"/>
<path d="M831.6 606.0L851.4 639.0L811.9 639.0Z" fill="#ff0000" stroke="#000" stroke-width="0.9"/>
<path d="M838.2 608.2L858.0 641.2L818.5 641.2Z" fill="#ff0000" stroke="#000" stroke-width="0.9"/>
<path d="M844.9 610.3L864.6 643.3L825.1 643.3Z" fill="#ff0000" stroke="#000" stroke-width="0.9"/>
<path d="M851.5 611.8L871.2 644.8L831.7 644.8Z" fill="#ff0000" stroke="#000" stroke-width="0.9"/>
<path d="M858.1 611.5L877.8 644.5L838.3 644.5Z" fill="#ff0000" stroke="#000" stroke-width="0.9"/>
<path d="M864.7 614.4L884.4 647.4L844.9 647.4Z" fill="#ff0000" stroke="#000" stroke-width="0.9"/>
<path d="M871.3 617.3L891.1 650.3L851.6 650.3Z" fill="#ff0000" stroke="#000" stroke-width="0.9"/>
<path d="M877.9 619.5L897.7 652.5L858.2 652.5Z" fill="#ff0000" stroke="#000" stroke-width="0.9"/>
<path d="M884.5 623.1L904.3 656.1L864.8 656.1Z" fill="#ff0000" stroke="#000" stroke-width="0.9"/>
<path d="M891.1 623.1L910.9 656.1L871.4 656.1Z" fill="#ff0000" stroke="#000" stroke-width="0.9"/>
<path d="M897.8 627.0L917.5 660.0L878.0 660.0Z" fill="#ff0000" stroke="#000" stroke-width="0.9"/>
<path d="M904.4 628.2L924.1 661.2L884.6 661.2Z" fill="#ff0000" stroke="#000" stroke-width="0.9"/>
<path d="M911.0 632.1L930.7 665.1L891.2 665.1Z" fill="#ff0000" stroke="#000" stroke-width="0.9"/>
<path d="M917.6 632.1L937.4 665.1L897.9 665.1Z" fill="#ff0000" stroke="#000" stroke-width="0.9"/>
<path d="M924.2 635.5L944.0 668.5L904.5 668.5Z" fill="#ff0000" stroke="#000" stroke-width="0.9"/>
<path d="M930.8 636.3L950.6 669.3L911.1 669.3Z" fill="#ff0000" stroke="#000" stroke-width="0.9"/>
<path d="M937.4 639.0L957.2 672.0L917.7 672.0Z" fill="#ff0000" stroke="#000" stroke-width="0.9"/>
<path d="M944.0 644.2L963.8 677.2L924.3 677.2Z" fill="#ff0000" stroke="#000" stroke-width="0.9"/>
<path d="M950.7 644.0L970.4 677.0L930.9 677.0Z" fill="#ff0000" stroke="#000" stroke-width="0.9"/>
<path d="M957.3 648.3L977.0 681.3L937.5 681.3Z" fill="#ff0000" stroke="#000" stroke-width="0.9"/>
<path d="M963.9 648.8L983.6 681.8L944.1 681.8Z" fill="#ff0000" stroke="#000" stroke-width="0.9"/>
<path d="M970.5 648.8L990.2 681.8L950.8 681.8Z" fill="#ff0000" stroke="#000" stroke-width="0.9"/>
<path d="M977.1 653.8L996.9 686.8L957.4 686.8Z" fill="#ff0000" stroke="#000" stroke-width="0.9"/>
<path d="M983.7 652.5L1003.5 685.5L964.0 685.5Z" fill="#ff0000" stroke="#000" stroke-width="0.9"/>
<path d="M990.3 656.9L1010.1 689.9L970.6 689.9Z" fill="#ff0000" stroke="#000" stroke-width="0.9"/>
<path d="M996.9 654.9L1016.7 687.9L977.2 687.9Z" fill="#ff0000" stroke="#000" stroke-width="0.9"/>
<path d="M1003.6 658.9L1023.3 691.9L983.8 691.9Z" fill="#ff0000" stroke="#000" stroke-width="0.9"/>
<path d="M1010.2 658.2L1029.9 691.2L990.4 691.2Z" fill="#ff0000" stroke="#000" stroke-width="0.9"/>
<path d="M1016.8 660.2L1036.5 693.2L997.0 693.2Z" fill="#ff0000" stroke="#000" stroke-width="0.9"/>
<path d="M1023.4 664.0L1043.2 697.0L1003.6 697.0Z" fill="#ff0000" stroke="#000" stroke-width="0.9"/>
<path d="M1030.0 663.4L1049.8 696.4L1010.3 696.4Z" fill="#ff0000" stroke="#000" stroke-width="0.9"/>
<path d="M1036.6 665.5L1056.4 698.5L1016.9 698.5Z" fill="#ff0000" stroke="#000" stroke-width="0.9"/>
<path d="M1043.2 669.1L1063.0 702.1L1023.5 702.1Z" fill="#ff0000" stroke="#000" stroke-width="0.9"/>
<path d="M1049.8 671.8L1069.6 704.8L1030.1 704.8Z" fill="#ff0000" stroke="#000" stroke-width="0.9"/>
<path d="M1056.5 680.0L1076.2 713.0L1036.7 713.0Z" fill="#ff0000" stroke="#000" stroke-width="0.9"/>
<path d="M1063.1 685.6L1082.8 718.6L1043.3 718.6Z" fill="#ff0000" stroke="#000" stroke-width="0.9"/>
<path d="M1069.7 686.5L1089.4 719.5L1049.9 719.5Z" fill="#ff0000" stroke="#000" stroke-width="0.9"/>
<path d="M1076.3 691.3L1096.0 724.3L1056.5 724.3Z" fill="#ff0000" stroke="#000" stroke-width="0.9"/>
<path d="M1082.9 693.6L1102.7 726.6L1063.2 726.6Z" fill="#ff0000" stroke="#000" stroke-width="0.9"/>
<path d="M1089.5 698.7L1109.3 731.7L1069.8 731.7Z" fill="#ff0000" stroke="#000" stroke-width="0.9"/>
<path d="M1096.1 699.2L1115.9 732.2L1076.4 732.2Z" fill="#ff0000" stroke="#000" stroke-width="0.9"/>
<path d="M1102.8 704.4L1122.5 737.4L1083.0 737.4Z" fill="#ff0000" stroke="#000" stroke-width="0.9"/>
<path d="M1109.4 708.9L1129.1 741.9L1089.6 741.9Z" fill="#ff0000" stroke="#000" stroke-width="0.9"/>
<path d="M1116.0 711.9L1135.7 744.9L1096.2 744.9Z" fill="#ff0000" stroke="#000" stroke-width="0.9"/>
<path d="M1122.6 712.2L1142.3 745.2L1102.8 745.2Z" fill="#ff0000" stroke="#000" stroke-width="0.9"/>
<path d="M1129.2 717.9L1148.9 750.9L1109.4 750.9Z" fill="#ff0000" stroke="#000" stroke-width="0.9"/>
<path d="M1135.8 718.4L1155.6 751.4L1116.1 751.4Z" fill="#ff0000" stroke="#000" stroke-width="0.9"/>
<path d="M1142.4 723.5L1162.2 756.5L1122.7 756.5Z" fill="#ff0000" stroke="#000" stroke-width="0.9"/>
<path d="M448.1 515.5L467.9 548.5L428.4 548.5Z" fill="#ff0000" stroke="#000" stroke-width="0.9"/>
<path d="M441.5 535.5L461.2 568.5L421.8 568.5Z" fill="#ff0000" stroke="#000" stroke-width="0.9"/>
<path d="M683.0 584.5L702.8 617.5L663.2 617.5Z" fill="#ff0000" stroke="#000" stroke-width="0.9"/>
<path d="M690.0 593.5L709.8 626.5L670.2 626.5Z" fill="#ff0000" stroke="#000" stroke-width="0.9"/>
<path d="M699.0 601.5L718.8 634.5L679.2 634.5Z" fill="#ff0000" stroke="#000" stroke-width="0.9"/>
<path d="M1149.0 766.5L1168.8 799.5L1129.2 799.5Z" fill="#ff0000" stroke="#000" stroke-width="0.9"/>
<path d="M1155.5 800.5L1175.2 833.5L1135.8 833.5Z" fill="#ff0000" stroke="#000" stroke-width="0.9"/>
<path d="M1162.0 773.5L1181.8 806.5L1142.2 806.5Z" fill="#ff0000" stroke="#000" stroke-width="0.9"/>
<path d="M1168.5 775.5L1188.2 808.5L1148.8 808.5Z" fill="#ff0000" stroke="#000" stroke-width="0.9"/>
<path d="M1175.0 777.5L1194.8 810.5L1155.2 810.5Z" fill="#ff0000" stroke="#000" stroke-width="0.9"/>
<path d="M1181.5 779.5L1201.2 812.5L1161.8 812.5Z" fill="#ff0000" stroke="#000" stroke-width="0.9"/>
<path d="M1188.0 781.5L1207.8 814.5L1168.2 814.5Z" fill="#ff0000" stroke="#000" stroke-width="0.9"/>
<path d="M1195.0 783.5L1214.8 816.5L1175.2 816.5Z" fill="#ff0000" stroke="#000" stroke-width="0.9"/>
<path d="M1202.0 784.5L1221.8 817.5L1182.2 817.5Z" fill="#ff0000" stroke="#000" stroke-width="0.9"/>
<path d="M177.0 520.3V586.3M166.0 520.3h22M166.0 586.3h22" stroke="#00a400" stroke-width="2.6" fill="none"/>
<path d="M183.6 522.4V588.4M172.6 522.4h22M172.6 588.4h22" stroke="#00a400" stroke-width="2.6" fill="none"/>
<path d="M190.2 522.7V588.7M179.2 522.7h22M179.2 588.7h22" stroke="#00a400" stroke-width="2.6" fill="none"/>
<path d="M196.8 521.4V587.4M185.8 521.4h22M185.8 587.4h22" stroke="#00a400" stroke-width="2.6" fill="none"/>
<path d="M203.4 521.0V587.0M192.4 521.0h22M192.4 587.0h22" stroke="#00a400" stroke-width="2.6" fill="none"/>
<path d="M210.1 523.6V589.6M199.1 523.6h22M199.1 589.6h22" stroke="#00a400" stroke-width="2.6" fill="none"/>
<path d="M216.7 523.1V589.1M205.7 523.1h22M205.7 589.1h22" stroke="#00a400" stroke-width="2.6" fill="none"/>
<path d="M223.3 522.5V588.5M212.3 522.5h22M212.3 588.5h22" stroke="#00a400" stroke-width="2.6" fill="none"/>
<path d="M229.9 527.0V593.0M218.9 527.0h22M218.9 593.0h22" stroke="#00a400" stroke-width="2.6" fill="none"/>
<path d="M236.5 527.6V593.6M225.5 527.6h22M225.5 593.6h22" stroke="#00a400" stroke-width="2.6" fill="none"/>
<path d="M243.1 526.5V592.5M232.1 526.5h22M232.1 592.5h22" stroke="#00a400" stroke-width="2.6" fill="none"/>
<path d="M249.7 527.4V593.4M238.7 527.4h22M238.7 593.4h22" stroke="#00a400" stroke-width="2.6" fill="none"/>
<path d="M256.4 528.7V594.7M245.4 528.7h22M245.4 594.7h22" stroke="#00a400" stroke-width="2.6" fill="none"/>
<path d="M263.0 530.8V596.8M252.0 530.8h22M252.0 596.8h22" stroke="#00a400" stroke-width="2.6" fill="none"/>
<path d="M269.6 530.0V596.0M258.6 530.0h22M258.6 596.0h22" stroke="#00a400" stroke-width="2.6" fill="none"/>
<path d="M276.2 531.5V597.5M265.2 531.5h22M265.2 597.5h22" stroke="#00a400" stroke-width="2.6" fill="none"/>
<path d="M282.8 531.2V597.2M271.8 531.2h22M271.8 597.2h22" stroke="#00a400" stroke-width="2.6" fill="none"/>
<path d="M289.4 532.3V598.3M278.4 532.3h22M278.4 598.3h22" stroke="#00a400" stroke-width="2.6" fill="none"/>
<path d="M296.0 534.5V600.5M285.0 534.5h22M285.0 600.5h22" stroke="#00a400" stroke-width="2.6" fill="none"/>
<path d="M302.6 534.1V600.1M291.6 534.1h22M291.6 600.1h22" stroke="#00a400" stroke-width="2.6" fill="none"/>
<path d="M309.2 533.8V599.8M298.2 533.8h22M298.2 599.8h22" stroke="#00a400" stroke-width="2.6" fill="none"/>
<path d="M315.9 535.6V601.6M304.9 535.6h22M304.9 601.6h22" stroke="#00a400" stroke-width="2.6" fill="none"/>
<path d="M322.5 537.5V603.5M311.5 537.5h22M311.5 603.5h22" stroke="#00a400" stroke-width="2.6" fill="none"/>
<path d="M329.1 536.1V602.1M318.1 536.1h22M318.1 602.1h22" stroke="#00a400" stroke-width="2.6" fill="none"/>
<path d="M335.7 538.9V604.9M324.7 538.9h22M324.7 604.9h22" stroke="#00a400" stroke-width="2.6" fill="none"/>
<path d="M342.3 538.7V604.7M331.3 538.7h22M331.3 604.7h22" stroke="#00a400" stroke-width="2.6" fill="none"/>
<path d="M348.9 539.0V605.0M337.9 539.0h22M337.9 605.0h22" stroke="#00a400" stroke-width="2.6" fill="none"/>
<path d="M355.5 540.4V606.4M344.5 540.4h22M344.5 606.4h22" stroke="#00a400" stroke-width="2.6" fill="none"/>
<path d="M362.1 538.1V604.1M351.1 538.1h22M351.1 604.1h22" stroke="#00a400" stroke-width="2.6" fill="none"/>
<path d="M368.8 540.0V606.0M357.8 540.0h22M357.8 606.0h22" stroke="#00a400" stroke-width="2.6" fill="none"/>
<path d="M375.4 544.0V610.0M364.4 544.0h22M364.4 610.0h22" stroke="#00a400" stroke-width="2.6" fill="none"/>
<path d="M382.0 568.0V634.0M371.0 568.0h22M371.0 634.0h22" stroke="#00a400" stroke-width="2.6" fill="none"/>
<path d="M177.0 517.6V613.1M166.0 517.6h22M166.0 613.1h22" stroke="#00a400" stroke-width="2.6" fill="none"/>
<path d="M183.6 512.6V622.1M172.6 512.6h22M172.6 622.1h22" stroke="#00a400" stroke-width="2.6" fill="none"/>
<path d="M190.2 520.6V614.9M179.2 520.6h22M179.2 614.9h22" stroke="#00a400" stroke-width="2.6" fill="none"/>
<path d="M196.8 518.1V614.8M185.8 518.1h22M185.8 614.8h22" stroke="#00a400" stroke-width="2.6" fill="none"/>
<path d="M203.4 517.9V614.1M192.4 517.9h22M192.4 614.1h22" stroke="#00a400" stroke-width="2.6" fill="none"/>
<path d="M210.1 518.7V618.5M199.1 518.7h22M199.1 618.5h22" stroke="#00a400" stroke-width="2.6" fill="none"/>
<path d="M216.7 517.2V619.0M205.7 517.2h22M205.7 619.0h22" stroke="#00a400" stroke-width="2.6" fill="none"/>
<path d="M223.3 511.4V623.6M212.3 511.4h22M212.3 623.6h22" stroke="#00a400" stroke-width="2.6" fill="none"/>
<path d="M229.9 520.6V623.4M218.9 520.6h22M218.9 623.4h22" stroke="#00a400" stroke-width="2.6" fill="none"/>
<path d="M236.5 524.3V620.8M225.5 524.3h22M225.5 620.8h22" stroke="#00a400" stroke-width="2.6" fill="none"/>
<path d="M243.1 521.8V621.2M232.1 521.8h22M232.1 621.2h22" stroke="#00a400" stroke-width="2.6" fill="none"/>
<path d="M249.7 525.4V619.5M238.7 525.4h22M238.7 619.5h22" stroke="#00a400" stroke-width="2.6" fill="none"/>
<path d="M256.4 526.4V621.0M245.4 526.4h22M245.4 621.0h22" stroke="#00a400" stroke-width="2.6" fill="none"/>
<path d="M263.0 524.5V627.1M252.0 524.5h22M252.0 627.1h22" stroke="#00a400" stroke-width="2.6" fill="none"/>
<path d="M269.6 522.9V627.1M258.6 522.9h22M258.6 627.1h22" stroke="#00a400" stroke-width="2.6" fill="none"/>
<path d="M276.2 527.0V626.0M265.2 527.0h22M265.2 626.0h22" stroke="#00a400" stroke-width="2.6" fill="none"/>
<path d="M282.8 525.4V627.0M271.8 525.4h22M271.8 627.0h22" stroke="#00a400" stroke-width="2.6" fill="none"/>
<path d="M289.4 529.2V625.3M278.4 529.2h22M278.4 625.3h22" stroke="#00a400" stroke-width="2.6" fill="none"/>
<path d="M296.0 525.9V633.0M285.0 525.9h22M285.0 633.0h22" stroke="#00a400" stroke-width="2.6" fill="none"/>
<path d="M302.6 528.2V630.0M291.6 528.2h22M291.6 630.0h22" stroke="#00a400" stroke-width="2.6" fill="none"/>
<path d="M309.2 530.1V627.4M298.2 530.1h22M298.2 627.4h22" stroke="#00a400" stroke-width="2.6" fill="none"/>
<path d="M315.9 528.6V632.5M304.9 528.6h22M304.9 632.5h22" stroke="#00a400" stroke-width="2.6" fill="none"/>
<path d="M322.5 533.5V631.6M311.5 533.5h22M311.5 631.6h22" stroke="#00a400" stroke-width="2.6" fill="none"/>
<path d="M329.1 531.2V631.0M318.1 531.2h22M318.1 631.0h22" stroke="#00a400" stroke-width="2.6" fill="none"/>
<path d="M335.7 535.7V632.2M324.7 535.7h22M324.7 632.2h22" stroke="#00a400" stroke-width="2.6" fill="none"/>
<path d="M342.3 528.9V638.5M331.3 528.9h22M331.3 638.5h22" stroke="#00a400" stroke-width="2.6" fill="none"/>
<path d="M348.9 534.2V633.8M337.9 534.2h22M337.9 633.8h22" stroke="#00a400" stroke-width="2.6" fill="none"/>
<path d="M355.5 528.8V642.0M344.5 528.8h22M344.5 642.0h22" stroke="#00a400" stroke-width="2.6" fill="none"/>
<path d="M362.1 532.1V634.2M351.1 532.1h22M351.1 634.2h22" stroke="#00a400" stroke-width="2.6" fill="none"/>
<path d="M368.8 536.4V633.6M357.8 536.4h22M357.8 633.6h22" stroke="#00a400" stroke-width="2.6" fill="none"/>
<path d="M375.4 534.9V643.1M364.4 534.9h22M364.4 643.1h22" stroke="#00a400" stroke-width="2.6" fill="none"/>
<path d="M382.0 567.0V659.0M371.0 567.0h22M371.0 659.0h22" stroke="#00a400" stroke-width="2.6" fill="none"/>
<path d="M178.0 539.8L197.8 572.8L158.2 572.8Z" fill="#fff" stroke="#8aa08a" stroke-width="0.8"/>
<path d="M184.6 541.9L204.4 574.9L164.9 574.9Z" fill="#fff" stroke="#8aa08a" stroke-width="0.8"/>
<path d="M191.2 542.2L211.0 575.2L171.5 575.2Z" fill="#fff" stroke="#8aa08a" stroke-width="0.8"/>
<path d="M197.8 540.9L217.6 573.9L178.1 573.9Z" fill="#fff" stroke="#8aa08a" stroke-width="0.8"/>
<path d="M204.4 540.5L224.2 573.5L184.7 573.5Z" fill="#fff" stroke="#8aa08a" stroke-width="0.8"/>
<path d="M211.1 543.1L230.8 576.1L191.3 576.1Z" fill="#fff" stroke="#8aa08a" stroke-width="0.8"/>
<path d="M217.7 542.6L237.4 575.6L197.9 575.6Z" fill="#fff" stroke="#8aa08a" stroke-width="0.8"/>
<path d="M224.3 542.0L244.0 575.0L204.5 575.0Z" fill="#fff" stroke="#8aa08a" stroke-width="0.8"/>
<path d="M230.9 546.5L250.7 579.5L211.2 579.5Z" fill="#fff" stroke="#8aa08a" stroke-width="0.8"/>
<path d="M237.5 547.1L257.3 580.1L217.8 580.1Z" fill="#fff" stroke="#8aa08a" stroke-width="0.8"/>
<path d="M244.1 546.0L263.9 579.0L224.4 579.0Z" fill="#fff" stroke="#8aa08a" stroke-width="0.8"/>
<path d="M250.7 546.9L270.5 579.9L231.0 579.9Z" fill="#fff" stroke="#8aa08a" stroke-width="0.8"/>
<path d="M257.4 548.2L277.1 581.2L237.6 581.2Z" fill="#fff" stroke="#8aa08a" stroke-width="0.8"/>
<path d="M264.0 550.3L283.7 583.3L244.2 583.3Z" fill="#fff" stroke="#8aa08a" stroke-width="0.8"/>
<path d="M270.6 549.5L290.3 582.5L250.8 582.5Z" fill="#fff" stroke="#8aa08a" stroke-width="0.8"/>
<path d="M277.2 551.0L296.9 584.0L257.4 584.0Z" fill="#fff" stroke="#8aa08a" stroke-width="0.8"/>
<path d="M283.8 550.7L303.6 583.7L264.1 583.7Z" fill="#fff" stroke="#8aa08a" stroke-width="0.8"/>
<path d="M290.4 551.8L310.2 584.8L270.7 584.8Z" fill="#fff" stroke="#8aa08a" stroke-width="0.8"/>
<path d="M297.0 554.0L316.8 587.0L277.3 587.0Z" fill="#fff" stroke="#8aa08a" stroke-width="0.8"/>
<path d="M303.6 553.6L323.4 586.6L283.9 586.6Z" fill="#fff" stroke="#8aa08a" stroke-width="0.8"/>
<path d="M310.2 553.3L330.0 586.3L290.5 586.3Z" fill="#fff" stroke="#8aa08a" stroke-width="0.8"/>
<path d="M316.9 555.1L336.6 588.1L297.1 588.1Z" fill="#fff" stroke="#8aa08a" stroke-width="0.8"/>
<path d="M323.5 557.0L343.2 590.0L303.7 590.0Z" fill="#fff" stroke="#8aa08a" stroke-width="0.8"/>
<path d="M330.1 555.6L349.8 588.6L310.3 588.6Z" fill="#fff" stroke="#8aa08a" stroke-width="0.8"/>
<path d="M336.7 558.4L356.4 591.4L316.9 591.4Z" fill="#fff" stroke="#8aa08a" stroke-width="0.8"/>
<path d="M343.3 558.2L363.1 591.2L323.6 591.2Z" fill="#fff" stroke="#8aa08a" stroke-width="0.8"/>
<path d="M349.9 558.5L369.7 591.5L330.2 591.5Z" fill="#fff" stroke="#8aa08a" stroke-width="0.8"/>
<path d="M356.5 559.9L376.3 592.9L336.8 592.9Z" fill="#fff" stroke="#8aa08a" stroke-width="0.8"/>
<path d="M363.1 557.6L382.9 590.6L343.4 590.6Z" fill="#fff" stroke="#8aa08a" stroke-width="0.8"/>
<path d="M369.8 559.5L389.5 592.5L350.0 592.5Z" fill="#fff" stroke="#8aa08a" stroke-width="0.8"/>
<path d="M376.4 563.5L396.1 596.5L356.6 596.5Z" fill="#fff" stroke="#8aa08a" stroke-width="0.8"/>
<path d="M383.0 587.5L402.7 620.5L363.2 620.5Z" fill="#fff" stroke="#8aa08a" stroke-width="0.8"/>
<path d="M177.0 548.8L196.8 581.8L157.2 581.8Z" fill="#00a400" stroke="#000" stroke-width="0.9"/>
<path d="M183.6 550.9L203.4 583.9L163.9 583.9Z" fill="#00a400" stroke="#000" stroke-width="0.9"/>
<path d="M190.2 551.2L210.0 584.2L170.5 584.2Z" fill="#00a400" stroke="#000" stroke-width="0.9"/>
<path d="M196.8 549.9L216.6 582.9L177.1 582.9Z" fill="#00a400" stroke="#000" stroke-width="0.9"/>
<path d="M203.4 549.5L223.2 582.5L183.7 582.5Z" fill="#00a400" stroke="#000" stroke-width="0.9"/>
<path d="M210.1 552.1L229.8 585.1L190.3 585.1Z" fill="#00a400" stroke="#000" stroke-width="0.9"/>
<path d="M216.7 551.6L236.4 584.6L196.9 584.6Z" fill="#00a400" stroke="#000" stroke-width="0.9"/>
<path d="M223.3 551.0L243.0 584.0L203.5 584.0Z" fill="#00a400" stroke="#000" stroke-width="0.9"/>
<path d="M229.9 555.5L249.7 588.5L210.2 588.5Z" fill="#00a400" stroke="#000" stroke-width="0.9"/>
<path d="M236.5 556.1L256.3 589.1L216.8 589.1Z" fill="#00a400" stroke="#000" stroke-width="0.9"/>
<path d="M243.1 555.0L262.9 588.0L223.4 588.0Z" fill="#00a400" stroke="#000" stroke-width="0.9"/>
<path d="M249.7 555.9L269.5 588.9L230.0 588.9Z" fill="#00a400" stroke="#000" stroke-width="0.9"/>
<path d="M256.4 557.2L276.1 590.2L236.6 590.2Z" fill="#00a400" stroke="#000" stroke-width="0.9"/>
<path d="M263.0 559.3L282.7 592.3L243.2 592.3Z" fill="#00a400" stroke="#000" stroke-width="0.9"/>
<path d="M269.6 558.5L289.3 591.5L249.8 591.5Z" fill="#00a400" stroke="#000" stroke-width="0.9"/>
<path d="M276.2 560.0L295.9 593.0L256.4 593.0Z" fill="#00a400" stroke="#000" stroke-width="0.9"/>
<path d="M282.8 559.7L302.6 592.7L263.1 592.7Z" fill="#00a400" stroke="#000" stroke-width="0.9"/>
<path d="M289.4 560.8L309.2 593.8L269.7 593.8Z" fill="#00a400" stroke="#000" stroke-width="0.9"/>
<path d="M296.0 563.0L315.8 596.0L276.3 596.0Z" fill="#00a400" stroke="#000" stroke-width="0.9"/>
<path d="M302.6 562.6L322.4 595.6L282.9 595.6Z" fill="#00a400" stroke="#000" stroke-width="0.9"/>
<path d="M309.2 562.3L329.0 595.3L289.5 595.3Z" fill="#00a400" stroke="#000" stroke-width="0.9"/>
<path d="M315.9 564.1L335.6 597.1L296.1 597.1Z" fill="#00a400" stroke="#000" stroke-width="0.9"/>
<path d="M322.5 566.0L342.2 599.0L302.7 599.0Z" fill="#00a400" stroke="#000" stroke-width="0.9"/>
<path d="M329.1 564.6L348.8 597.6L309.3 597.6Z" fill="#00a400" stroke="#000" stroke-width="0.9"/>
<path d="M335.7 567.4L355.4 600.4L315.9 600.4Z" fill="#00a400" stroke="#000" stroke-width="0.9"/>
<path d="M342.3 567.2L362.1 600.2L322.6 600.2Z" fill="#00a400" stroke="#000" stroke-width="0.9"/>
<path d="M348.9 567.5L368.7 600.5L329.2 600.5Z" fill="#00a400" stroke="#000" stroke-width="0.9"/>
<path d="M355.5 568.9L375.3 601.9L335.8 601.9Z" fill="#00a400" stroke="#000" stroke-width="0.9"/>
<path d="M362.1 566.6L381.9 599.6L342.4 599.6Z" fill="#00a400" stroke="#000" stroke-width="0.9"/>
<path d="M368.8 568.5L388.5 601.5L349.0 601.5Z" fill="#00a400" stroke="#000" stroke-width="0.9"/>
<path d="M375.4 572.5L395.1 605.5L355.6 605.5Z" fill="#00a400" stroke="#000" stroke-width="0.9"/>
<path d="M382.0 596.5L401.7 629.5L362.2 629.5Z" fill="#00a400" stroke="#000" stroke-width="0.9"/>
<path d="M177.0 383.0V484.1M166.0 383.0h22M166.0 484.1h22" stroke="#ffff00" stroke-width="2.4" fill="none"/>
<path d="M183.6 382.6V482.0M172.6 382.6h22M172.6 482.0h22" stroke="#ffff00" stroke-width="2.4" fill="none"/>
<path d="M190.2 382.2V484.1M179.2 382.2h22M179.2 484.1h22" stroke="#ffff00" stroke-width="2.4" fill="none"/>
<path d="M196.8 381.8V484.4M185.8 381.8h22M185.8 484.4h22" stroke="#ffff00" stroke-width="2.4" fill="none"/>
<path d="M203.4 381.4V482.8M192.4 381.4h22M192.4 482.8h22" stroke="#ffff00" stroke-width="2.4" fill="none"/>
<path d="M210.1 381.0V483.3M199.1 381.0h22M199.1 483.3h22" stroke="#ffff00" stroke-width="2.4" fill="none"/>
<path d="M216.7 381.0V483.9M205.7 381.0h22M205.7 483.9h22" stroke="#ffff00" stroke-width="2.4" fill="none"/>
<path d="M223.3 381.0V482.9M212.3 381.0h22M212.3 482.9h22" stroke="#ffff00" stroke-width="2.4" fill="none"/>
<path d="M229.9 381.0V484.8M218.9 381.0h22M218.9 484.8h22" stroke="#ffff00" stroke-width="2.4" fill="none"/>
<path d="M236.5 381.0V484.4M225.5 381.0h22M225.5 484.4h22" stroke="#ffff00" stroke-width="2.4" fill="none"/>
<path d="M243.1 381.0V485.0M232.1 381.0h22M232.1 485.0h22" stroke="#ffff00" stroke-width="2.4" fill="none"/>
<path d="M249.7 381.0V483.8M238.7 381.0h22M238.7 483.8h22" stroke="#ffff00" stroke-width="2.4" fill="none"/>
<path d="M256.4 381.0V484.3M245.4 381.0h22M245.4 484.3h22" stroke="#ffff00" stroke-width="2.4" fill="none"/>
<path d="M263.0 381.4V483.6M252.0 381.4h22M252.0 483.6h22" stroke="#ffff00" stroke-width="2.4" fill="none"/>
<path d="M269.6 382.2V484.3M258.6 382.2h22M258.6 484.3h22" stroke="#ffff00" stroke-width="2.4" fill="none"/>
<path d="M276.2 383.0V485.8M265.2 383.0h22M265.2 485.8h22" stroke="#ffff00" stroke-width="2.4" fill="none"/>
<path d="M282.8 383.9V486.8M271.8 383.9h22M271.8 486.8h22" stroke="#ffff00" stroke-width="2.4" fill="none"/>
<path d="M289.4 384.7V484.6M278.4 384.7h22M278.4 484.6h22" stroke="#ffff00" stroke-width="2.4" fill="none"/>
<path d="M296.0 385.5V484.6M285.0 385.5h22M285.0 484.6h22" stroke="#ffff00" stroke-width="2.4" fill="none"/>
<path d="M302.6 386.8V485.0M291.6 386.8h22M291.6 485.0h22" stroke="#ffff00" stroke-width="2.4" fill="none"/>
<path d="M309.2 388.8V486.3M298.2 388.8h22M298.2 486.3h22" stroke="#ffff00" stroke-width="2.4" fill="none"/>
<path d="M315.9 390.8V487.7M304.9 390.8h22M304.9 487.7h22" stroke="#ffff00" stroke-width="2.4" fill="none"/>
<path d="M322.5 392.7V486.4M311.5 392.7h22M311.5 486.4h22" stroke="#ffff00" stroke-width="2.4" fill="none"/>
<path d="M329.1 394.7V487.6M318.1 394.7h22M318.1 487.6h22" stroke="#ffff00" stroke-width="2.4" fill="none"/>
<path d="M335.7 396.7V488.2M324.7 396.7h22M324.7 488.2h22" stroke="#ffff00" stroke-width="2.4" fill="none"/>
<path d="M342.3 399.2V489.6M331.3 399.2h22M331.3 489.6h22" stroke="#ffff00" stroke-width="2.4" fill="none"/>
<path d="M348.9 402.7V488.1M337.9 402.7h22M337.9 488.1h22" stroke="#ffff00" stroke-width="2.4" fill="none"/>
<path d="M355.5 406.2V488.1M344.5 406.2h22M344.5 488.1h22" stroke="#ffff00" stroke-width="2.4" fill="none"/>
<path d="M362.1 409.7V490.0M351.1 409.7h22M351.1 490.0h22" stroke="#ffff00" stroke-width="2.4" fill="none"/>
<path d="M368.8 413.1V489.6M357.8 413.1h22M357.8 489.6h22" stroke="#ffff00" stroke-width="2.4" fill="none"/>
<path d="M373.4 415.6V503.0M362.4 415.6h22M362.4 503.0h22" stroke="#ffff00" stroke-width="2.4" fill="none"/>
<path d="M177.0 398.1V498.1M166.0 398.1h22M166.0 498.1h22" stroke="#ffff00" stroke-width="2.4" fill="none"/>
<path d="M183.6 396.0V496.0M172.6 396.0h22M172.6 496.0h22" stroke="#ffff00" stroke-width="2.4" fill="none"/>
<path d="M190.2 398.1V498.1M179.2 398.1h22M179.2 498.1h22" stroke="#ffff00" stroke-width="2.4" fill="none"/>
<path d="M196.8 398.4V498.4M185.8 398.4h22M185.8 498.4h22" stroke="#ffff00" stroke-width="2.4" fill="none"/>
<path d="M203.4 396.8V496.8M192.4 396.8h22M192.4 496.8h22" stroke="#ffff00" stroke-width="2.4" fill="none"/>
<path d="M210.1 397.3V497.3M199.1 397.3h22M199.1 497.3h22" stroke="#ffff00" stroke-width="2.4" fill="none"/>
<path d="M216.7 397.9V497.9M205.7 397.9h22M205.7 497.9h22" stroke="#ffff00" stroke-width="2.4" fill="none"/>
<path d="M223.3 396.9V496.9M212.3 396.9h22M212.3 496.9h22" stroke="#ffff00" stroke-width="2.4" fill="none"/>
<path d="M229.9 398.8V498.8M218.9 398.8h22M218.9 498.8h22" stroke="#ffff00" stroke-width="2.4" fill="none"/>
<path d="M236.5 398.4V498.4M225.5 398.4h22M225.5 498.4h22" stroke="#ffff00" stroke-width="2.4" fill="none"/>
<path d="M243.1 399.0V499.0M232.1 399.0h22M232.1 499.0h22" stroke="#ffff00" stroke-width="2.4" fill="none"/>
<path d="M249.7 397.8V497.8M238.7 397.8h22M238.7 497.8h22" stroke="#ffff00" stroke-width="2.4" fill="none"/>
<path d="M256.4 398.3V498.3M245.4 398.3h22M245.4 498.3h22" stroke="#ffff00" stroke-width="2.4" fill="none"/>
<path d="M263.0 397.6V497.6M252.0 397.6h22M252.0 497.6h22" stroke="#ffff00" stroke-width="2.4" fill="none"/>
<path d="M269.6 398.3V498.3M258.6 398.3h22M258.6 498.3h22" stroke="#ffff00" stroke-width="2.4" fill="none"/>
<path d="M276.2 399.8V499.8M265.2 399.8h22M265.2 499.8h22" stroke="#ffff00" stroke-width="2.4" fill="none"/>
<path d="M282.8 400.8V500.8M271.8 400.8h22M271.8 500.8h22" stroke="#ffff00" stroke-width="2.4" fill="none"/>
<path d="M289.4 398.6V498.6M278.4 398.6h22M278.4 498.6h22" stroke="#ffff00" stroke-width="2.4" fill="none"/>
<path d="M296.0 398.6V498.6M285.0 398.6h22M285.0 498.6h22" stroke="#ffff00" stroke-width="2.4" fill="none"/>
<path d="M302.6 399.0V499.0M291.6 399.0h22M291.6 499.0h22" stroke="#ffff00" stroke-width="2.4" fill="none"/>
<path d="M309.2 400.3V500.3M298.2 400.3h22M298.2 500.3h22" stroke="#ffff00" stroke-width="2.4" fill="none"/>
<path d="M315.9 401.7V501.7M304.9 401.7h22M304.9 501.7h22" stroke="#ffff00" stroke-width="2.4" fill="none"/>
<path d="M322.5 400.4V500.4M311.5 400.4h22M311.5 500.4h22" stroke="#ffff00" stroke-width="2.4" fill="none"/>
<path d="M329.1 401.6V501.6M318.1 401.6h22M318.1 501.6h22" stroke="#ffff00" stroke-width="2.4" fill="none"/>
<path d="M335.7 402.2V502.2M324.7 402.2h22M324.7 502.2h22" stroke="#ffff00" stroke-width="2.4" fill="none"/>
<path d="M342.3 403.6V503.6M331.3 403.6h22M331.3 503.6h22" stroke="#ffff00" stroke-width="2.4" fill="none"/>
<path d="M348.9 402.1V502.1M337.9 402.1h22M337.9 502.1h22" stroke="#ffff00" stroke-width="2.4" fill="none"/>
<path d="M355.5 402.1V502.1M344.5 402.1h22M344.5 502.1h22" stroke="#ffff00" stroke-width="2.4" fill="none"/>
<path d="M362.1 404.0V504.0M351.1 404.0h22M351.1 504.0h22" stroke="#ffff00" stroke-width="2.4" fill="none"/>
<path d="M368.8 403.6V503.6M357.8 403.6h22M357.8 503.6h22" stroke="#ffff00" stroke-width="2.4" fill="none"/>
<path d="M373.4 417.0V517.0M362.4 417.0h22M362.4 517.0h22" stroke="#ffff00" stroke-width="2.4" fill="none"/>
<path d="M178.0 418.6L197.8 451.6L158.2 451.6Z" fill="#fff" stroke="#909090" stroke-width="0.9"/>
<path d="M184.6 416.5L204.4 449.5L164.9 449.5Z" fill="#fff" stroke="#909090" stroke-width="0.9"/>
<path d="M191.2 418.6L211.0 451.6L171.5 451.6Z" fill="#fff" stroke="#909090" stroke-width="0.9"/>
<path d="M197.8 418.9L217.6 451.9L178.1 451.9Z" fill="#fff" stroke="#909090" stroke-width="0.9"/>
<path d="M204.4 417.3L224.2 450.3L184.7 450.3Z" fill="#fff" stroke="#909090" stroke-width="0.9"/>
<path d="M211.1 417.8L230.8 450.8L191.3 450.8Z" fill="#fff" stroke="#909090" stroke-width="0.9"/>
<path d="M217.7 418.4L237.4 451.4L197.9 451.4Z" fill="#fff" stroke="#909090" stroke-width="0.9"/>
<path d="M224.3 417.4L244.0 450.4L204.5 450.4Z" fill="#fff" stroke="#909090" stroke-width="0.9"/>
<path d="M230.9 419.3L250.7 452.3L211.2 452.3Z" fill="#fff" stroke="#909090" stroke-width="0.9"/>
<path d="M237.5 418.9L257.3 451.9L217.8 451.9Z" fill="#fff" stroke="#909090" stroke-width="0.9"/>
<path d="M244.1 419.5L263.9 452.5L224.4 452.5Z" fill="#fff" stroke="#909090" stroke-width="0.9"/>
<path d="M250.7 418.3L270.5 451.3L231.0 451.3Z" fill="#fff" stroke="#909090" stroke-width="0.9"/>
<path d="M257.4 418.8L277.1 451.8L237.6 451.8Z" fill="#fff" stroke="#909090" stroke-width="0.9"/>
<path d="M264.0 418.1L283.7 451.1L244.2 451.1Z" fill="#fff" stroke="#909090" stroke-width="0.9"/>
<path d="M270.6 418.8L290.3 451.8L250.8 451.8Z" fill="#fff" stroke="#909090" stroke-width="0.9"/>
<path d="M277.2 420.3L296.9 453.3L257.4 453.3Z" fill="#fff" stroke="#909090" stroke-width="0.9"/>
<path d="M283.8 421.3L303.6 454.3L264.1 454.3Z" fill="#fff" stroke="#909090" stroke-width="0.9"/>
<path d="M290.4 419.1L310.2 452.1L270.7 452.1Z" fill="#fff" stroke="#909090" stroke-width="0.9"/>
<path d="M297.0 419.1L316.8 452.1L277.3 452.1Z" fill="#fff" stroke="#909090" stroke-width="0.9"/>
<path d="M303.6 419.5L323.4 452.5L283.9 452.5Z" fill="#fff" stroke="#909090" stroke-width="0.9"/>
<path d="M310.2 420.8L330.0 453.8L290.5 453.8Z" fill="#fff" stroke="#909090" stroke-width="0.9"/>
<path d="M316.9 422.2L336.6 455.2L297.1 455.2Z" fill="#fff" stroke="#909090" stroke-width="0.9"/>
<path d="M323.5 420.9L343.2 453.9L303.7 453.9Z" fill="#fff" stroke="#909090" stroke-width="0.9"/>
<path d="M330.1 422.1L349.8 455.1L310.3 455.1Z" fill="#fff" stroke="#909090" stroke-width="0.9"/>
<path d="M336.7 422.7L356.4 455.7L316.9 455.7Z" fill="#fff" stroke="#909090" stroke-width="0.9"/>
<path d="M343.3 424.1L363.1 457.1L323.6 457.1Z" fill="#fff" stroke="#909090" stroke-width="0.9"/>
<path d="M349.9 422.6L369.7 455.6L330.2 455.6Z" fill="#fff" stroke="#909090" stroke-width="0.9"/>
<path d="M356.5 422.6L376.3 455.6L336.8 455.6Z" fill="#fff" stroke="#909090" stroke-width="0.9"/>
<path d="M363.1 424.5L382.9 457.5L343.4 457.5Z" fill="#fff" stroke="#909090" stroke-width="0.9"/>
<path d="M369.8 424.1L389.5 457.1L350.0 457.1Z" fill="#fff" stroke="#909090" stroke-width="0.9"/>
<path d="M374.4 437.5L394.1 470.5L354.6 470.5Z" fill="#fff" stroke="#909090" stroke-width="0.9"/>
<path d="M177.0 431.6L196.8 464.6L157.2 464.6Z" fill="#ffff00" stroke="#000" stroke-width="0.9"/>
<path d="M183.6 429.5L203.4 462.5L163.9 462.5Z" fill="#ffff00" stroke="#000" stroke-width="0.9"/>
<path d="M190.2 431.6L210.0 464.6L170.5 464.6Z" fill="#ffff00" stroke="#000" stroke-width="0.9"/>
<path d="M196.8 431.9L216.6 464.9L177.1 464.9Z" fill="#ffff00" stroke="#000" stroke-width="0.9"/>
<path d="M203.4 430.3L223.2 463.3L183.7 463.3Z" fill="#ffff00" stroke="#000" stroke-width="0.9"/>
<path d="M210.1 430.8L229.8 463.8L190.3 463.8Z" fill="#ffff00" stroke="#000" stroke-width="0.9"/>
<path d="M216.7 431.4L236.4 464.4L196.9 464.4Z" fill="#ffff00" stroke="#000" stroke-width="0.9"/>
<path d="M223.3 430.4L243.0 463.4L203.5 463.4Z" fill="#ffff00" stroke="#000" stroke-width="0.9"/>
<path d="M229.9 432.3L249.7 465.3L210.2 465.3Z" fill="#ffff00" stroke="#000" stroke-width="0.9"/>
<path d="M236.5 431.9L256.3 464.9L216.8 464.9Z" fill="#ffff00" stroke="#000" stroke-width="0.9"/>
<path d="M243.1 432.5L262.9 465.5L223.4 465.5Z" fill="#ffff00" stroke="#000" stroke-width="0.9"/>
<path d="M249.7 431.3L269.5 464.3L230.0 464.3Z" fill="#ffff00" stroke="#000" stroke-width="0.9"/>
<path d="M256.4 431.8L276.1 464.8L236.6 464.8Z" fill="#ffff00" stroke="#000" stroke-width="0.9"/>
<path d="M263.0 431.1L282.7 464.1L243.2 464.1Z" fill="#ffff00" stroke="#000" stroke-width="0.9"/>
<path d="M269.6 431.8L289.3 464.8L249.8 464.8Z" fill="#ffff00" stroke="#000" stroke-width="0.9"/>
<path d="M276.2 433.3L295.9 466.3L256.4 466.3Z" fill="#ffff00" stroke="#000" stroke-width="0.9"/>
<path d="M282.8 434.3L302.6 467.3L263.1 467.3Z" fill="#ffff00" stroke="#000" stroke-width="0.9"/>
<path d="M289.4 432.1L309.2 465.1L269.7 465.1Z" fill="#ffff00" stroke="#000" stroke-width="0.9"/>
<path d="M296.0 432.1L315.8 465.1L276.3 465.1Z" fill="#ffff00" stroke="#000" stroke-width="0.9"/>
<path d="M302.6 432.5L322.4 465.5L282.9 465.5Z" fill="#ffff00" stroke="#000" stroke-width="0.9"/>
<path d="M309.2 433.8L329.0 466.8L289.5 466.8Z" fill="#ffff00" stroke="#000" stroke-width="0.9"/>
<path d="M315.9 435.2L335.6 468.2L296.1 468.2Z" fill="#ffff00" stroke="#000" stroke-width="0.9"/>
<path d="M322.5 433.9L342.2 466.9L302.7 466.9Z" fill="#ffff00" stroke="#000" stroke-width="0.9"/>
<path d="M329.1 435.1L348.8 468.1L309.3 468.1Z" fill="#ffff00" stroke="#000" stroke-width="0.9"/>
<path d="M335.7 435.7L355.4 468.7L315.9 468.7Z" fill="#ffff00" stroke="#000" stroke-width="0.9"/>
<path d="M342.3 437.1L362.1 470.1L322.6 470.1Z" fill="#ffff00" stroke="#000" stroke-width="0.9"/>
<path d="M348.9 435.6L368.7 468.6L329.2 468.6Z" fill="#ffff00" stroke="#000" stroke-width="0.9"/>
<path d="M355.5 435.6L375.3 468.6L335.8 468.6Z" fill="#ffff00" stroke="#000" stroke-width="0.9"/>
<path d="M362.1 437.5L381.9 470.5L342.4 470.5Z" fill="#ffff00" stroke="#000" stroke-width="0.9"/>
<path d="M368.8 437.1L388.5 470.1L349.0 470.1Z" fill="#ffff00" stroke="#000" stroke-width="0.9"/>
<path d="M373.4 450.5L393.1 483.5L353.6 483.5Z" fill="#ffff00" stroke="#000" stroke-width="0.9"/>
<text x="167.5" y="1098.5" text-anchor="end" font-size="54.5">100</text>
<text x="167.5" y="886.7" text-anchor="end" font-size="54.5">150</text>
<text x="167.5" y="674.9" text-anchor="end" font-size="54.5">200</text>
<text x="167.5" y="463.1" text-anchor="end" font-size="54.5">250</text>
<text x="167.5" y="251.3" text-anchor="end" font-size="54.5">300</text>
<text x="167.5" y="39.5" text-anchor="end" font-size="54.5">350</text>
<text x="177.0" y="1139" text-anchor="middle" font-size="54.5">0</text>
<text x="309.2" y="1139" text-anchor="middle" font-size="54.5">20</text>
<text x="441.5" y="1139" text-anchor="middle" font-size="54.5">40</text>
<text x="573.8" y="1139" text-anchor="middle" font-size="54.5">60</text>
<text x="706.0" y="1139" text-anchor="middle" font-size="54.5">80</text>
<text x="838.2" y="1139" text-anchor="middle" font-size="54.5">100</text>
<text x="970.5" y="1139" text-anchor="middle" font-size="54.5">120</text>
<text x="1102.8" y="1139" text-anchor="middle" font-size="54.5">140</text>
<text x="1235.0" y="1139" text-anchor="middle" font-size="54.5">160</text>
<text x="708" y="1197" text-anchor="middle" font-size="54.5" font-style="italic">N</text>
<text transform="translate(44 670) rotate(-90)" font-size="54"><tspan font-style="italic">Q</tspan> (mAh/g)</text>
<text x="282" y="95" font-size="53" fill="#5a5a5a"><tspan font-style="italic">C</tspan>/35</text>
<text x="280.5" y="143" font-size="41.5" fill="#5a5a5a">(liquid electrolyte)</text>
<text x="194" y="372" font-size="53" fill="#ffff00"><tspan font-style="italic">C</tspan>/50</text>
<text x="209" y="703" font-size="53" fill="#109a10"><tspan font-style="italic">C</tspan>/4</text>
<text x="206" y="923" font-size="53" fill="#0000dd"><tspan font-style="italic">C</tspan>/3</text>
<text x="1103" y="890" font-size="53" fill="#e81010"><tspan font-style="italic">C</tspan>/20</text>
<rect x="724" y="45" width="483" height="463" fill="#fff" stroke="#000" stroke-width="2.2"/>
<rect x="796.6" y="67.6" width="383.6" height="370.3" fill="none" stroke="#000" stroke-width="1.6"/>
<path d="M820.6 437.9v-4M820.6 67.6v4M844.6 437.9v-7M844.6 67.6v7M868.5 437.9v-4M868.5 67.6v4M892.5 437.9v-7M892.5 67.6v7M916.5 437.9v-4M916.5 67.6v4M940.5 437.9v-7M940.5 67.6v7M964.4 437.9v-4M964.4 67.6v4M988.4 437.9v-7M988.4 67.6v7M1012.4 437.9v-4M1012.4 67.6v4M1036.3 437.9v-7M1036.3 67.6v7M1060.3 437.9v-4M1060.3 67.6v4M1084.3 437.9v-7M1084.3 67.6v7M1108.3 437.9v-4M1108.3 67.6v4M1132.2 437.9v-7M1132.2 67.6v7M1156.2 437.9v-4M1156.2 67.6v4M796.6 411.4h4M1180.2 411.4h-4M796.6 385.0h7M1180.2 385.0h-7M796.6 358.5h4M1180.2 358.5h-4M796.6 332.1h7M1180.2 332.1h-7M796.6 305.6h4M1180.2 305.6h-4M796.6 279.2h7M1180.2 279.2h-7M796.6 252.8h4M1180.2 252.8h-4M796.6 226.3h7M1180.2 226.3h-7M796.6 199.8h4M1180.2 199.8h-4M796.6 173.4h7M1180.2 173.4h-7M796.6 146.9h4M1180.2 146.9h-4M796.6 120.5h7M1180.2 120.5h-7M796.6 94.0h4M1180.2 94.0h-4" stroke="#000" stroke-width="1.6" fill="none"/>
<path d="M808 108L851 85" stroke="#f4f070" stroke-width="1.8"/><path d="M1037 103L1084 89" stroke="#0000cc" stroke-width="1.6"/><path d="M866 200L888 275" stroke="#009a00" stroke-width="1.8"/><path d="M1102 225L1083 255" stroke="#e00000" stroke-width="1.8"/><path d="M801 233L831 339" stroke="#999" stroke-width="1.8"/>
<circle cx="799.0" cy="118.3" r="9.5" fill="#999" stroke="#555" stroke-width="0.8"/><circle cx="801.4" cy="123.2" r="9.5" fill="#999" stroke="#555" stroke-width="0.8"/><circle cx="803.8" cy="123.5" r="9.5" fill="#999" stroke="#555" stroke-width="0.8"/><circle cx="806.2" cy="119.7" r="9.5" fill="#999" stroke="#555" stroke-width="0.8"/><circle cx="808.6" cy="124.4" r="9.5" fill="#999" stroke="#555" stroke-width="0.8"/><circle cx="811.0" cy="125.6" r="9.5" fill="#999" stroke="#555" stroke-width="0.8"/><circle cx="813.4" cy="125.7" r="9.5" fill="#999" stroke="#555" stroke-width="0.8"/><circle cx="815.8" cy="117.6" r="9.5" fill="#999" stroke="#555" stroke-width="0.8"/><circle cx="818.2" cy="123.3" r="9.5" fill="#999" stroke="#555" stroke-width="0.8"/><circle cx="820.6" cy="116.3" r="9.5" fill="#999" stroke="#555" stroke-width="0.8"/><circle cx="823.0" cy="121.0" r="9.5" fill="#999" stroke="#555" stroke-width="0.8"/><circle cx="825.4" cy="119.8" r="9.5" fill="#999" stroke="#555" stroke-width="0.8"/><circle cx="827.8" cy="122.1" r="9.5" fill="#999" stroke="#555" stroke-width="0.8"/><circle cx="830.2" cy="119.1" r="9.5" fill="#999" stroke="#555" stroke-width="0.8"/><circle cx="832.6" cy="114.1" r="9.5" fill="#999" stroke="#555" stroke-width="0.8"/><circle cx="835.0" cy="118.4" r="9.5" fill="#999" stroke="#555" stroke-width="0.8"/><circle cx="837.4" cy="114.5" r="9.5" fill="#999" stroke="#555" stroke-width="0.8"/><circle cx="839.8" cy="118.7" r="9.5" fill="#999" stroke="#555" stroke-width="0.8"/><circle cx="842.2" cy="112.3" r="9.5" fill="#999" stroke="#555" stroke-width="0.8"/><circle cx="844.6" cy="114.6" r="9.5" fill="#999" stroke="#555" stroke-width="0.8"/><circle cx="846.9" cy="117.4" r="9.5" fill="#999" stroke="#555" stroke-width="0.8"/><circle cx="849.3" cy="113.2" r="9.5" fill="#999" stroke="#555" stroke-width="0.8"/><circle cx="851.7" cy="115.7" r="9.5" fill="#999" stroke="#555" stroke-width="0.8"/><circle cx="854.1" cy="114.6" r="9.5" fill="#999" stroke="#555" stroke-width="0.8"/><circle cx="856.5" cy="113.4" r="9.5" fill="#999" stroke="#555" stroke-width="0.8"/><circle cx="858.9" cy="113.0" r="9.5" fill="#999" stroke="#555" stroke-width="0.8"/><circle cx="861.3" cy="107.8" r="9.5" fill="#999" stroke="#555" stroke-width="0.8"/><circle cx="863.7" cy="104.1" r="9.5" fill="#999" stroke="#555" stroke-width="0.8"/><circle cx="866.1" cy="103.6" r="9.5" fill="#999" stroke="#555" stroke-width="0.8"/><circle cx="868.5" cy="103.1" r="9.5" fill="#999" stroke="#555" stroke-width="0.8"/><circle cx="870.9" cy="100.2" r="9.5" fill="#999" stroke="#555" stroke-width="0.8"/><circle cx="873.3" cy="105.2" r="9.5" fill="#999" stroke="#555" stroke-width="0.8"/><circle cx="875.7" cy="99.8" r="9.5" fill="#999" stroke="#555" stroke-width="0.8"/><circle cx="878.1" cy="99.5" r="9.5" fill="#999" stroke="#555" stroke-width="0.8"/><circle cx="880.5" cy="108.2" r="9.5" fill="#999" stroke="#555" stroke-width="0.8"/><circle cx="882.9" cy="108.9" r="9.5" fill="#999" stroke="#555" stroke-width="0.8"/><circle cx="885.3" cy="106.3" r="9.5" fill="#999" stroke="#555" stroke-width="0.8"/><circle cx="887.7" cy="108.7" r="9.5" fill="#999" stroke="#555" stroke-width="0.8"/><circle cx="890.1" cy="132.6" r="9.5" fill="#999" stroke="#555" stroke-width="0.8"/><circle cx="892.5" cy="151.0" r="9.5" fill="#999" stroke="#555" stroke-width="0.8"/><circle cx="894.9" cy="155.1" r="9.5" fill="#999" stroke="#555" stroke-width="0.8"/><circle cx="897.3" cy="163.6" r="9.5" fill="#999" stroke="#555" stroke-width="0.8"/><circle cx="899.7" cy="173.8" r="9.5" fill="#999" stroke="#555" stroke-width="0.8"/><circle cx="902.1" cy="174.0" r="9.5" fill="#999" stroke="#555" stroke-width="0.8"/><circle cx="904.5" cy="188.9" r="9.5" fill="#999" stroke="#555" stroke-width="0.8"/><circle cx="906.9" cy="186.9" r="9.5" fill="#999" stroke="#555" stroke-width="0.8"/><circle cx="909.3" cy="185.3" r="9.5" fill="#999" stroke="#555" stroke-width="0.8"/><circle cx="911.7" cy="191.6" r="9.5" fill="#999" stroke="#555" stroke-width="0.8"/><circle cx="914.1" cy="187.2" r="9.5" fill="#999" stroke="#555" stroke-width="0.8"/><circle cx="916.5" cy="191.3" r="9.5" fill="#999" stroke="#555" stroke-width="0.8"/><circle cx="918.9" cy="193.4" r="9.5" fill="#999" stroke="#555" stroke-width="0.8"/><circle cx="921.3" cy="191.6" r="9.5" fill="#999" stroke="#555" stroke-width="0.8"/><circle cx="923.7" cy="197.5" r="9.5" fill="#999" stroke="#555" stroke-width="0.8"/><circle cx="926.1" cy="196.8" r="9.5" fill="#999" stroke="#555" stroke-width="0.8"/><circle cx="928.5" cy="193.3" r="9.5" fill="#999" stroke="#555" stroke-width="0.8"/><circle cx="930.9" cy="193.2" r="9.5" fill="#999" stroke="#555" stroke-width="0.8"/><circle cx="933.3" cy="192.5" r="9.5" fill="#999" stroke="#555" stroke-width="0.8"/><circle cx="935.7" cy="196.6" r="9.5" fill="#999" stroke="#555" stroke-width="0.8"/><circle cx="938.1" cy="193.5" r="9.5" fill="#999" stroke="#555" stroke-width="0.8"/><circle cx="940.5" cy="196.3" r="9.5" fill="#999" stroke="#555" stroke-width="0.8"/><circle cx="942.8" cy="198.2" r="9.5" fill="#999" stroke="#555" stroke-width="0.8"/><circle cx="945.2" cy="198.2" r="9.5" fill="#999" stroke="#555" stroke-width="0.8"/><circle cx="947.6" cy="191.7" r="9.5" fill="#999" stroke="#555" stroke-width="0.8"/><circle cx="950.0" cy="193.1" r="9.5" fill="#999" stroke="#555" stroke-width="0.8"/><circle cx="952.4" cy="193.3" r="9.5" fill="#999" stroke="#555" stroke-width="0.8"/><circle cx="954.8" cy="192.3" r="9.5" fill="#999" stroke="#555" stroke-width="0.8"/><circle cx="957.2" cy="191.8" r="9.5" fill="#999" stroke="#555" stroke-width="0.8"/><circle cx="959.6" cy="191.3" r="9.5" fill="#999" stroke="#555" stroke-width="0.8"/><circle cx="962.0" cy="192.9" r="9.5" fill="#999" stroke="#555" stroke-width="0.8"/><circle cx="964.4" cy="188.4" r="9.5" fill="#999" stroke="#555" stroke-width="0.8"/><circle cx="966.8" cy="187.1" r="9.5" fill="#999" stroke="#555" stroke-width="0.8"/><circle cx="969.2" cy="185.9" r="9.5" fill="#999" stroke="#555" stroke-width="0.8"/><circle cx="971.6" cy="182.4" r="9.5" fill="#999" stroke="#555" stroke-width="0.8"/><circle cx="974.0" cy="184.6" r="9.5" fill="#999" stroke="#555" stroke-width="0.8"/><circle cx="976.4" cy="181.2" r="9.5" fill="#999" stroke="#555" stroke-width="0.8"/><circle cx="978.8" cy="186.9" r="9.5" fill="#999" stroke="#555" stroke-width="0.8"/><circle cx="981.2" cy="187.8" r="9.5" fill="#999" stroke="#555" stroke-width="0.8"/><circle cx="983.6" cy="184.6" r="9.5" fill="#999" stroke="#555" stroke-width="0.8"/><circle cx="986.0" cy="186.3" r="9.5" fill="#999" stroke="#555" stroke-width="0.8"/><circle cx="988.4" cy="192.3" r="9.5" fill="#999" stroke="#555" stroke-width="0.8"/><circle cx="990.8" cy="191.5" r="9.5" fill="#999" stroke="#555" stroke-width="0.8"/><circle cx="993.2" cy="188.1" r="9.5" fill="#999" stroke="#555" stroke-width="0.8"/><circle cx="995.6" cy="194.0" r="9.5" fill="#999" stroke="#555" stroke-width="0.8"/><circle cx="998.0" cy="193.2" r="9.5" fill="#999" stroke="#555" stroke-width="0.8"/><circle cx="1000.4" cy="197.3" r="9.5" fill="#999" stroke="#555" stroke-width="0.8"/><circle cx="1002.8" cy="192.0" r="9.5" fill="#999" stroke="#555" stroke-width="0.8"/><circle cx="1005.2" cy="188.4" r="9.5" fill="#999" stroke="#555" stroke-width="0.8"/><circle cx="1007.6" cy="181.6" r="9.5" fill="#999" stroke="#555" stroke-width="0.8"/><circle cx="1010.0" cy="177.3" r="9.5" fill="#999" stroke="#555" stroke-width="0.8"/><circle cx="1012.4" cy="166.3" r="9.5" fill="#999" stroke="#555" stroke-width="0.8"/><circle cx="1014.8" cy="166.7" r="9.5" fill="#999" stroke="#555" stroke-width="0.8"/><circle cx="1017.2" cy="164.5" r="9.5" fill="#999" stroke="#555" stroke-width="0.8"/><circle cx="1019.6" cy="170.9" r="9.5" fill="#999" stroke="#555" stroke-width="0.8"/><circle cx="1022.0" cy="165.2" r="9.5" fill="#999" stroke="#555" stroke-width="0.8"/><circle cx="1024.4" cy="168.4" r="9.5" fill="#999" stroke="#555" stroke-width="0.8"/><circle cx="1026.8" cy="168.5" r="9.5" fill="#999" stroke="#555" stroke-width="0.8"/><circle cx="1029.2" cy="171.3" r="9.5" fill="#999" stroke="#555" stroke-width="0.8"/><circle cx="1031.6" cy="168.3" r="9.5" fill="#999" stroke="#555" stroke-width="0.8"/><circle cx="1034.0" cy="166.7" r="9.5" fill="#999" stroke="#555" stroke-width="0.8"/><circle cx="1036.3" cy="169.1" r="9.5" fill="#999" stroke="#555" stroke-width="0.8"/><circle cx="825.4" cy="168.0" r="9.5" fill="#999" stroke="#555" stroke-width="0.8"/><circle cx="832.6" cy="172.0" r="9.5" fill="#999" stroke="#555" stroke-width="0.8"/><circle cx="837.4" cy="170.0" r="9.5" fill="#999" stroke="#555" stroke-width="0.8"/><circle cx="799.6" cy="229.6" r="10" fill="#999" stroke="#777" stroke-width="0.8"/><path d="M796.6 162.9L808.1 181.4L785.1 181.4Z" fill="#0000ff" stroke="#00008a" stroke-width="0.6"/><path d="M799.0 164.0L810.5 182.5L787.5 182.5Z" fill="#0000ff" stroke="#00008a" stroke-width="0.6"/><path d="M801.4 165.3L812.9 183.8L789.9 183.8Z" fill="#0000ff" stroke="#00008a" stroke-width="0.6"/><path d="M803.8 163.0L815.3 181.5L792.3 181.5Z" fill="#0000ff" stroke="#00008a" stroke-width="0.6"/><path d="M806.2 166.7L817.7 185.2L794.7 185.2Z" fill="#0000ff" stroke="#00008a" stroke-width="0.6"/><path d="M808.6 164.9L820.1 183.4L797.1 183.4Z" fill="#0000ff" stroke="#00008a" stroke-width="0.6"/><path d="M815.8 106.4L827.3 124.9L804.3 124.9Z" fill="#0000ff" stroke="#00008a" stroke-width="0.6"/><path d="M818.2 118.1L829.7 136.6L806.7 136.6Z" fill="#0000ff" stroke="#00008a" stroke-width="0.6"/><path d="M820.6 102.8L832.1 121.3L809.1 121.3Z" fill="#0000ff" stroke="#00008a" stroke-width="0.6"/><path d="M823.0 106.8L834.5 125.3L811.5 125.3Z" fill="#0000ff" stroke="#00008a" stroke-width="0.6"/><path d="M825.4 120.4L836.9 138.9L813.9 138.9Z" fill="#0000ff" stroke="#00008a" stroke-width="0.6"/><path d="M827.8 105.0L839.3 123.5L816.3 123.5Z" fill="#0000ff" stroke="#00008a" stroke-width="0.6"/><path d="M830.2 115.9L841.7 134.4L818.7 134.4Z" fill="#0000ff" stroke="#00008a" stroke-width="0.6"/><path d="M832.6 101.5L844.1 120.0L821.1 120.0Z" fill="#0000ff" stroke="#00008a" stroke-width="0.6"/><path d="M835.0 111.5L846.5 130.0L823.5 130.0Z" fill="#0000ff" stroke="#00008a" stroke-width="0.6"/><path d="M837.4 114.2L848.9 132.7L825.9 132.7Z" fill="#0000ff" stroke="#00008a" stroke-width="0.6"/><path d="M839.8 104.4L851.3 122.9L828.3 122.9Z" fill="#0000ff" stroke="#00008a" stroke-width="0.6"/><path d="M842.2 107.0L853.7 125.5L830.7 125.5Z" fill="#0000ff" stroke="#00008a" stroke-width="0.6"/><path d="M844.6 111.9L856.1 130.4L833.1 130.4Z" fill="#0000ff" stroke="#00008a" stroke-width="0.6"/><path d="M846.9 112.7L858.4 131.2L835.4 131.2Z" fill="#0000ff" stroke="#00008a" stroke-width="0.6"/><path d="M849.3 103.1L860.8 121.6L837.8 121.6Z" fill="#0000ff" stroke="#00008a" stroke-width="0.6"/><path d="M851.7 108.8L863.2 127.3L840.2 127.3Z" fill="#0000ff" stroke="#00008a" stroke-width="0.6"/><path d="M854.1 121.7L865.6 140.2L842.6 140.2Z" fill="#0000ff" stroke="#00008a" stroke-width="0.6"/><path d="M856.5 106.8L868.0 125.3L845.0 125.3Z" fill="#0000ff" stroke="#00008a" stroke-width="0.6"/><path d="M858.9 117.0L870.4 135.5L847.4 135.5Z" fill="#0000ff" stroke="#00008a" stroke-width="0.6"/><path d="M861.3 104.2L872.8 122.7L849.8 122.7Z" fill="#0000ff" stroke="#00008a" stroke-width="0.6"/><path d="M863.7 109.9L875.2 128.4L852.2 128.4Z" fill="#0000ff" stroke="#00008a" stroke-width="0.6"/><path d="M866.1 111.1L877.6 129.6L854.6 129.6Z" fill="#0000ff" stroke="#00008a" stroke-width="0.6"/><path d="M868.5 112.9L880.0 131.4L857.0 131.4Z" fill="#0000ff" stroke="#00008a" stroke-width="0.6"/><path d="M870.9 115.5L882.4 134.0L859.4 134.0Z" fill="#0000ff" stroke="#00008a" stroke-width="0.6"/><path d="M873.3 117.3L884.8 135.8L861.8 135.8Z" fill="#0000ff" stroke="#00008a" stroke-width="0.6"/><path d="M875.7 115.2L887.2 133.7L864.2 133.7Z" fill="#0000ff" stroke="#00008a" stroke-width="0.6"/><path d="M878.1 117.5L889.6 136.0L866.6 136.0Z" fill="#0000ff" stroke="#00008a" stroke-width="0.6"/><path d="M880.5 119.2L892.0 137.7L869.0 137.7Z" fill="#0000ff" stroke="#00008a" stroke-width="0.6"/><path d="M882.9 106.9L894.4 125.4L871.4 125.4Z" fill="#0000ff" stroke="#00008a" stroke-width="0.6"/><path d="M885.3 118.0L896.8 136.5L873.8 136.5Z" fill="#0000ff" stroke="#00008a" stroke-width="0.6"/><path d="M887.7 111.2L899.2 129.7L876.2 129.7Z" fill="#0000ff" stroke="#00008a" stroke-width="0.6"/><path d="M890.1 105.5L901.6 124.0L878.6 124.0Z" fill="#0000ff" stroke="#00008a" stroke-width="0.6"/><path d="M892.5 103.6L904.0 122.1L881.0 122.1Z" fill="#0000ff" stroke="#00008a" stroke-width="0.6"/><path d="M894.9 116.6L906.4 135.1L883.4 135.1Z" fill="#0000ff" stroke="#00008a" stroke-width="0.6"/><path d="M897.3 101.3L908.8 119.8L885.8 119.8Z" fill="#0000ff" stroke="#00008a" stroke-width="0.6"/><path d="M899.7 100.7L911.2 119.2L888.2 119.2Z" fill="#0000ff" stroke="#00008a" stroke-width="0.6"/><path d="M902.1 112.3L913.6 130.8L890.6 130.8Z" fill="#0000ff" stroke="#00008a" stroke-width="0.6"/><path d="M904.5 132.5L916.0 151.0L893.0 151.0Z" fill="#0000ff" stroke="#00008a" stroke-width="0.6"/><path d="M906.9 117.8L918.4 136.3L895.4 136.3Z" fill="#0000ff" stroke="#00008a" stroke-width="0.6"/><path d="M909.3 107.7L920.8 126.2L897.8 126.2Z" fill="#0000ff" stroke="#00008a" stroke-width="0.6"/><path d="M911.7 115.6L923.2 134.1L900.2 134.1Z" fill="#0000ff" stroke="#00008a" stroke-width="0.6"/><path d="M914.1 110.6L925.6 129.1L902.6 129.1Z" fill="#0000ff" stroke="#00008a" stroke-width="0.6"/><path d="M916.5 129.7L928.0 148.2L905.0 148.2Z" fill="#0000ff" stroke="#00008a" stroke-width="0.6"/><path d="M918.9 115.8L930.4 134.3L907.4 134.3Z" fill="#0000ff" stroke="#00008a" stroke-width="0.6"/><path d="M921.3 110.1L932.8 128.6L909.8 128.6Z" fill="#0000ff" stroke="#00008a" stroke-width="0.6"/><path d="M923.7 102.8L935.2 121.3L912.2 121.3Z" fill="#0000ff" stroke="#00008a" stroke-width="0.6"/><path d="M926.1 109.3L937.6 127.8L914.6 127.8Z" fill="#0000ff" stroke="#00008a" stroke-width="0.6"/><path d="M928.5 103.9L940.0 122.4L917.0 122.4Z" fill="#0000ff" stroke="#00008a" stroke-width="0.6"/><path d="M930.9 114.5L942.4 133.0L919.4 133.0Z" fill="#0000ff" stroke="#00008a" stroke-width="0.6"/><path d="M933.3 116.1L944.8 134.6L921.8 134.6Z" fill="#0000ff" stroke="#00008a" stroke-width="0.6"/><path d="M935.7 118.5L947.2 137.0L924.2 137.0Z" fill="#0000ff" stroke="#00008a" stroke-width="0.6"/><path d="M938.1 119.1L949.6 137.6L926.6 137.6Z" fill="#0000ff" stroke="#00008a" stroke-width="0.6"/><path d="M940.5 127.6L952.0 146.1L929.0 146.1Z" fill="#0000ff" stroke="#00008a" stroke-width="0.6"/><path d="M942.8 120.2L954.3 138.7L931.3 138.7Z" fill="#0000ff" stroke="#00008a" stroke-width="0.6"/><path d="M945.2 100.8L956.7 119.3L933.7 119.3Z" fill="#0000ff" stroke="#00008a" stroke-width="0.6"/><path d="M947.6 120.3L959.1 138.8L936.1 138.8Z" fill="#0000ff" stroke="#00008a" stroke-width="0.6"/><path d="M950.0 121.5L961.5 140.0L938.5 140.0Z" fill="#0000ff" stroke="#00008a" stroke-width="0.6"/><path d="M952.4 127.4L963.9 145.9L940.9 145.9Z" fill="#0000ff" stroke="#00008a" stroke-width="0.6"/><path d="M954.8 105.7L966.3 124.2L943.3 124.2Z" fill="#0000ff" stroke="#00008a" stroke-width="0.6"/><path d="M957.2 134.9L968.7 153.4L945.7 153.4Z" fill="#0000ff" stroke="#00008a" stroke-width="0.6"/><path d="M959.6 116.6L971.1 135.1L948.1 135.1Z" fill="#0000ff" stroke="#00008a" stroke-width="0.6"/><path d="M962.0 134.1L973.5 152.6L950.5 152.6Z" fill="#0000ff" stroke="#00008a" stroke-width="0.6"/><path d="M964.4 113.9L975.9 132.4L952.9 132.4Z" fill="#0000ff" stroke="#00008a" stroke-width="0.6"/><path d="M966.8 136.7L978.3 155.2L955.3 155.2Z" fill="#0000ff" stroke="#00008a" stroke-width="0.6"/><path d="M969.2 118.2L980.7 136.7L957.7 136.7Z" fill="#0000ff" stroke="#00008a" stroke-width="0.6"/><path d="M971.6 117.7L983.1 136.2L960.1 136.2Z" fill="#0000ff" stroke="#00008a" stroke-width="0.6"/><path d="M974.0 133.5L985.5 152.0L962.5 152.0Z" fill="#0000ff" stroke="#00008a" stroke-width="0.6"/><path d="M976.4 105.0L987.9 123.5L964.9 123.5Z" fill="#0000ff" stroke="#00008a" stroke-width="0.6"/><path d="M978.8 118.9L990.3 137.4L967.3 137.4Z" fill="#0000ff" stroke="#00008a" stroke-width="0.6"/><path d="M981.2 119.4L992.7 137.9L969.7 137.9Z" fill="#0000ff" stroke="#00008a" stroke-width="0.6"/><path d="M983.6 106.2L995.1 124.7L972.1 124.7Z" fill="#0000ff" stroke="#00008a" stroke-width="0.6"/><path d="M986.0 99.8L997.5 118.3L974.5 118.3Z" fill="#0000ff" stroke="#00008a" stroke-width="0.6"/><path d="M988.4 131.5L999.9 150.0L976.9 150.0Z" fill="#0000ff" stroke="#00008a" stroke-width="0.6"/><path d="M990.8 121.4L1002.3 139.9L979.3 139.9Z" fill="#0000ff" stroke="#00008a" stroke-width="0.6"/><path d="M993.2 120.4L1004.7 138.9L981.7 138.9Z" fill="#0000ff" stroke="#00008a" stroke-width="0.6"/><path d="M995.6 110.6L1007.1 129.1L984.1 129.1Z" fill="#0000ff" stroke="#00008a" stroke-width="0.6"/><path d="M998.0 101.2L1009.5 119.7L986.5 119.7Z" fill="#0000ff" stroke="#00008a" stroke-width="0.6"/><path d="M1000.4 127.3L1011.9 145.8L988.9 145.8Z" fill="#0000ff" stroke="#00008a" stroke-width="0.6"/><path d="M1002.8 129.1L1014.3 147.6L991.3 147.6Z" fill="#0000ff" stroke="#00008a" stroke-width="0.6"/><path d="M1005.2 117.5L1016.7 136.0L993.7 136.0Z" fill="#0000ff" stroke="#00008a" stroke-width="0.6"/><path d="M1007.6 111.5L1019.1 130.0L996.1 130.0Z" fill="#0000ff" stroke="#00008a" stroke-width="0.6"/><path d="M1010.0 106.3L1021.5 124.8L998.5 124.8Z" fill="#0000ff" stroke="#00008a" stroke-width="0.6"/><path d="M1012.4 103.7L1023.9 122.2L1000.9 122.2Z" fill="#0000ff" stroke="#00008a" stroke-width="0.6"/><path d="M1014.8 120.9L1026.3 139.4L1003.3 139.4Z" fill="#0000ff" stroke="#00008a" stroke-width="0.6"/><path d="M1017.2 132.9L1028.7 151.4L1005.7 151.4Z" fill="#0000ff" stroke="#00008a" stroke-width="0.6"/><path d="M1019.6 145.0L1031.1 163.5L1008.1 163.5Z" fill="#0000ff" stroke="#00008a" stroke-width="0.6"/><path d="M1022.0 142.5L1033.5 161.0L1010.5 161.0Z" fill="#0000ff" stroke="#00008a" stroke-width="0.6"/><path d="M1024.4 113.5L1035.9 132.0L1012.9 132.0Z" fill="#0000ff" stroke="#00008a" stroke-width="0.6"/><path d="M1026.8 150.2L1038.3 168.7L1015.3 168.7Z" fill="#0000ff" stroke="#00008a" stroke-width="0.6"/><path d="M1029.2 110.0L1040.7 128.5L1017.7 128.5Z" fill="#0000ff" stroke="#00008a" stroke-width="0.6"/><path d="M1031.6 129.3L1043.1 147.8L1020.1 147.8Z" fill="#0000ff" stroke="#00008a" stroke-width="0.6"/><path d="M1034.0 145.3L1045.5 163.8L1022.5 163.8Z" fill="#0000ff" stroke="#00008a" stroke-width="0.6"/><path d="M1036.3 102.8L1047.8 121.3L1024.8 121.3Z" fill="#0000ff" stroke="#00008a" stroke-width="0.6"/><path d="M1038.7 106.8L1050.2 125.3L1027.2 125.3Z" fill="#0000ff" stroke="#00008a" stroke-width="0.6"/><path d="M1041.1 133.5L1052.6 152.0L1029.6 152.0Z" fill="#0000ff" stroke="#00008a" stroke-width="0.6"/><path d="M1043.5 117.2L1055.0 135.7L1032.0 135.7Z" fill="#0000ff" stroke="#00008a" stroke-width="0.6"/><path d="M1045.9 129.6L1057.4 148.1L1034.4 148.1Z" fill="#0000ff" stroke="#00008a" stroke-width="0.6"/><path d="M1048.3 111.9L1059.8 130.4L1036.8 130.4Z" fill="#0000ff" stroke="#00008a" stroke-width="0.6"/><path d="M1050.7 104.4L1062.2 122.9L1039.2 122.9Z" fill="#0000ff" stroke="#00008a" stroke-width="0.6"/><path d="M1032.0 94.8L1043.5 113.2L1020.5 113.2Z" fill="#0000ff" stroke="#00008a" stroke-width="0.6"/><path d="M1008.0 105.8L1019.5 124.2L996.5 124.2Z" fill="#0000ff" stroke="#00008a" stroke-width="0.6"/><path d="M1045.0 135.8L1056.5 154.2L1033.5 154.2Z" fill="#0000ff" stroke="#00008a" stroke-width="0.6"/><path d="M1048.0 140.8L1059.5 159.2L1036.5 159.2Z" fill="#0000ff" stroke="#00008a" stroke-width="0.6"/><path d="M801.4 154.1L812.9 172.6L789.9 172.6Z" fill="#ff0000" stroke="#8a0000" stroke-width="0.6"/><path d="M803.8 150.2L815.3 168.7L792.3 168.7Z" fill="#ff0000" stroke="#8a0000" stroke-width="0.6"/><path d="M806.2 147.5L817.7 166.0L794.7 166.0Z" fill="#ff0000" stroke="#8a0000" stroke-width="0.6"/><path d="M808.6 156.0L820.1 174.5L797.1 174.5Z" fill="#ff0000" stroke="#8a0000" stroke-width="0.6"/><path d="M811.0 150.1L822.5 168.6L799.5 168.6Z" fill="#ff0000" stroke="#8a0000" stroke-width="0.6"/><path d="M813.4 148.5L824.9 167.0L801.9 167.0Z" fill="#ff0000" stroke="#8a0000" stroke-width="0.6"/><path d="M815.8 150.9L827.3 169.4L804.3 169.4Z" fill="#ff0000" stroke="#8a0000" stroke-width="0.6"/><path d="M818.2 148.4L829.7 166.9L806.7 166.9Z" fill="#ff0000" stroke="#8a0000" stroke-width="0.6"/><path d="M820.6 148.0L832.1 166.5L809.1 166.5Z" fill="#ff0000" stroke="#8a0000" stroke-width="0.6"/><path d="M823.0 152.7L834.5 171.2L811.5 171.2Z" fill="#ff0000" stroke="#8a0000" stroke-width="0.6"/><path d="M825.4 154.3L836.9 172.8L813.9 172.8Z" fill="#ff0000" stroke="#8a0000" stroke-width="0.6"/><path d="M827.8 149.7L839.3 168.2L816.3 168.2Z" fill="#ff0000" stroke="#8a0000" stroke-width="0.6"/><path d="M830.2 146.7L841.7 165.2L818.7 165.2Z" fill="#ff0000" stroke="#8a0000" stroke-width="0.6"/><path d="M832.6 150.5L844.1 169.0L821.1 169.0Z" fill="#ff0000" stroke="#8a0000" stroke-width="0.6"/><path d="M835.0 149.6L846.5 168.1L823.5 168.1Z" fill="#ff0000" stroke="#8a0000" stroke-width="0.6"/><path d="M837.4 150.0L848.9 168.5L825.9 168.5Z" fill="#ff0000" stroke="#8a0000" stroke-width="0.6"/><path d="M839.8 147.6L851.3 166.1L828.3 166.1Z" fill="#ff0000" stroke="#8a0000" stroke-width="0.6"/><path d="M842.2 154.0L853.7 172.5L830.7 172.5Z" fill="#ff0000" stroke="#8a0000" stroke-width="0.6"/><path d="M844.6 147.2L856.1 165.7L833.1 165.7Z" fill="#ff0000" stroke="#8a0000" stroke-width="0.6"/><path d="M846.9 145.2L858.4 163.7L835.4 163.7Z" fill="#ff0000" stroke="#8a0000" stroke-width="0.6"/><path d="M849.3 153.2L860.8 171.7L837.8 171.7Z" fill="#ff0000" stroke="#8a0000" stroke-width="0.6"/><path d="M851.7 153.7L863.2 172.2L840.2 172.2Z" fill="#ff0000" stroke="#8a0000" stroke-width="0.6"/><path d="M854.1 147.6L865.6 166.1L842.6 166.1Z" fill="#ff0000" stroke="#8a0000" stroke-width="0.6"/><path d="M856.5 146.8L868.0 165.3L845.0 165.3Z" fill="#ff0000" stroke="#8a0000" stroke-width="0.6"/><path d="M858.9 151.7L870.4 170.2L847.4 170.2Z" fill="#ff0000" stroke="#8a0000" stroke-width="0.6"/><path d="M861.3 155.8L872.8 174.3L849.8 174.3Z" fill="#ff0000" stroke="#8a0000" stroke-width="0.6"/><path d="M863.7 147.8L875.2 166.3L852.2 166.3Z" fill="#ff0000" stroke="#8a0000" stroke-width="0.6"/><path d="M866.1 151.2L877.6 169.7L854.6 169.7Z" fill="#ff0000" stroke="#8a0000" stroke-width="0.6"/><path d="M868.5 147.9L880.0 166.4L857.0 166.4Z" fill="#ff0000" stroke="#8a0000" stroke-width="0.6"/><path d="M870.9 153.6L882.4 172.1L859.4 172.1Z" fill="#ff0000" stroke="#8a0000" stroke-width="0.6"/><path d="M873.3 150.4L884.8 168.9L861.8 168.9Z" fill="#ff0000" stroke="#8a0000" stroke-width="0.6"/><path d="M875.7 149.3L887.2 167.8L864.2 167.8Z" fill="#ff0000" stroke="#8a0000" stroke-width="0.6"/><path d="M878.1 152.6L889.6 171.1L866.6 171.1Z" fill="#ff0000" stroke="#8a0000" stroke-width="0.6"/><path d="M880.5 151.6L892.0 170.1L869.0 170.1Z" fill="#ff0000" stroke="#8a0000" stroke-width="0.6"/><path d="M882.9 148.1L894.4 166.6L871.4 166.6Z" fill="#ff0000" stroke="#8a0000" stroke-width="0.6"/><path d="M885.3 151.1L896.8 169.6L873.8 169.6Z" fill="#ff0000" stroke="#8a0000" stroke-width="0.6"/><path d="M887.7 158.0L899.2 176.5L876.2 176.5Z" fill="#ff0000" stroke="#8a0000" stroke-width="0.6"/><path d="M890.1 156.6L901.6 175.1L878.6 175.1Z" fill="#ff0000" stroke="#8a0000" stroke-width="0.6"/><path d="M892.5 153.6L904.0 172.1L881.0 172.1Z" fill="#ff0000" stroke="#8a0000" stroke-width="0.6"/><path d="M894.9 155.9L906.4 174.4L883.4 174.4Z" fill="#ff0000" stroke="#8a0000" stroke-width="0.6"/><path d="M897.3 150.1L908.8 168.6L885.8 168.6Z" fill="#ff0000" stroke="#8a0000" stroke-width="0.6"/><path d="M899.7 153.8L911.2 172.3L888.2 172.3Z" fill="#ff0000" stroke="#8a0000" stroke-width="0.6"/><path d="M902.1 160.0L913.6 178.5L890.6 178.5Z" fill="#ff0000" stroke="#8a0000" stroke-width="0.6"/><path d="M904.5 152.0L916.0 170.5L893.0 170.5Z" fill="#ff0000" stroke="#8a0000" stroke-width="0.6"/><path d="M906.9 162.0L918.4 180.5L895.4 180.5Z" fill="#ff0000" stroke="#8a0000" stroke-width="0.6"/><path d="M909.3 160.9L920.8 179.4L897.8 179.4Z" fill="#ff0000" stroke="#8a0000" stroke-width="0.6"/><path d="M911.7 159.4L923.2 177.9L900.2 177.9Z" fill="#ff0000" stroke="#8a0000" stroke-width="0.6"/><path d="M914.1 156.1L925.6 174.6L902.6 174.6Z" fill="#ff0000" stroke="#8a0000" stroke-width="0.6"/><path d="M916.5 153.2L928.0 171.7L905.0 171.7Z" fill="#ff0000" stroke="#8a0000" stroke-width="0.6"/><path d="M918.9 156.1L930.4 174.6L907.4 174.6Z" fill="#ff0000" stroke="#8a0000" stroke-width="0.6"/><path d="M921.3 161.9L932.8 180.4L909.8 180.4Z" fill="#ff0000" stroke="#8a0000" stroke-width="0.6"/><path d="M923.7 158.5L935.2 177.0L912.2 177.0Z" fill="#ff0000" stroke="#8a0000" stroke-width="0.6"/><path d="M926.1 163.6L937.6 182.1L914.6 182.1Z" fill="#ff0000" stroke="#8a0000" stroke-width="0.6"/><path d="M928.5 157.0L940.0 175.5L917.0 175.5Z" fill="#ff0000" stroke="#8a0000" stroke-width="0.6"/><path d="M930.9 164.8L942.4 183.3L919.4 183.3Z" fill="#ff0000" stroke="#8a0000" stroke-width="0.6"/><path d="M933.3 165.7L944.8 184.2L921.8 184.2Z" fill="#ff0000" stroke="#8a0000" stroke-width="0.6"/><path d="M935.7 164.5L947.2 183.0L924.2 183.0Z" fill="#ff0000" stroke="#8a0000" stroke-width="0.6"/><path d="M938.1 158.7L949.6 177.2L926.6 177.2Z" fill="#ff0000" stroke="#8a0000" stroke-width="0.6"/><path d="M940.5 159.4L952.0 177.9L929.0 177.9Z" fill="#ff0000" stroke="#8a0000" stroke-width="0.6"/><path d="M942.8 157.9L954.3 176.4L931.3 176.4Z" fill="#ff0000" stroke="#8a0000" stroke-width="0.6"/><path d="M945.2 158.2L956.7 176.7L933.7 176.7Z" fill="#ff0000" stroke="#8a0000" stroke-width="0.6"/><path d="M947.6 166.8L959.1 185.3L936.1 185.3Z" fill="#ff0000" stroke="#8a0000" stroke-width="0.6"/><path d="M950.0 164.2L961.5 182.7L938.5 182.7Z" fill="#ff0000" stroke="#8a0000" stroke-width="0.6"/><path d="M952.4 167.9L963.9 186.4L940.9 186.4Z" fill="#ff0000" stroke="#8a0000" stroke-width="0.6"/><path d="M954.8 162.5L966.3 181.0L943.3 181.0Z" fill="#ff0000" stroke="#8a0000" stroke-width="0.6"/><path d="M957.2 163.7L968.7 182.2L945.7 182.2Z" fill="#ff0000" stroke="#8a0000" stroke-width="0.6"/><path d="M959.6 170.7L971.1 189.2L948.1 189.2Z" fill="#ff0000" stroke="#8a0000" stroke-width="0.6"/><path d="M962.0 172.3L973.5 190.8L950.5 190.8Z" fill="#ff0000" stroke="#8a0000" stroke-width="0.6"/><path d="M964.4 162.0L975.9 180.5L952.9 180.5Z" fill="#ff0000" stroke="#8a0000" stroke-width="0.6"/><path d="M966.8 170.5L978.3 189.0L955.3 189.0Z" fill="#ff0000" stroke="#8a0000" stroke-width="0.6"/><path d="M969.2 168.2L980.7 186.7L957.7 186.7Z" fill="#ff0000" stroke="#8a0000" stroke-width="0.6"/><path d="M971.6 162.0L983.1 180.5L960.1 180.5Z" fill="#ff0000" stroke="#8a0000" stroke-width="0.6"/><path d="M974.0 169.7L985.5 188.2L962.5 188.2Z" fill="#ff0000" stroke="#8a0000" stroke-width="0.6"/><path d="M976.4 166.1L987.9 184.6L964.9 184.6Z" fill="#ff0000" stroke="#8a0000" stroke-width="0.6"/><path d="M978.8 167.4L990.3 185.9L967.3 185.9Z" fill="#ff0000" stroke="#8a0000" stroke-width="0.6"/><path d="M981.2 175.2L992.7 193.7L969.7 193.7Z" fill="#ff0000" stroke="#8a0000" stroke-width="0.6"/><path d="M983.6 172.9L995.1 191.4L972.1 191.4Z" fill="#ff0000" stroke="#8a0000" stroke-width="0.6"/><path d="M986.0 165.0L997.5 183.5L974.5 183.5Z" fill="#ff0000" stroke="#8a0000" stroke-width="0.6"/><path d="M988.4 172.9L999.9 191.4L976.9 191.4Z" fill="#ff0000" stroke="#8a0000" stroke-width="0.6"/><path d="M990.8 165.2L1002.3 183.7L979.3 183.7Z" fill="#ff0000" stroke="#8a0000" stroke-width="0.6"/><path d="M993.2 176.0L1004.7 194.5L981.7 194.5Z" fill="#ff0000" stroke="#8a0000" stroke-width="0.6"/><path d="M995.6 172.8L1007.1 191.3L984.1 191.3Z" fill="#ff0000" stroke="#8a0000" stroke-width="0.6"/><path d="M998.0 173.5L1009.5 192.0L986.5 192.0Z" fill="#ff0000" stroke="#8a0000" stroke-width="0.6"/><path d="M1000.4 166.4L1011.9 184.9L988.9 184.9Z" fill="#ff0000" stroke="#8a0000" stroke-width="0.6"/><path d="M1002.8 167.6L1014.3 186.1L991.3 186.1Z" fill="#ff0000" stroke="#8a0000" stroke-width="0.6"/><path d="M1005.2 173.2L1016.7 191.7L993.7 191.7Z" fill="#ff0000" stroke="#8a0000" stroke-width="0.6"/><path d="M1007.6 171.7L1019.1 190.2L996.1 190.2Z" fill="#ff0000" stroke="#8a0000" stroke-width="0.6"/><path d="M1010.0 177.3L1021.5 195.8L998.5 195.8Z" fill="#ff0000" stroke="#8a0000" stroke-width="0.6"/><path d="M1012.4 171.2L1023.9 189.7L1000.9 189.7Z" fill="#ff0000" stroke="#8a0000" stroke-width="0.6"/><path d="M1014.8 172.8L1026.3 191.3L1003.3 191.3Z" fill="#ff0000" stroke="#8a0000" stroke-width="0.6"/><path d="M1017.2 169.8L1028.7 188.3L1005.7 188.3Z" fill="#ff0000" stroke="#8a0000" stroke-width="0.6"/><path d="M1019.6 174.7L1031.1 193.2L1008.1 193.2Z" fill="#ff0000" stroke="#8a0000" stroke-width="0.6"/><path d="M1022.0 180.4L1033.5 198.9L1010.5 198.9Z" fill="#ff0000" stroke="#8a0000" stroke-width="0.6"/><path d="M1024.4 172.4L1035.9 190.9L1012.9 190.9Z" fill="#ff0000" stroke="#8a0000" stroke-width="0.6"/><path d="M1026.8 179.0L1038.3 197.5L1015.3 197.5Z" fill="#ff0000" stroke="#8a0000" stroke-width="0.6"/><path d="M1029.2 171.8L1040.7 190.3L1017.7 190.3Z" fill="#ff0000" stroke="#8a0000" stroke-width="0.6"/><path d="M1031.6 180.8L1043.1 199.3L1020.1 199.3Z" fill="#ff0000" stroke="#8a0000" stroke-width="0.6"/><path d="M1034.0 176.6L1045.5 195.1L1022.5 195.1Z" fill="#ff0000" stroke="#8a0000" stroke-width="0.6"/><path d="M1036.3 172.3L1047.8 190.8L1024.8 190.8Z" fill="#ff0000" stroke="#8a0000" stroke-width="0.6"/><path d="M1038.7 180.4L1050.2 198.9L1027.2 198.9Z" fill="#ff0000" stroke="#8a0000" stroke-width="0.6"/><path d="M1041.1 182.0L1052.6 200.5L1029.6 200.5Z" fill="#ff0000" stroke="#8a0000" stroke-width="0.6"/><path d="M1043.5 173.4L1055.0 191.9L1032.0 191.9Z" fill="#ff0000" stroke="#8a0000" stroke-width="0.6"/><path d="M1045.9 173.4L1057.4 191.9L1034.4 191.9Z" fill="#ff0000" stroke="#8a0000" stroke-width="0.6"/><path d="M1048.3 175.3L1059.8 193.8L1036.8 193.8Z" fill="#ff0000" stroke="#8a0000" stroke-width="0.6"/><path d="M1050.7 178.7L1062.2 197.2L1039.2 197.2Z" fill="#ff0000" stroke="#8a0000" stroke-width="0.6"/><path d="M1053.1 184.3L1064.6 202.8L1041.6 202.8Z" fill="#ff0000" stroke="#8a0000" stroke-width="0.6"/><path d="M1055.5 183.5L1067.0 202.0L1044.0 202.0Z" fill="#ff0000" stroke="#8a0000" stroke-width="0.6"/><path d="M1057.9 177.3L1069.4 195.8L1046.4 195.8Z" fill="#ff0000" stroke="#8a0000" stroke-width="0.6"/><path d="M1060.3 174.2L1071.8 192.7L1048.8 192.7Z" fill="#ff0000" stroke="#8a0000" stroke-width="0.6"/><path d="M1062.7 181.2L1074.2 199.7L1051.2 199.7Z" fill="#ff0000" stroke="#8a0000" stroke-width="0.6"/><path d="M1065.1 181.2L1076.6 199.7L1053.6 199.7Z" fill="#ff0000" stroke="#8a0000" stroke-width="0.6"/><path d="M1067.5 177.5L1079.0 196.0L1056.0 196.0Z" fill="#ff0000" stroke="#8a0000" stroke-width="0.6"/><path d="M1069.9 182.2L1081.4 200.7L1058.4 200.7Z" fill="#ff0000" stroke="#8a0000" stroke-width="0.6"/><path d="M1072.3 187.0L1083.8 205.5L1060.8 205.5Z" fill="#ff0000" stroke="#8a0000" stroke-width="0.6"/><path d="M1074.7 177.3L1086.2 195.8L1063.2 195.8Z" fill="#ff0000" stroke="#8a0000" stroke-width="0.6"/><path d="M1077.1 179.6L1088.6 198.1L1065.6 198.1Z" fill="#ff0000" stroke="#8a0000" stroke-width="0.6"/><path d="M1079.5 186.3L1091.0 204.8L1068.0 204.8Z" fill="#ff0000" stroke="#8a0000" stroke-width="0.6"/><path d="M1081.9 178.4L1093.4 196.9L1070.4 196.9Z" fill="#ff0000" stroke="#8a0000" stroke-width="0.6"/><path d="M1084.3 178.3L1095.8 196.8L1072.8 196.8Z" fill="#ff0000" stroke="#8a0000" stroke-width="0.6"/><path d="M1086.7 179.3L1098.2 197.8L1075.2 197.8Z" fill="#ff0000" stroke="#8a0000" stroke-width="0.6"/><path d="M1089.1 187.1L1100.6 205.6L1077.6 205.6Z" fill="#ff0000" stroke="#8a0000" stroke-width="0.6"/><path d="M1091.5 179.9L1103.0 198.4L1080.0 198.4Z" fill="#ff0000" stroke="#8a0000" stroke-width="0.6"/><path d="M1093.9 180.0L1105.4 198.5L1082.4 198.5Z" fill="#ff0000" stroke="#8a0000" stroke-width="0.6"/><path d="M1096.3 186.9L1107.8 205.4L1084.8 205.4Z" fill="#ff0000" stroke="#8a0000" stroke-width="0.6"/><path d="M1098.7 189.2L1110.2 207.7L1087.2 207.7Z" fill="#ff0000" stroke="#8a0000" stroke-width="0.6"/><path d="M1101.1 189.6L1112.6 208.1L1089.6 208.1Z" fill="#ff0000" stroke="#8a0000" stroke-width="0.6"/><path d="M1103.5 186.2L1115.0 204.7L1092.0 204.7Z" fill="#ff0000" stroke="#8a0000" stroke-width="0.6"/><path d="M1105.9 192.5L1117.4 211.0L1094.4 211.0Z" fill="#ff0000" stroke="#8a0000" stroke-width="0.6"/><path d="M1108.3 183.9L1119.8 202.4L1096.8 202.4Z" fill="#ff0000" stroke="#8a0000" stroke-width="0.6"/><path d="M1110.7 187.9L1122.2 206.4L1099.2 206.4Z" fill="#ff0000" stroke="#8a0000" stroke-width="0.6"/><path d="M1113.1 187.6L1124.6 206.1L1101.6 206.1Z" fill="#ff0000" stroke="#8a0000" stroke-width="0.6"/><path d="M1115.5 190.2L1127.0 208.7L1104.0 208.7Z" fill="#ff0000" stroke="#8a0000" stroke-width="0.6"/><path d="M1117.9 186.5L1129.4 205.0L1106.4 205.0Z" fill="#ff0000" stroke="#8a0000" stroke-width="0.6"/><path d="M1120.3 186.5L1131.8 205.0L1108.8 205.0Z" fill="#ff0000" stroke="#8a0000" stroke-width="0.6"/><path d="M1122.7 197.4L1134.2 215.9L1111.2 215.9Z" fill="#ff0000" stroke="#8a0000" stroke-width="0.6"/><path d="M1125.1 190.0L1136.6 208.5L1113.6 208.5Z" fill="#ff0000" stroke="#8a0000" stroke-width="0.6"/><path d="M1127.5 193.1L1139.0 211.6L1116.0 211.6Z" fill="#ff0000" stroke="#8a0000" stroke-width="0.6"/><path d="M1129.9 198.9L1141.4 217.4L1118.4 217.4Z" fill="#ff0000" stroke="#8a0000" stroke-width="0.6"/><path d="M1132.2 192.4L1143.8 210.9L1120.8 210.9Z" fill="#ff0000" stroke="#8a0000" stroke-width="0.6"/><path d="M1134.6 193.9L1146.1 212.4L1123.1 212.4Z" fill="#ff0000" stroke="#8a0000" stroke-width="0.6"/><path d="M1137.0 197.1L1148.5 215.6L1125.5 215.6Z" fill="#ff0000" stroke="#8a0000" stroke-width="0.6"/><path d="M1139.4 192.0L1150.9 210.5L1127.9 210.5Z" fill="#ff0000" stroke="#8a0000" stroke-width="0.6"/><path d="M1141.8 192.2L1153.3 210.7L1130.3 210.7Z" fill="#ff0000" stroke="#8a0000" stroke-width="0.6"/><path d="M1144.2 200.3L1155.7 218.8L1132.7 218.8Z" fill="#ff0000" stroke="#8a0000" stroke-width="0.6"/><path d="M1146.6 198.0L1158.1 216.5L1135.1 216.5Z" fill="#ff0000" stroke="#8a0000" stroke-width="0.6"/><path d="M1149.0 195.3L1160.5 213.8L1137.5 213.8Z" fill="#ff0000" stroke="#8a0000" stroke-width="0.6"/><path d="M1151.4 198.6L1162.9 217.1L1139.9 217.1Z" fill="#ff0000" stroke="#8a0000" stroke-width="0.6"/><path d="M1153.8 204.3L1165.3 222.8L1142.3 222.8Z" fill="#ff0000" stroke="#8a0000" stroke-width="0.6"/><path d="M1156.2 205.9L1167.7 224.4L1144.7 224.4Z" fill="#ff0000" stroke="#8a0000" stroke-width="0.6"/><path d="M1158.6 202.8L1170.1 221.3L1147.1 221.3Z" fill="#ff0000" stroke="#8a0000" stroke-width="0.6"/><path d="M1161.0 199.4L1172.5 217.9L1149.5 217.9Z" fill="#ff0000" stroke="#8a0000" stroke-width="0.6"/><path d="M798.7 79.8L810.2 98.2L787.2 98.2Z" fill="#ff0000" stroke="#8a0000" stroke-width="0.6"/><path d="M895.0 93.8L906.5 112.2L883.5 112.2Z" fill="#ff0000" stroke="#8a0000" stroke-width="0.6"/><path d="M893.8 108.8L905.3 127.2L882.3 127.2Z" fill="#ff0000" stroke="#8a0000" stroke-width="0.6"/><path d="M888.0 135.8L899.5 154.2L876.5 154.2Z" fill="#ff0000" stroke="#8a0000" stroke-width="0.6"/><path d="M911.7 135.8L923.2 154.2L900.2 154.2Z" fill="#ff0000" stroke="#8a0000" stroke-width="0.6"/><path d="M895.0 189.8L906.5 208.2L883.5 208.2Z" fill="#ff0000" stroke="#8a0000" stroke-width="0.6"/><path d="M890.8 218.8L902.3 237.2L879.3 237.2Z" fill="#ff0000" stroke="#8a0000" stroke-width="0.6"/><path d="M992.0 80.8L1003.5 99.2L980.5 99.2Z" fill="#ff0000" stroke="#8a0000" stroke-width="0.6"/><path d="M990.0 148.8L1001.5 167.2L978.5 167.2Z" fill="#ff0000" stroke="#8a0000" stroke-width="0.6"/><path d="M984.0 234.8L995.5 253.2L972.5 253.2Z" fill="#ff0000" stroke="#8a0000" stroke-width="0.6"/><path d="M986.0 258.8L997.5 277.2L974.5 277.2Z" fill="#ff0000" stroke="#8a0000" stroke-width="0.6"/><path d="M1094.0 164.8L1105.5 183.2L1082.5 183.2Z" fill="#ff0000" stroke="#8a0000" stroke-width="0.6"/><path d="M1124.0 166.8L1135.5 185.2L1112.5 185.2Z" fill="#ff0000" stroke="#8a0000" stroke-width="0.6"/><path d="M1149.0 192.8L1160.5 211.2L1137.5 211.2Z" fill="#ff0000" stroke="#8a0000" stroke-width="0.6"/><path d="M1097.0 213.8L1108.5 232.2L1085.5 232.2Z" fill="#ff0000" stroke="#8a0000" stroke-width="0.6"/><path d="M1162.0 243.8L1173.5 262.2L1150.5 262.2Z" fill="#ff0000" stroke="#8a0000" stroke-width="0.6"/><path d="M1169.0 250.8L1180.5 269.2L1157.5 269.2Z" fill="#ff0000" stroke="#8a0000" stroke-width="0.6"/><path d="M1156.0 265.8L1167.5 284.2L1144.5 284.2Z" fill="#ff0000" stroke="#8a0000" stroke-width="0.6"/><path d="M1156.0 274.8L1167.5 293.2L1144.5 293.2Z" fill="#ff0000" stroke="#8a0000" stroke-width="0.6"/><path d="M1152.6 400.8L1164.1 419.2L1141.1 419.2Z" fill="#ff0000" stroke="#8a0000" stroke-width="0.6"/><path d="M796.6 150.5L808.1 169.0L785.1 169.0Z" fill="#00a000" stroke="#005000" stroke-width="0.6"/><path d="M799.0 145.4L810.5 163.9L787.5 163.9Z" fill="#00a000" stroke="#005000" stroke-width="0.6"/><path d="M801.4 149.8L812.9 168.3L789.9 168.3Z" fill="#00a000" stroke="#005000" stroke-width="0.6"/><path d="M803.8 145.0L815.3 163.5L792.3 163.5Z" fill="#00a000" stroke="#005000" stroke-width="0.6"/><path d="M806.2 151.2L817.7 169.7L794.7 169.7Z" fill="#00a000" stroke="#005000" stroke-width="0.6"/><path d="M808.6 149.9L820.1 168.4L797.1 168.4Z" fill="#00a000" stroke="#005000" stroke-width="0.6"/><path d="M811.0 147.8L822.5 166.3L799.5 166.3Z" fill="#00a000" stroke="#005000" stroke-width="0.6"/><path d="M813.4 147.2L824.9 165.7L801.9 165.7Z" fill="#00a000" stroke="#005000" stroke-width="0.6"/><path d="M815.8 148.3L827.3 166.8L804.3 166.8Z" fill="#00a000" stroke="#005000" stroke-width="0.6"/><path d="M818.2 149.0L829.7 167.5L806.7 167.5Z" fill="#00a000" stroke="#005000" stroke-width="0.6"/><path d="M820.6 148.2L832.1 166.7L809.1 166.7Z" fill="#00a000" stroke="#005000" stroke-width="0.6"/><path d="M823.0 149.3L834.5 167.8L811.5 167.8Z" fill="#00a000" stroke="#005000" stroke-width="0.6"/><path d="M825.4 144.5L836.9 163.0L813.9 163.0Z" fill="#00a000" stroke="#005000" stroke-width="0.6"/><path d="M827.8 147.1L839.3 165.6L816.3 165.6Z" fill="#00a000" stroke="#005000" stroke-width="0.6"/><path d="M830.2 149.8L841.7 168.3L818.7 168.3Z" fill="#00a000" stroke="#005000" stroke-width="0.6"/><path d="M832.6 147.3L844.1 165.8L821.1 165.8Z" fill="#00a000" stroke="#005000" stroke-width="0.6"/><path d="M835.0 151.5L846.5 170.0L823.5 170.0Z" fill="#00a000" stroke="#005000" stroke-width="0.6"/><path d="M837.4 148.0L848.9 166.5L825.9 166.5Z" fill="#00a000" stroke="#005000" stroke-width="0.6"/><path d="M839.8 146.2L851.3 164.7L828.3 164.7Z" fill="#00a000" stroke="#005000" stroke-width="0.6"/><path d="M842.2 150.9L853.7 169.4L830.7 169.4Z" fill="#00a000" stroke="#005000" stroke-width="0.6"/><path d="M844.6 147.1L856.1 165.6L833.1 165.6Z" fill="#00a000" stroke="#005000" stroke-width="0.6"/><path d="M846.9 148.1L858.4 166.6L835.4 166.6Z" fill="#00a000" stroke="#005000" stroke-width="0.6"/><path d="M849.3 148.9L860.8 167.4L837.8 167.4Z" fill="#00a000" stroke="#005000" stroke-width="0.6"/><path d="M851.7 150.6L863.2 169.1L840.2 169.1Z" fill="#00a000" stroke="#005000" stroke-width="0.6"/><path d="M854.1 145.4L865.6 163.9L842.6 163.9Z" fill="#00a000" stroke="#005000" stroke-width="0.6"/><path d="M856.5 150.7L868.0 169.2L845.0 169.2Z" fill="#00a000" stroke="#005000" stroke-width="0.6"/><path d="M858.9 148.3L870.4 166.8L847.4 166.8Z" fill="#00a000" stroke="#005000" stroke-width="0.6"/><path d="M861.3 146.7L872.8 165.2L849.8 165.2Z" fill="#00a000" stroke="#005000" stroke-width="0.6"/><path d="M863.7 146.4L875.2 164.9L852.2 164.9Z" fill="#00a000" stroke="#005000" stroke-width="0.6"/><path d="M866.1 151.6L877.6 170.1L854.6 170.1Z" fill="#00a000" stroke="#005000" stroke-width="0.6"/><path d="M868.5 151.3L880.0 169.8L857.0 169.8Z" fill="#00a000" stroke="#005000" stroke-width="0.6"/><path d="M870.9 148.1L882.4 166.6L859.4 166.6Z" fill="#00a000" stroke="#005000" stroke-width="0.6"/><path d="M799.0 154.8L810.5 173.2L787.5 173.2Z" fill="#00a000" stroke="#005000" stroke-width="0.6"/><path d="M803.8 156.8L815.3 175.2L792.3 175.2Z" fill="#00a000" stroke="#005000" stroke-width="0.6"/><path d="M863.7 156.8L875.2 175.2L852.2 175.2Z" fill="#00a000" stroke="#005000" stroke-width="0.6"/><path d="M858.9 173.8L870.4 192.2L847.4 192.2Z" fill="#00a000" stroke="#005000" stroke-width="0.6"/><path d="M856.5 188.8L868.0 207.2L845.0 207.2Z" fill="#00a000" stroke="#005000" stroke-width="0.6"/><path d="M868.5 188.8L880.0 207.2L857.0 207.2Z" fill="#00a000" stroke="#005000" stroke-width="0.6"/><path d="M861.3 180.8L872.8 199.2L849.8 199.2Z" fill="#00a000" stroke="#005000" stroke-width="0.6"/><path d="M796.6 99.8L808.1 118.2L785.1 118.2Z" fill="#eee21a" stroke="#5a5a00" stroke-width="0.8"/><path d="M808.6 114.8L820.1 133.2L797.1 133.2Z" fill="#eee21a" stroke="#5a5a00" stroke-width="0.8"/><path d="M803.8 131.8L815.3 150.3L792.3 150.3Z" fill="#eee21a" stroke="#5a5a00" stroke-width="0.8"/><path d="M806.2 135.6L817.7 154.1L794.7 154.1Z" fill="#eee21a" stroke="#5a5a00" stroke-width="0.8"/><path d="M808.6 129.8L820.1 148.3L797.1 148.3Z" fill="#eee21a" stroke="#5a5a00" stroke-width="0.8"/><path d="M811.0 130.0L822.5 148.5L799.5 148.5Z" fill="#eee21a" stroke="#5a5a00" stroke-width="0.8"/><path d="M813.4 132.7L824.9 151.2L801.9 151.2Z" fill="#eee21a" stroke="#5a5a00" stroke-width="0.8"/><path d="M815.8 133.3L827.3 151.8L804.3 151.8Z" fill="#eee21a" stroke="#5a5a00" stroke-width="0.8"/><path d="M818.2 129.8L829.7 148.3L806.7 148.3Z" fill="#eee21a" stroke="#5a5a00" stroke-width="0.8"/><path d="M820.6 130.9L832.1 149.4L809.1 149.4Z" fill="#eee21a" stroke="#5a5a00" stroke-width="0.8"/><path d="M823.0 130.3L834.5 148.8L811.5 148.8Z" fill="#eee21a" stroke="#5a5a00" stroke-width="0.8"/><path d="M825.4 131.2L836.9 149.7L813.9 149.7Z" fill="#eee21a" stroke="#5a5a00" stroke-width="0.8"/><path d="M827.8 130.8L839.3 149.3L816.3 149.3Z" fill="#eee21a" stroke="#5a5a00" stroke-width="0.8"/><path d="M830.2 130.5L841.7 149.0L818.7 149.0Z" fill="#eee21a" stroke="#5a5a00" stroke-width="0.8"/><path d="M832.6 130.5L844.1 149.0L821.1 149.0Z" fill="#eee21a" stroke="#5a5a00" stroke-width="0.8"/><path d="M835.0 132.0L846.5 150.5L823.5 150.5Z" fill="#eee21a" stroke="#5a5a00" stroke-width="0.8"/><path d="M837.4 130.5L848.9 149.0L825.9 149.0Z" fill="#eee21a" stroke="#5a5a00" stroke-width="0.8"/><path d="M839.8 134.4L851.3 152.9L828.3 152.9Z" fill="#eee21a" stroke="#5a5a00" stroke-width="0.8"/><path d="M842.2 132.2L853.7 150.7L830.7 150.7Z" fill="#eee21a" stroke="#5a5a00" stroke-width="0.8"/><path d="M844.6 130.5L856.1 149.0L833.1 149.0Z" fill="#eee21a" stroke="#5a5a00" stroke-width="0.8"/><path d="M846.9 133.7L858.4 152.2L835.4 152.2Z" fill="#eee21a" stroke="#5a5a00" stroke-width="0.8"/><path d="M849.3 134.5L860.8 153.0L837.8 153.0Z" fill="#eee21a" stroke="#5a5a00" stroke-width="0.8"/><path d="M851.7 131.9L863.2 150.4L840.2 150.4Z" fill="#eee21a" stroke="#5a5a00" stroke-width="0.8"/><path d="M854.1 129.8L865.6 148.3L842.6 148.3Z" fill="#eee21a" stroke="#5a5a00" stroke-width="0.8"/><path d="M856.5 133.7L868.0 152.2L845.0 152.2Z" fill="#eee21a" stroke="#5a5a00" stroke-width="0.8"/><path d="M858.9 134.3L870.4 152.8L847.4 152.8Z" fill="#eee21a" stroke="#5a5a00" stroke-width="0.8"/><path d="M861.3 135.1L872.8 153.6L849.8 153.6Z" fill="#eee21a" stroke="#5a5a00" stroke-width="0.8"/><path d="M863.7 134.0L875.2 152.5L852.2 152.5Z" fill="#eee21a" stroke="#5a5a00" stroke-width="0.8"/><path d="M866.1 133.3L877.6 151.8L854.6 151.8Z" fill="#eee21a" stroke="#5a5a00" stroke-width="0.8"/><path d="M863.7 119.8L875.2 138.2L852.2 138.2Z" fill="#eee21a" stroke="#5a5a00" stroke-width="0.8"/><path d="M868.5 134.8L880.0 153.2L857.0 153.2Z" fill="#eee21a" stroke="#5a5a00" stroke-width="0.8"/>
<text transform="translate(792.5 447.7) scale(1.08 1)" font-size="25" fill="#000" text-anchor="end">88</text>
<text transform="translate(792.5 394.8) scale(1.08 1)" font-size="25" fill="#000" text-anchor="end">90</text>
<text transform="translate(792.5 341.9) scale(1.08 1)" font-size="25" fill="#000" text-anchor="end">92</text>
<text transform="translate(792.5 289.0) scale(1.08 1)" font-size="25" fill="#000" text-anchor="end">94</text>
<text transform="translate(792.5 236.1) scale(1.08 1)" font-size="25" fill="#000" text-anchor="end">96</text>
<text transform="translate(792.5 183.2) scale(1.08 1)" font-size="25" fill="#000" text-anchor="end">98</text>
<text transform="translate(792.5 130.3) scale(1.08 1)" font-size="25" fill="#000" text-anchor="end">100</text>
<text transform="translate(792.5 77.4) scale(1.08 1)" font-size="25" fill="#000" text-anchor="end">102</text>
<text transform="translate(796.6 467) scale(1.08 1)" font-size="25" fill="#000" text-anchor="middle">0</text>
<text transform="translate(844.6 467) scale(1.08 1)" font-size="25" fill="#000" text-anchor="middle">20</text>
<text transform="translate(892.5 467) scale(1.08 1)" font-size="25" fill="#000" text-anchor="middle">40</text>
<text transform="translate(940.5 467) scale(1.08 1)" font-size="25" fill="#000" text-anchor="middle">60</text>
<text transform="translate(988.4 467) scale(1.08 1)" font-size="25" fill="#000" text-anchor="middle">80</text>
<text transform="translate(1036.3 467) scale(1.08 1)" font-size="25" fill="#000" text-anchor="middle">100</text>
<text transform="translate(1084.3 467) scale(1.08 1)" font-size="25" fill="#000" text-anchor="middle">120</text>
<text transform="translate(1132.2 467) scale(1.08 1)" font-size="25" fill="#000" text-anchor="middle">140</text>
<text transform="translate(1180.2 467) scale(1.08 1)" font-size="25" fill="#000" text-anchor="middle">160</text>
<text transform="translate(991 501) scale(1.1 1)" font-size="25" fill="#000" text-anchor="middle" font-style="italic">N</text>
<text transform="translate(751 259) rotate(-90) scale(1.15 1)" font-size="26" font-style="italic">η</text>
<text transform="translate(854 96.5) scale(1.12 1)" font-size="25" fill="#f0ee70"><tspan font-style="italic">C</tspan>/50</text>
<text transform="translate(1088 99.5) scale(1.12 1)" font-size="25" fill="#0000cc"><tspan font-style="italic">C</tspan>/3</text>
<text transform="translate(877 299.5) scale(1.12 1)" font-size="25" fill="#009a00"><tspan font-style="italic">C</tspan>/4</text>
<text transform="translate(1053 281.5) scale(1.12 1)" font-size="25" fill="#e00000"><tspan font-style="italic">C</tspan>/20</text>
<text transform="translate(817 364.5) scale(1.12 1)" font-size="25" fill="#6a6a6a"><tspan font-style="italic">C</tspan>/35</text>
<text transform="translate(816 392) scale(1.12 1)" font-size="25" fill="#6a6a6a">(liquid electrolyte)</text>
</svg>
</body></html>
